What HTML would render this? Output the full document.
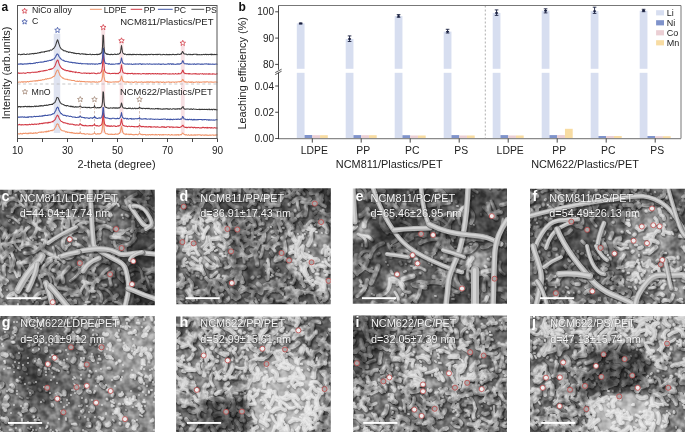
<!DOCTYPE html>
<html><head><meta charset="utf-8"><style>
html,body{margin:0;padding:0;background:#fff;}
svg{display:block;}
text{opacity:0.999;}
</style></head><body>
<svg width="685" height="432" viewBox="0 0 685 432">
<defs><filter id="bf" x="-20%" y="-20%" width="140%" height="140%" color-interpolation-filters="sRGB"><feGaussianBlur stdDeviation="6"/></filter>
<filter id="fb2" x="-30%" y="-30%" width="160%" height="160%" color-interpolation-filters="sRGB"><feGaussianBlur stdDeviation="2"/></filter>
<filter id="fb3" x="-30%" y="-30%" width="160%" height="160%" color-interpolation-filters="sRGB"><feGaussianBlur stdDeviation="3"/></filter>
<filter id="fb4" x="-30%" y="-30%" width="160%" height="160%" color-interpolation-filters="sRGB"><feGaussianBlur stdDeviation="4"/></filter>
<filter id="bw" x="-5%" y="-5%" width="110%" height="110%" color-interpolation-filters="sRGB"><feGaussianBlur stdDeviation="0.5"/></filter>
<clipPath id="cpc"><rect x="0" y="189.7" width="154.80" height="115.60"/></clipPath>
<filter id="txc" x="0" y="0" width="100%" height="100%" filterUnits="objectBoundingBox" color-interpolation-filters="sRGB"><feTurbulence type="fractalNoise" baseFrequency="0.15" numOctaves="2" seed="3"/><feColorMatrix type="matrix" values="2.0 0 0 0 -0.5  2.0 0 0 0 -0.5  2.0 0 0 0 -0.5  0 0 0 0 1"/><feGaussianBlur stdDeviation="0.6"/></filter>
<path id="wc0" d="M-0 243Q-0 232 -11 229M31 220Q26 211 32 203M18 262Q22 265 27 262M122 305Q126 309 127 314M130 245Q124 244 119 246M125 231Q132 225 139 231M124 231Q117 229 114 235M65 192Q73 193 81 195M17 277Q14 267 5 264M69 230Q69 238 76 239M98 282Q90 276 95 268M152 292Q149 284 146 277M72 204Q67 208 60 206M66 213Q71 211 77 211M97 240Q102 236 100 230M80 293Q83 282 94 283M73 270Q79 266 86 261M130 284Q137 288 145 286M20 261Q22 267 26 272M87 268Q84 275 84 283M31 193Q32 187 36 184M128 293Q126 300 119 301M126 279Q130 276 133 274M30 207Q35 206 39 209M45 302Q41 310 37 318M20 205Q13 206 12 212M86 199Q89 190 86 182M43 269Q50 274 51 282M46 243Q48 238 45 233M156 185Q156 181 157 177M7 298Q11 290 19 293M101 208Q106 208 110 204M84 300Q86 293 93 289M68 230Q69 224 69 217M115 299Q108 298 104 303M58 281Q54 285 56 289M6 206Q2 202 1 196M67 217Q76 218 84 219M93 198Q89 207 79 206M0 257Q4 252 10 248M28 288Q23 285 17 287M55 286Q56 276 47 272M97 235Q99 231 102 227M63 306Q66 303 70 303M156 253Q162 252 168 253M13 271Q10 265 10 258M30 223Q29 217 22 216M26 189Q22 186 17 185M66 226Q66 221 69 217M96 198Q100 190 95 182M113 301Q112 289 100 288M158 281Q163 279 168 277M151 194Q147 187 148 178M128 310Q133 317 134 325M62 303Q59 307 54 307M16 195Q18 204 27 208M36 242Q30 246 25 241M67 259Q63 251 56 246M146 232Q153 224 147 214M64 219Q61 224 62 231M70 244Q67 246 65 250M25 239Q24 233 26 228M20 250Q11 243 15 233M58 215Q68 211 72 220M53 247Q55 253 56 260M72 204Q67 209 71 214M39 264Q44 257 52 260M50 198Q55 192 58 186M123 253Q118 256 118 261M160 236Q165 235 167 240M125 297Q131 300 136 305M149 304Q152 310 159 311M96 197Q91 191 89 184M37 244Q28 243 25 234M70 304Q64 310 56 309M23 196Q21 189 14 187M50 295Q46 298 42 299M43 209Q51 211 60 213M71 300Q66 304 65 311M2 252Q9 254 11 261M137 266Q144 273 142 282M82 185Q77 190 71 188M141 206Q148 203 153 209M70 281Q77 277 80 270M36 270Q39 278 42 285M86 305Q76 309 78 319M93 197Q88 203 80 205M139 270Q134 268 130 271M49 271Q50 263 58 262M115 302Q120 302 124 306M19 223Q14 217 7 216M6 195Q3 201 3 209M150 303Q158 301 158 293M45 227Q44 236 53 239"/>
<path id="wc1" d="M84 270Q89 270 93 266M44 230Q50 232 50 238M130 258Q123 253 126 245M98 305Q95 309 98 314M135 307Q129 305 123 308M153 263Q154 272 146 274M80 254Q85 259 92 259M109 268Q102 272 99 280M133 218Q138 208 129 201M40 221Q36 216 34 209M64 262Q56 254 46 260M2 244Q8 242 12 247M96 259Q97 252 104 253M86 223Q81 218 75 222M153 288Q157 282 158 276M146 252Q151 249 154 245M93 217Q84 219 75 218M74 255Q70 260 64 257M39 204Q35 212 34 221M45 252Q43 257 41 263M70 300Q60 305 54 295M93 271Q92 261 83 257M45 185Q39 179 31 177M145 203Q139 201 133 199M84 238Q89 243 96 242M131 199Q139 201 148 198M76 229Q80 221 88 222M111 285Q109 279 109 273M2 296Q-4 290 2 284M-1 242Q-0 251 8 256M101 247Q107 254 116 252M86 202Q85 195 89 190M47 201Q50 205 47 210M28 221Q33 223 37 227M3 238Q5 234 6 230M84 278Q85 283 90 283M157 218Q149 216 147 208M126 200Q131 196 136 194M23 191Q27 197 31 203M10 235Q3 241 7 250M-3 249Q1 255 2 262M95 255Q103 255 106 262M119 251Q115 247 114 242M93 215Q96 222 104 222M5 246Q12 241 21 241M101 301Q103 295 98 291M133 185Q140 188 145 194M14 260Q12 254 10 249M43 247Q46 240 47 233M40 275Q44 275 49 273M157 253Q161 246 168 248M31 238Q38 232 36 224M45 209Q53 211 59 216M122 280Q117 277 118 272M12 235Q17 232 22 229M34 272Q37 263 37 255M149 194Q148 188 147 182M11 249Q7 256 -0 261M117 199Q113 207 105 211M75 203Q79 207 75 212M59 264Q55 269 58 274M146 290Q141 282 133 284M133 305Q133 312 131 319M38 222Q38 218 38 214M102 207Q97 205 93 207M83 298Q79 293 76 286M62 226Q66 229 71 230M64 303Q62 296 57 292M82 202Q86 200 90 199M21 247Q24 243 23 239M118 248Q113 253 113 260M87 254Q92 247 90 238M96 275Q85 274 84 264M158 210Q158 215 153 217M26 201Q25 212 36 215M55 197Q54 205 46 207M75 231Q72 222 72 213M39 256Q28 260 31 271M23 238Q23 231 29 227M80 295Q70 296 66 287M43 197Q47 191 54 193M139 229Q134 232 134 237M45 231Q37 230 34 223M136 290Q136 282 144 279M159 291Q156 295 151 295M19 285Q18 293 10 296M80 200Q85 204 84 211"/>
<path id="wc2" d="M98 278Q106 278 113 272M56 294Q63 295 66 301M37 303Q33 310 26 316M52 229Q48 222 54 216M51 261Q41 265 42 276M10 271Q13 266 14 260M109 310Q112 315 118 313M147 189Q146 197 139 202M23 232Q20 236 15 236M40 244Q43 253 53 255M102 258Q98 258 94 255M101 277Q92 281 92 291M133 302Q133 296 128 291M92 263Q89 258 92 253M155 245Q150 250 143 252M95 229Q104 223 112 229M151 223Q162 225 162 237M53 270Q63 271 63 282M160 273Q160 268 164 266M117 295Q114 298 109 299M20 264Q26 261 31 257M103 195Q112 195 115 203M70 234Q75 228 82 231M-0 276Q-0 281 5 283M18 263Q20 269 19 275M128 239Q120 237 111 237M74 189Q64 190 63 201M90 267Q97 266 102 260M123 207Q127 209 133 210M0 290Q-4 280 -15 283M45 191Q49 188 54 190M154 268Q149 271 144 269M90 240Q91 230 81 227M55 226Q52 222 48 222M74 244Q81 244 85 251M107 261Q100 261 94 261M61 308Q69 307 75 301M5 203Q10 196 17 200M29 221Q31 217 30 212M119 269Q128 266 133 258M8 237Q5 232 2 228M132 295Q126 300 119 303M55 287Q56 293 51 296M27 286Q23 282 19 285M152 271Q159 272 165 275M141 209Q146 207 145 202M154 215Q153 222 153 229M64 248Q60 240 68 234M69 267Q63 273 57 279M91 259Q84 261 83 268M87 186Q89 182 91 178M2 259Q2 254 -0 250M90 252Q91 244 86 238M10 193Q10 185 3 183M70 204Q64 197 59 190M149 228Q145 229 142 231M133 222Q134 226 132 231M40 254Q34 262 24 262M157 201Q163 206 163 215M86 285Q90 292 86 299M127 245Q132 243 135 238M4 275Q3 270 4 266M74 291Q66 288 58 288M46 292Q38 291 34 299M136 215Q129 209 126 201M13 242Q14 236 17 231M7 281Q1 277 -4 272M115 234Q121 235 124 231M138 300Q130 302 125 308M87 288Q82 281 86 273M25 253Q33 254 39 248M13 249Q6 256 -3 251M46 270Q41 273 37 269M68 204Q64 209 58 207M142 224Q147 220 151 216M79 291Q71 291 65 295M66 222Q60 214 52 219M-3 271Q2 275 0 281M35 247Q28 242 21 247"/>
<path id="pc0" d="M29 191l0 1M157 227l-1 1M123 218l-0 0M73 215l-0 -0M56 303l1 -1M92 226l-0 1M134 283l0 1M92 211l-2 -1M33 240l-0 1M88 302l2 0M132 290l-1 1M69 255l0 0M144 209l0 1M148 194l-2 1M29 281l-1 -0M111 273l0 2M43 306l-1 0M120 244l-2 1M156 226l2 -0M17 241l-1 -1M135 205l-1 -1M82 268l1 -1M5 303l-1 0M30 253l1 -0M16 250l0 1M13 223l0 -0M47 302l-0 1M156 239l-2 0M104 193l1 -1M31 215l-0 -0M33 302l-1 -2M45 306l1 -0M9 221l1 -1M80 232l-1 0M93 278l2 0M50 197l1 -0M46 261l-1 0M73 302l0 -1M124 273l-0 0M80 273l-0 -1M133 292l1 -0M43 295l-0 -1M73 255l-0 2M125 197l-0 0M94 226l-0 2M92 257l0 0M53 202l-0 -2M109 220l-0 -0M95 297l-2 0M74 301l2 2M147 227l-1 -1M52 234l-0 -0M67 288l-1 -1M40 276l-2 -1M138 226l-0 -0M123 247l-1 0M106 225l-1 -0M100 255l2 1M73 296l-2 -0M95 291l-1 1M3 200l-0 0M56 301l0 1M30 214l-1 1M20 298l-0 1M126 305l2 -0M100 211l2 -1M40 237l-1 -0M112 276l-1 1M158 283l-1 0M93 224l-2 0M158 308l2 1M55 239l1 -0M13 217l0 0M43 307l0 1M18 305l0 -1M95 221l-1 -0M140 205l-0 2M76 242l0 1M136 208l-2 -1M97 306l0 -2M18 240l1 1M112 242l0 1M77 196l0 -0M36 188l1 -2M105 286l1 -1M90 214l-2 0M19 268l1 -1M64 216l1 -2M21 283l0 -0M10 190l1 1M61 297l-0 2M24 233l-1 2M118 204l1 2M7 290l-0 0M124 248l0 2M157 281l0 -2M141 252l0 1M96 246l2 -1M131 236l0 0M111 230l1 1M123 282l-1 -1M71 217l0 -2M151 270l-1 -1M41 277l-1 -1"/>
<path id="pc1" d="M2 202l0 -0M16 296l0 -2M60 216l1 -2M59 256l1 0M-2 205l2 -1M34 212l-1 -1M132 204l1 2M92 284l-1 -1M87 260l-1 2M42 287l-0 -1M109 263l0 0M127 233l2 1M75 205l-0 -2M56 262l-1 -1M151 284l2 1M68 209l0 0M153 247l-1 -1M128 216l-2 -1M35 237l-0 0M16 205l0 -1M120 307l-0 -0M48 302l0 -0M59 201l-2 -0M116 285l-0 0M19 274l-1 1M42 240l2 0M36 238l0 0M81 269l-2 -0M29 273l-0 -0M-1 269l0 1M143 218l-1 0M8 197l-2 -1M69 207l1 1M117 232l1 -2M12 211l0 -2M105 201l-2 2M15 191l2 -1M22 227l-1 2M24 294l2 1M110 213l1 2M94 246l-2 1M49 219l1 -0M134 307l-1 1M59 203l0 2M92 306l-0 -1M78 247l0 0M98 236l-0 -1M118 237l-2 -1M103 246l-1 2M149 277l2 0M105 249l0 -0M155 210l2 -2M30 263l0 0M154 208l-0 -0M98 189l2 -1M108 219l-0 -0M27 239l0 0M6 305l-2 -1M81 218l-0 2M149 300l1 -0M122 215l0 0M28 207l1 1M114 276l-1 0M40 206l0 -1M104 286l-1 -1M15 294l1 0M79 189l1 0M50 216l-1 -1M22 199l-1 2M26 297l1 2M122 306l-0 -1M123 274l-1 -1M147 205l-0 -0M136 214l1 -2M66 246l-1 0M69 254l0 0M37 284l0 1M155 226l-1 -0M20 219l-1 1M107 262l-0 -1M-1 225l0 -0M88 302l-2 -0M106 285l-2 -0M144 304l-0 2M110 278l0 1M60 293l0 -0M52 275l-1 -1M121 279l1 -1M140 308l0 1M110 216l-1 -1M157 263l-1 0M114 274l-0 0M135 206l1 2M99 239l1 -0M21 286l-1 1M83 281l-1 1"/>
<clipPath id="cpd"><rect x="176.1" y="188.3" width="154.70" height="115.90"/></clipPath>
<filter id="txd" x="0" y="0" width="100%" height="100%" filterUnits="objectBoundingBox" color-interpolation-filters="sRGB"><feTurbulence type="fractalNoise" baseFrequency="0.15" numOctaves="2" seed="10"/><feColorMatrix type="matrix" values="2.0 0 0 0 -0.5  2.0 0 0 0 -0.5  2.0 0 0 0 -0.5  0 0 0 0 1"/><feGaussianBlur stdDeviation="0.6"/></filter>
<path id="wd0" d="M201 220Q199 228 205 232M225 268Q232 267 232 260M302 283Q301 279 297 277M195 202Q194 200 192 197M335 251Q331 252 329 249M272 243Q277 242 278 236M196 210Q199 216 203 221M293 309Q297 309 299 306M299 254Q294 254 291 249M315 295Q314 303 322 306M295 273Q296 278 293 283M174 237Q168 239 161 236M288 261Q285 258 283 256M175 305Q175 301 179 298M308 292Q304 293 302 291M196 225Q194 231 199 234M305 302Q301 306 299 311M268 199Q274 194 271 188M210 243Q206 246 204 249M235 269Q235 263 230 259M261 256Q262 252 263 248M283 252Q280 255 278 258M217 188Q219 185 221 183M225 302Q229 301 229 297M238 226Q242 222 247 220M273 190Q269 192 266 190M294 191Q291 197 285 196M217 272Q214 274 211 277M231 265Q228 260 229 255M311 225Q314 229 311 233M335 283Q333 278 337 273M200 294Q193 294 189 289M287 189Q291 192 290 198M304 273Q302 270 305 267M171 305Q164 305 161 311M281 231Q279 226 277 222M225 198Q231 200 237 198M313 280Q309 283 305 281M268 279Q269 272 266 267M177 247Q176 252 172 255M175 287Q181 285 187 282M218 188Q222 181 230 184M269 292Q273 291 276 288M243 249Q243 245 240 243M225 221Q229 221 232 217M332 294Q331 291 329 289M309 292Q314 294 318 292M255 219Q254 215 256 212M248 207Q251 204 252 201M192 257Q195 258 198 261M246 300Q253 301 255 307M267 269Q271 268 273 272M202 197Q200 193 195 193M215 265Q209 261 205 257M185 228Q182 231 183 236M330 266Q326 264 325 260M173 232Q166 230 167 223M275 251Q271 244 263 246M268 228Q265 233 259 234M276 285Q270 281 264 285M328 247Q322 248 322 253M219 275Q217 281 213 285M202 247Q208 244 207 237M226 280Q230 277 235 275M297 200Q297 205 299 210M257 249Q254 256 246 257M272 309Q278 314 284 309M268 294Q263 298 263 305M231 279Q228 276 223 276M321 211Q327 217 334 212M254 242Q258 242 262 243M182 220Q184 214 181 209M213 200Q212 193 213 187M228 213Q230 216 229 220M291 305Q286 300 279 301M275 261Q278 257 283 257M251 245Q252 239 253 233M268 261Q269 265 268 269M175 296Q177 302 183 305M285 274Q287 281 280 283M205 254Q210 251 214 247M320 286Q321 283 323 280M201 188Q205 185 209 182M212 300Q215 304 214 309M329 187Q330 191 328 194M214 222Q212 216 206 216M279 287Q277 283 277 279M201 271Q202 267 200 264M173 309Q175 312 173 315M260 230Q256 233 252 233M242 250Q244 256 244 262M187 266Q189 269 192 272M318 226Q325 223 323 216M178 309Q182 309 186 309M222 197Q225 192 224 187M172 196Q169 195 167 193M212 189Q207 188 203 192M192 242Q194 249 198 254M304 194Q300 190 299 185M187 221Q187 213 193 210M259 190Q256 194 259 199M243 239Q246 239 249 242M185 247Q187 242 187 236M183 296Q178 298 174 295M229 184Q229 179 231 176M208 200Q213 202 215 208M217 204Q216 207 213 209M202 270Q197 268 191 269M223 282Q225 279 226 276M253 232Q251 228 255 224M317 221Q310 219 307 225M282 293Q280 290 277 291M280 280Q279 285 278 290M298 290Q291 292 286 287"/>
<path id="wd1" d="M201 267Q202 270 204 274M199 209Q195 206 190 208M310 283Q307 278 304 273M172 308Q172 301 179 299M230 226Q229 219 222 218M272 285Q279 286 285 285M261 184Q259 189 261 195M208 291Q205 293 203 296M215 227Q216 223 213 220M282 238Q286 237 286 233M289 223Q287 229 290 235M302 247Q296 251 299 257M294 261Q302 263 302 271M329 216Q322 212 316 218M224 249Q226 244 231 241M216 203Q219 208 220 215M218 207Q217 211 215 214M257 197Q261 201 267 200M308 290Q311 288 313 285M250 291Q254 292 258 290M183 278Q182 283 177 286M275 221Q274 227 277 233M266 204Q272 205 279 205M310 199Q306 201 303 199M283 301Q286 299 289 295M335 197Q341 195 345 201M215 221Q221 225 223 231M221 236Q222 240 225 242M273 214Q278 218 281 224M274 246Q277 242 282 244M287 184Q294 185 297 190M185 231Q182 228 177 228M322 305Q322 311 328 314M218 285Q216 280 210 281M200 269Q195 267 190 270M259 292Q256 287 250 285M226 288Q225 280 217 279M314 266Q309 264 304 264M243 211Q238 214 239 220M248 288Q244 290 240 292M265 265Q269 268 268 273M174 285Q171 289 168 293M313 191Q316 191 317 187M206 212Q208 214 210 217M205 304Q210 306 214 310M295 185Q291 179 296 174M320 222Q322 217 319 214M193 300Q191 295 190 289M289 277Q289 272 293 271M248 187Q243 188 241 183M313 271Q311 267 309 263M189 280Q194 284 191 290M277 274Q283 276 289 277M297 296Q293 300 291 304M320 203Q321 199 322 195M309 258Q313 259 317 259M304 286Q301 280 299 274M255 226Q251 225 247 228M239 188Q240 194 238 200M198 190Q198 185 195 182M229 189Q229 192 231 195M190 247Q190 250 188 253M206 278Q208 281 212 283M296 252Q293 251 290 253M215 284Q216 290 217 295M318 199Q320 205 325 206M179 213Q184 216 190 217M290 222Q293 218 292 214M212 249Q210 243 209 237M286 289Q289 293 291 297M251 216Q252 213 253 210M291 270Q294 272 297 273M313 260Q307 264 304 269M238 273Q236 278 235 283M237 190Q232 191 230 187M234 252Q238 254 243 254M302 202Q308 204 314 203M293 202Q297 197 302 198M253 293Q252 300 250 306M185 196Q192 194 195 200M257 257Q256 252 251 250M243 282Q238 278 240 272M255 217Q259 219 260 224M203 238Q204 231 208 227M306 258Q300 254 303 246M273 224Q277 223 279 219M230 192Q223 188 224 181M228 290Q231 296 236 299M226 228Q231 227 236 228M303 230Q302 226 300 223M250 192Q247 192 245 189M226 228Q222 222 226 217M218 265Q219 261 216 258M274 285Q279 283 284 285M250 291Q245 289 241 286M312 192Q309 189 307 186M207 289Q208 292 209 295M255 204Q249 202 248 194M187 219Q182 221 177 224M227 249Q223 247 219 245M334 301Q332 307 326 311M253 252Q258 247 260 241M296 256Q296 250 296 244M258 195Q256 192 252 190M255 255Q257 260 257 265M224 192Q229 191 233 189M315 294Q318 289 324 291M275 196Q275 203 270 207M245 246Q249 242 254 243M334 271Q330 273 325 271M234 271Q239 271 243 267M231 276Q234 271 238 268M185 259Q182 261 184 265M220 301Q219 297 222 295M334 184Q328 187 324 183M305 254Q308 255 311 257M194 199Q198 201 202 200M298 216Q300 214 303 212"/>
<path id="wd2" d="M207 221Q209 219 213 220M238 227Q239 232 237 237M221 198Q224 193 229 193M238 244Q238 240 236 237M325 282Q321 280 317 278M306 206Q306 211 305 215M181 287Q184 281 181 275M193 221Q198 222 202 225M264 234Q264 237 263 240M207 292Q201 289 195 293M299 291Q295 297 288 294M323 288Q328 292 326 298M318 260Q313 261 308 262M292 288Q294 292 296 297M214 221Q216 217 219 215M284 251Q284 259 276 260M211 283Q209 286 208 290M296 299Q297 304 299 308M205 199Q202 202 201 206M307 187Q307 183 303 183M261 293Q263 288 258 284M214 267Q209 269 207 265M296 264Q298 260 301 256M191 263Q195 267 201 266M242 232Q245 231 248 233M301 282Q300 276 294 275M234 255Q234 259 234 262M173 205Q178 200 174 193M217 216Q221 214 223 217M237 248Q240 249 241 252M182 196Q183 190 184 184M227 233Q226 230 223 228M185 232Q180 233 175 232M325 290Q323 283 316 282M331 221Q326 217 322 222M235 216Q231 217 229 221M239 297Q237 292 232 290M201 294Q198 294 195 293M286 309Q282 309 279 310M285 251Q285 245 283 238M242 230Q243 223 237 220M242 282Q242 276 236 273M283 278Q279 285 272 282M316 267Q320 264 325 267M219 238Q215 239 211 239M317 194Q318 197 318 200M296 274Q292 271 288 266M333 192Q337 198 334 204M218 183Q217 186 218 190M199 210Q197 215 195 220M175 232Q171 231 167 231M195 247Q190 250 184 250M284 193Q281 198 278 203M245 240Q251 240 254 245M188 211Q183 215 184 223M183 215Q177 219 172 214M271 301Q267 301 263 304M181 189Q177 188 173 188M305 266Q304 271 307 275M274 290Q269 287 264 288M194 227Q194 232 188 233M327 232Q328 225 321 222M242 218Q240 223 244 227M182 209Q185 215 183 220M244 236Q239 238 234 238M285 218Q286 223 291 223M325 291Q324 288 324 284M186 247Q189 243 193 245M325 246Q326 251 326 255M183 205Q179 201 181 195M229 203Q234 208 241 208M212 202Q213 197 219 197M246 256Q242 253 237 256M276 239Q270 242 267 248M295 219Q291 221 287 225M333 283Q337 280 342 283M289 288Q293 296 301 293M308 245Q312 240 311 233M214 291Q217 288 222 288M291 247Q300 246 300 238M183 203Q180 198 174 198M314 202Q317 203 321 201M191 298Q190 294 187 291M320 189Q316 192 311 193M240 255Q236 255 232 258M196 188Q196 193 194 198M293 273Q289 270 292 265M267 197Q266 203 271 206M321 289Q321 293 318 295M296 242Q293 239 292 234M234 266Q239 267 244 267M304 227Q309 228 313 230M221 290Q214 287 214 280M298 251Q296 247 298 244M289 265Q292 267 295 269M244 214Q248 218 254 222M271 214Q276 217 281 218M217 229Q221 234 227 236"/>
<path id="pd0" d="M196 227l-0 2M217 250l-2 1M200 263l-0 2M280 185l-1 2M232 296l-0 2M173 224l-0 1M184 198l1 -0M237 215l-1 -1M262 234l-0 -0M331 202l-1 -1M312 188l0 0M190 291l2 1M290 268l2 -1M223 290l0 -0M180 279l2 -1M305 292l-0 2M276 210l-0 0M308 230l-0 -0M190 247l-0 1M197 299l0 1M325 299l1 1M322 221l0 -0M267 299l0 2M242 253l-1 2M181 282l0 1M224 288l-0 -1M265 301l-1 1M238 299l-1 -0M293 305l2 1M238 280l1 -0M281 211l0 -0M284 228l-1 -0M198 216l2 1M327 306l-0 2M245 299l0 -0M214 198l-1 0M222 210l1 2M214 191l-0 -1M259 240l1 0M327 274l-0 0M309 252l-0 -0M205 200l-0 -2M331 299l1 0M246 190l0 0M322 302l-1 1M282 247l-1 0M273 210l1 0M316 224l-1 1M225 300l0 0M266 219l1 0M199 241l0 -0M231 272l1 -0M278 274l-0 1M323 206l-0 -1M186 263l2 -1M298 252l-0 1M255 217l0 0M236 304l-2 1M189 275l-2 -2M266 271l-0 0M210 241l-0 -1M323 225l1 -2M303 235l0 2M232 271l0 1M270 253l-0 -0M209 253l0 -2M277 268l0 -0M295 274l-1 2M251 252l-0 -1M291 286l0 0M199 277l-0 -1M209 250l0 -0M324 299l-1 0M313 289l-1 -1M317 232l-1 0M278 210l-1 1M275 224l1 -1M283 293l0 2M261 239l0 1M216 203l0 0M316 191l-1 -1M190 187l-1 -2M311 189l-1 -0M212 219l-0 0M285 189l-1 0M174 276l1 0M328 247l0 1M314 222l-0 -1M174 299l-0 0M310 229l1 0M267 285l1 -0M306 210l0 -2M253 237l2 -0M194 190l2 0M323 301l2 0M272 195l-1 -1M225 222l-2 -1M269 287l0 -1M271 227l0 0M322 233l-0 -0M246 237l-2 1M296 254l-0 -1M258 235l1 -1M195 288l2 -1M281 193l2 -0M197 276l-0 -0M230 247l-0 -0M216 234l-1 -2M271 277l0 -0M240 289l-1 2M268 259l-1 2M196 291l-0 0M197 198l-2 -1M272 275l1 1M243 291l0 -0M179 195l-1 0M192 205l-1 -1M302 278l-0 -1M318 226l-0 -2M235 200l-0 -0M297 295l0 -1M240 192l-1 -1M323 200l0 -0M191 241l2 -0M225 256l1 -0M328 255l2 -0M177 266l0 1M292 225l2 -0M328 191l-0 -0M290 203l1 -1M176 299l1 -1M274 238l-2 -1M203 247l0 -0M186 302l1 1M298 234l-0 0M260 230l1 -1M259 200l-1 0M305 186l0 1M202 234l0 -0M183 306l1 -1M210 283l-1 2M208 293l-0 0M184 202l0 -1M258 277l2 -1M215 257l1 2M294 291l-1 0M259 300l-0 0M320 201l1 1M181 194l1 -1M256 300l-1 -2M279 270l-1 1M305 234l-0 -0"/>
<path id="pd1" d="M314 262l0 0M323 266l-0 -0M173 191l-0 -0M259 252l0 0M183 286l-2 0M221 233l-0 -0M215 215l1 1M324 298l-0 0M256 197l0 1M187 202l1 -0M302 189l0 -1M201 278l-0 -1M287 191l-0 0M250 225l-0 -0M293 239l1 2M219 201l-1 -1M331 250l0 -0M173 203l-1 2M263 223l-0 1M300 303l1 -0M274 231l-2 1M221 240l1 0M323 262l0 0M180 193l1 -0M227 299l0 -0M192 253l2 0M189 244l-1 1M184 189l1 1M277 301l-0 -0M247 259l-1 -0M226 243l-1 1M293 288l0 2M199 255l-0 0M272 255l-1 -2M250 297l-1 1M223 256l0 -0M331 253l0 -1M291 228l-1 1M239 231l1 -2M325 259l-0 0M222 254l-2 -0M301 238l-1 -1M267 279l-1 -2M257 303l-1 -2M226 253l1 -2M193 246l-1 1M333 225l-1 1M248 187l-0 -2M273 282l-0 -0M285 260l0 0M211 283l1 -0M289 265l0 -2M182 266l-0 -0M236 229l-0 1M317 221l-0 0M314 209l-1 0M248 190l-0 -0M216 191l-2 0M231 249l-2 -1M228 305l-2 -0M227 235l1 0M175 247l1 -1M267 217l-0 0M326 306l2 1M327 250l1 -1M227 251l0 1M238 275l0 -1M252 278l1 -1M178 201l1 2M313 229l2 -0M235 199l1 -0M329 254l1 1M333 300l-0 -1M251 191l-0 0M201 258l-0 0M260 257l0 0M326 275l1 -0M302 216l0 0M201 297l-0 0M221 265l-2 -1M318 274l-2 -0M235 215l2 -0M259 218l-0 -0M295 211l0 -1M200 261l-0 -2M197 292l0 2M276 257l-1 2M294 189l-1 0M278 231l-2 -0M259 208l0 -1M225 263l1 2M196 216l0 -0M332 260l0 -0M177 284l2 -1M265 190l1 -1M183 299l-1 0M301 191l-1 -1M213 244l-0 -0M268 259l0 1M310 236l-1 0M256 192l-1 1M307 257l-1 1M174 267l-0 -0M212 276l-1 -1M301 262l0 0M190 237l1 0M227 248l-1 -0M206 249l1 1M293 195l1 -1M329 258l-0 2M293 228l-0 -1M285 297l-0 1M219 228l-0 -1M237 242l-0 -0M217 266l1 -0M303 264l0 0M293 283l-2 -0M304 303l0 2M290 195l-1 1M269 269l0 2M321 297l-1 1M286 231l-0 -0M323 212l-0 -2M256 233l-0 0M245 267l-1 1M182 236l1 1M189 253l-0 2M244 224l-0 1M181 298l2 -1M289 205l-0 -1M294 299l1 -1M189 208l1 0M319 215l0 -0M311 277l-2 1M246 200l-1 -0M291 223l-1 2M316 212l-1 1M272 299l-1 -0M220 238l1 1M315 245l0 0M254 226l0 -0M325 227l-2 -2M318 269l-0 1M299 194l-2 -1M306 265l-0 -2M303 238l-1 -1M176 241l0 0M333 283l-1 0"/>
<clipPath id="cpe"><rect x="352.8" y="188.5" width="154.20" height="115.30"/></clipPath>
<filter id="txe" x="0" y="0" width="100%" height="100%" filterUnits="objectBoundingBox" color-interpolation-filters="sRGB"><feTurbulence type="fractalNoise" baseFrequency="0.15" numOctaves="2" seed="17"/><feColorMatrix type="matrix" values="2.0 0 0 0 -0.5  2.0 0 0 0 -0.5  2.0 0 0 0 -0.5  0 0 0 0 1"/><feGaussianBlur stdDeviation="0.6"/></filter>
<path id="we0" d="M350 198Q343 193 345 186M436 273Q440 268 445 272M370 251Q361 249 359 258M396 255Q390 251 388 244M409 303Q410 312 406 319M393 230Q384 229 383 219M428 283Q420 279 412 284M437 214Q441 205 435 197M408 234Q404 243 394 246M401 221Q411 223 416 233M378 188Q376 194 374 201M509 218Q504 223 507 229M460 224Q455 212 466 205M468 279Q466 272 469 266M433 223Q436 229 432 234M446 223Q439 216 429 217M491 201Q494 207 496 214M374 272Q366 270 360 263M477 192Q468 188 465 178M358 186Q363 186 367 185M360 235Q366 235 371 239M358 234Q367 237 366 246M437 233Q440 228 438 222M447 268Q450 278 443 286M503 219Q502 229 499 238M392 199Q386 201 383 195M410 292Q405 293 403 289M401 286Q400 279 392 278M425 270Q420 266 414 268M462 287Q452 285 446 275M372 240Q369 235 363 236M435 220Q441 217 447 213M411 190Q418 189 421 183M367 200Q368 190 359 185M395 292Q400 300 399 308M504 274Q497 270 500 262M438 268Q446 273 443 282M446 201Q443 196 439 194M412 253Q403 250 394 249"/>
<path id="we1" d="M367 280Q366 291 357 296M358 190Q363 192 364 198M353 276Q344 271 342 261M468 208Q476 214 471 223M367 196Q378 199 382 209M390 279Q391 293 378 296M356 260Q355 266 360 270M414 249Q405 248 398 253M401 230Q400 238 393 242M461 256Q461 250 467 248M382 214Q378 225 387 232M437 224Q431 224 428 219M497 245Q490 242 485 247M398 232Q390 233 383 227M356 255Q350 265 357 274M501 212Q490 216 484 207M484 275Q490 278 490 285M357 255Q355 264 349 272M384 191Q373 188 366 197M370 257Q372 246 383 243M425 218Q431 218 435 212M446 286Q451 291 458 292M481 304Q486 302 487 297M491 243Q487 248 482 247M460 257Q451 262 442 258M403 246Q411 252 409 261M401 215Q398 204 387 203M409 238Q416 231 424 236M434 253Q430 256 426 253M439 239Q429 238 420 243M501 205Q507 204 512 201M421 194Q422 189 426 186M461 233Q469 233 474 240M463 226Q466 235 462 244M400 249Q404 241 412 238M446 277Q439 276 436 282M454 237Q447 234 449 226M415 301Q419 296 420 290M348 230Q353 230 356 226M427 229Q420 227 421 220M485 279Q483 284 484 290M441 283Q433 281 425 283M435 190Q442 189 445 195M412 298Q407 301 402 301M445 228Q452 222 453 213M405 247Q400 245 397 249"/>
<path id="we2" d="M408 303Q408 308 410 313M508 308Q510 318 502 324M501 289Q508 291 507 299M367 209Q364 216 357 216M374 308Q379 310 384 311M443 239Q449 248 457 254M461 253Q454 250 446 252M425 287Q420 287 414 285M493 270Q483 271 475 276M443 234Q442 243 445 251M480 239Q472 237 466 241M422 234Q428 224 420 216M391 281Q400 280 403 287M461 289Q454 282 455 272M445 280Q440 275 434 277M420 223Q420 215 413 210M449 202Q439 203 429 205M433 237Q434 224 422 221M350 254Q339 255 333 246M404 204Q402 211 395 214M406 303Q410 299 415 296M435 250Q438 243 443 237M445 257Q446 249 448 241M421 214Q416 217 411 215M456 259Q460 264 467 261M510 291Q509 297 503 296M428 222Q425 228 427 235M492 289Q501 289 510 289M462 269Q468 265 472 258M371 283Q375 275 378 266M358 272Q365 268 367 261M403 279Q408 277 413 276M349 259Q359 265 367 256M448 276Q452 286 463 288M356 261Q350 268 342 274M511 244Q510 252 517 254M389 207Q390 203 393 199M364 226Q364 217 372 214M407 208Q413 210 419 210M488 204Q487 214 496 218M461 247Q462 258 469 265M392 302Q383 309 373 303M478 291Q477 296 472 299M476 245Q470 255 458 251M382 307Q370 305 364 315"/>
<path id="pe0" d="M499 210l-2 1M421 242l1 -2M365 286l1 2M443 274l-0 0M428 261l1 2M366 187l-1 -1M460 189l-0 -0M396 202l-0 2M368 214l-0 -1M453 239l-0 -0M455 215l2 -2M352 305l1 1M379 306l0 0M427 217l-0 0M388 265l0 0M455 263l-0 1M351 249l-1 -2M370 215l1 -2M474 225l0 -0M413 266l-2 -0M463 273l0 -0M395 298l-1 1M497 244l1 1M352 266l0 1M452 239l1 2M481 215l0 -1M491 257l-0 -0M435 253l-0 -1M429 225l-0 -0M475 283l-1 0M460 235l-0 -1M446 262l-2 -0M362 246l0 -2M457 206l1 -0M471 283l-0 0M404 219l-0 0M382 304l1 2M432 264l-0 1M413 186l0 0M458 286l1 1M375 218l-2 -0M393 274l-0 -0M444 261l1 1M406 296l-0 -1M442 203l-1 -1M467 218l0 -2M459 237l-0 -0M404 272l2 -1M352 296l-0 -0M386 262l-0 0M379 215l0 -1M452 220l2 -1M467 265l-1 0M399 254l-1 -0M490 187l-0 2M436 296l-1 -0M350 238l-0 0M470 199l-0 -1M392 245l-1 1M451 296l0 -0M470 244l1 0M493 291l1 -2M455 247l1 -0M396 196l-1 -1M454 299l-2 0M372 294l2 1M424 236l2 0M508 215l-0 -1M494 269l0 -0M414 193l0 -2M473 196l-0 0M432 257l0 0M406 264l-0 -0M430 218l-1 1M494 283l0 -0M442 218l0 0M503 304l2 0M501 246l0 -1"/>
<path id="pe1" d="M469 297l-0 -2M395 303l2 -0M351 288l-0 1M453 295l-2 -2M449 288l0 0M360 286l1 -1M488 259l1 -0M400 285l1 -2M420 273l0 -0M445 274l0 2M436 228l-0 0M505 246l1 -2M415 259l2 0M510 292l0 -1M363 286l2 0M486 238l1 -2M416 302l-0 -0M482 240l1 -0M387 211l-1 1M423 203l-2 0M504 204l0 0M402 243l-2 -0M369 210l0 -0M475 274l0 0M456 201l0 1M403 294l-1 1M471 247l-0 0M498 188l-0 -1M352 242l-0 -0M426 236l0 -2M502 188l1 -1M361 254l0 -0M469 260l-1 -2M463 237l-1 -0M371 269l1 -1M379 253l-1 1M470 271l1 1M429 237l1 -2M485 266l1 1M450 290l-0 0M354 189l-0 0M435 230l0 -1M387 231l0 2M454 253l-0 1M400 262l1 2M359 261l0 0M420 211l-1 1M471 220l-0 1M357 219l1 2M390 257l1 -0M421 242l0 1M392 273l-1 -2M422 283l-1 -0M355 272l1 -0M418 204l1 1M370 271l-1 -2M397 285l1 -1M408 192l-0 1M400 210l1 1M401 255l1 -1M481 274l-2 -0M439 273l2 -0M393 218l-2 -1M447 228l-1 -0M441 247l-1 1M509 273l1 -0M508 230l-0 -1M361 282l-1 -2M406 297l0 1M462 227l0 0M448 227l1 1M448 213l1 0"/>
<clipPath id="cpf"><rect x="530" y="188.7" width="155.00" height="115.30"/></clipPath>
<filter id="txf" x="0" y="0" width="100%" height="100%" filterUnits="objectBoundingBox" color-interpolation-filters="sRGB"><feTurbulence type="fractalNoise" baseFrequency="0.15" numOctaves="2" seed="24"/><feColorMatrix type="matrix" values="2.0 0 0 0 -0.5  2.0 0 0 0 -0.5  2.0 0 0 0 -0.5  0 0 0 0 1"/><feGaussianBlur stdDeviation="0.6"/></filter>
<path id="wf0" d="M592 252Q596 254 596 259M639 231Q638 229 637 226M541 243Q542 245 544 246M627 306Q629 310 625 313M558 198Q560 196 560 193M646 184Q648 180 652 181M526 218Q522 217 521 213M674 280Q672 278 669 279M682 247Q684 248 685 251M591 219Q593 223 596 226M578 258Q578 255 575 254M531 209Q533 211 533 213M604 198Q600 197 598 194M576 309Q572 306 574 303M617 288Q620 286 623 286M612 299Q612 301 611 303M529 208Q529 207 528 205M617 281Q619 280 620 277M538 189Q539 188 541 187M568 207Q563 205 561 209M544 300Q542 298 540 300M527 227Q528 226 530 225M546 272Q544 269 541 265M647 253Q645 253 644 253M632 298Q634 297 636 297M559 193Q554 191 555 186M673 307Q673 309 672 311M551 275Q549 278 549 281M659 201Q659 199 660 198M590 274Q587 271 584 269M535 220Q536 216 535 213M654 223Q658 223 661 226M593 274Q588 273 587 268M585 301Q580 300 578 305M597 213Q597 210 595 207M658 285Q662 282 662 277M549 248Q550 244 546 241M569 268Q571 265 574 263M689 254Q687 250 684 248M536 282Q540 286 536 291M605 196Q609 194 612 197M639 207Q638 206 637 206M602 265Q604 266 604 268M616 281Q619 281 620 284M611 207Q613 209 615 211M542 192Q544 190 547 190M667 269Q669 268 670 267M655 287Q652 288 649 288M539 298Q537 297 535 294M592 199Q594 196 596 194M579 222Q576 220 574 217M640 283Q644 279 648 283M547 297Q548 299 547 301M616 247Q619 251 624 248M624 245Q626 241 630 241M678 300Q680 301 682 302M681 213Q683 209 684 204M665 284Q663 285 663 288M647 306Q649 308 651 307M606 308Q606 310 607 312M574 277Q573 273 570 270M623 279Q623 282 621 286M639 278Q638 276 638 275M663 252Q660 254 661 258M651 278Q655 278 658 280M647 250Q649 252 652 251M674 209Q677 209 680 210M654 270Q656 267 660 265M559 208Q554 208 552 212"/>
<path id="wf1" d="M562 255Q563 253 563 251M581 219Q579 219 577 219M683 197Q686 194 690 196M657 203Q660 204 663 202M579 284Q578 284 576 284M547 300Q546 302 544 304M544 305Q549 306 549 312M528 199Q525 198 522 199M667 300Q664 299 663 301M661 215Q664 216 664 219M652 204Q648 206 643 205M603 283Q605 280 608 278M604 264Q606 264 608 265M657 222Q657 220 655 218M590 208Q590 212 587 215M670 233Q667 233 664 231M551 189Q551 185 550 182M576 275Q575 273 572 273M562 203Q561 203 559 203M605 299Q605 303 609 304M630 293Q629 298 625 298M682 185Q680 185 678 185M576 188Q574 189 572 189M602 240Q603 243 603 246M689 253Q692 252 695 254M586 287Q590 284 595 285M591 289Q588 290 585 293M642 187Q642 191 640 195M685 237Q683 236 680 236M663 234Q665 231 663 227M535 272Q535 268 539 267M659 231Q654 232 653 237M557 212Q557 210 558 207M661 197Q665 196 664 192M664 278Q660 276 659 271M650 240Q651 243 649 245M529 227Q526 229 526 233M639 194Q638 196 638 198M554 233Q553 236 555 238M526 255Q528 260 533 259M639 204Q635 204 633 208M690 258Q689 254 688 251M570 300Q574 305 579 303M674 258Q669 257 665 260M626 223Q628 223 629 225M647 238Q649 234 653 234M619 291Q622 291 623 293M688 256Q691 257 693 259M639 248Q641 248 642 247M612 273Q611 273 609 273M621 277Q616 276 613 279M690 211Q690 207 690 203M667 191Q662 189 664 183M537 206Q538 210 536 213M597 284Q595 283 594 281M542 287Q543 293 538 294M571 230Q569 233 565 234M595 264Q594 267 596 268M671 289Q673 288 676 289M583 202Q581 203 580 201M594 215Q592 214 590 213M668 261Q665 262 662 260M536 249Q538 246 540 243M579 275Q580 280 585 281M673 295Q672 299 670 301M543 268Q544 264 546 262M602 269Q604 270 606 269M583 300Q583 303 581 305M527 203Q533 203 534 198M544 230Q542 229 540 230M594 205Q595 209 596 213M642 302Q639 304 635 304M594 302Q592 301 590 301M539 236Q539 232 535 229M623 267Q622 268 620 267M659 209Q660 211 660 213M619 196Q618 194 619 191M618 243Q622 245 626 245"/>
<path id="wf2" d="M532 304Q533 300 530 297M647 266Q648 264 649 261M621 259Q618 262 619 266M690 279Q687 282 683 280M571 304Q573 305 575 306M615 302Q614 304 615 305M531 213Q528 211 525 213M548 302Q548 304 549 306M680 269Q675 270 674 275M580 185Q576 185 574 181M634 263Q628 262 626 266M623 220Q622 217 623 213M527 227Q525 226 525 224M537 232Q536 234 537 236M529 193Q533 195 537 196M668 272Q671 272 673 274M617 195Q612 194 610 190M620 238Q616 238 615 243M611 308Q613 309 615 310M658 300Q656 299 654 297M527 194Q526 196 526 198M649 253Q653 250 656 247M531 217Q529 218 529 220M612 288Q613 287 615 287M589 281Q589 279 589 277M589 256Q590 254 592 253M610 238Q611 236 612 233M626 190Q628 191 627 193M577 226Q579 225 581 227M687 233Q691 230 690 226M633 305Q630 302 626 300M531 185Q528 185 527 188M628 291Q624 288 619 290M604 232Q603 234 602 235M689 244Q687 243 687 241M609 275Q605 274 602 272M536 186Q539 188 541 188M624 205Q628 204 631 205M614 194Q618 195 620 197M610 184Q611 187 610 189M639 267Q639 268 640 270M687 226Q688 229 691 230M528 244Q526 246 526 248M527 301Q529 303 532 304M665 270Q669 267 673 270M637 228Q639 230 642 229M607 194Q604 195 603 192M658 268Q654 267 652 265M609 214Q610 209 614 208M628 278Q633 278 635 273M645 238Q648 238 649 235M536 207Q537 206 539 206M576 220Q574 218 571 219M550 228Q547 228 546 225M604 244Q606 248 606 252M649 262Q647 263 644 265M657 242Q654 240 650 240M649 305Q644 306 644 310M554 205Q558 203 561 202M597 205Q595 207 596 209M574 224Q575 220 576 216M525 193Q529 194 530 197M558 284Q555 283 550 284M663 295Q660 292 657 294M562 203Q563 200 561 198M566 222Q564 221 563 220M541 259Q537 260 536 264M561 276Q558 279 557 283M637 274Q633 274 631 278M537 211Q538 214 540 217M534 284Q538 282 542 285M683 201Q682 203 681 204M582 223Q582 221 582 220"/>
<path id="pf0" d="M539 214l2 -1M656 280l-0 0M636 289l-1 -2M574 203l1 1M534 188l-1 0M606 200l0 0M566 287l2 1M659 272l-0 -0M637 298l-0 0M688 255l-0 -0M602 240l2 -1M574 293l0 -0M577 261l-1 -0M557 203l0 0M545 284l-2 0M601 188l-1 -2M651 296l1 -1M589 193l-0 -1M686 307l-0 0M558 295l-2 2M575 219l-0 0M574 193l-1 1M637 211l-0 1M535 207l2 0M569 261l-1 -2M600 300l-1 -0M583 253l-2 1M602 200l0 0M636 195l0 -1M643 264l-1 -2M619 289l-1 -0M639 255l-0 1M578 220l1 -1M578 252l-0 -1M631 287l-2 0M671 205l2 0M652 271l0 1M535 247l1 -1M607 294l-0 -1M627 220l2 0M674 215l-1 1M659 302l-0 -2M527 246l2 0M595 241l-1 0M651 236l2 -0M591 196l1 -0M663 217l1 -0M616 279l-1 2M686 270l-1 0M617 289l0 -2M662 207l1 -1M608 255l0 0M684 288l2 -2M569 206l2 -0M568 292l1 1M638 260l-1 2M553 200l-0 -0M603 250l2 -1M590 253l2 2M598 278l0 -1M634 193l-2 -1M618 268l-1 0M600 243l-2 -0M554 277l2 -1M662 197l-1 -2M550 240l-1 1M612 276l-0 -0M589 203l0 2M571 253l-0 2M645 271l-1 2M594 205l1 1M630 233l-2 -1M569 197l0 0M582 206l1 -2M643 285l2 0M590 215l-0 -0M655 192l-0 0M655 283l1 2M570 261l0 -0M664 224l1 1M679 237l0 -1M644 193l-0 -0M651 277l-1 -1M682 299l-2 0M629 223l0 1M628 231l-1 -0M573 275l-0 1M604 267l0 -1M638 202l1 1M548 266l-1 2M570 196l0 1M549 240l0 1M671 215l-0 0M670 212l-2 -1M567 200l-0 0M651 194l0 0M687 251l-0 1M649 196l1 1M635 190l1 -1M666 253l-2 0M548 205l-0 0M547 279l1 0M639 263l0 1M674 289l-0 -0M549 208l-1 1M582 276l0 -2M582 241l0 0M628 248l-2 0M528 195l-0 1M647 293l-2 -1M563 248l2 -0M548 234l0 1M654 283l0 -0M687 216l1 -1M532 234l-0 -0M546 199l-1 1M545 295l-0 1M624 222l0 -1M598 257l1 2M634 216l2 1M599 298l1 -0M673 234l-1 -2M619 248l-1 -0M546 218l1 0M635 245l2 -0M575 263l0 0M586 255l1 1M671 218l1 -2M669 300l-0 -0M537 223l0 0M664 235l-2 -1M532 211l-0 0M590 278l1 0M657 199l2 -2M601 256l-0 -2M604 197l1 -1M556 191l0 0M641 281l-1 -2M566 297l0 1M629 273l-1 -0M680 202l2 0M671 210l-1 0M533 216l-1 1M556 287l0 -2M681 267l-1 2M569 212l1 1M656 231l1 -1M590 186l-0 -0"/>
<path id="pf1" d="M535 227l0 0M537 227l1 -0M646 211l0 -0M595 285l0 2M572 282l1 1M642 270l1 1M544 279l-1 -0M637 187l1 -1M555 298l-1 0M686 193l1 1M683 227l2 -1M574 205l1 -0M635 198l-2 -1M651 208l-1 2M603 270l0 1M678 257l0 1M569 254l-1 -0M587 274l-0 -0M596 190l0 0M557 305l-1 -0M654 305l1 -2M563 292l-0 -0M582 241l2 2M566 267l-1 -1M584 213l1 2M618 304l0 1M527 245l2 -1M642 274l-0 1M573 251l-2 2M620 303l-0 -1M624 255l-1 2M537 294l-0 0M642 196l-2 -1M642 186l-2 2M621 284l-2 -2M587 247l0 2M530 303l1 -0M545 187l2 1M651 281l2 -1M549 221l0 -0M658 243l0 0M626 192l-1 -0M593 218l1 -2M630 212l-1 -2M682 203l-0 0M570 251l-1 -0M581 303l0 1M680 307l-0 -1M570 195l-1 1M659 275l2 -1M610 276l-1 -0M633 266l-2 -0M607 283l-0 0M628 279l0 -1M614 214l2 1M658 260l-1 1M619 240l1 -0M631 266l-0 0M551 208l-1 -1M556 249l-2 0M617 281l-2 2M634 212l0 0M632 200l-1 -1M662 287l0 1M568 251l1 -0M647 251l2 -1M547 265l0 -1M687 283l2 1M645 194l0 2M559 304l0 0M639 207l1 -1M543 204l0 1M604 192l-0 0M679 270l-0 0M633 251l-1 1M567 224l-2 -0M544 290l1 -2M561 302l1 2M595 257l1 1M541 284l1 -1M622 232l0 0M634 209l0 -0M628 216l-0 -1M589 284l0 1M617 294l-2 -0M549 221l-0 -0M640 229l-0 -0M589 299l0 -0M571 209l2 0M614 205l2 -0M587 291l2 1M633 300l2 -1M644 227l1 -1M631 280l2 -1M635 234l-1 1M579 292l0 0M536 212l2 1M527 296l-1 -2M536 267l-1 1M628 265l1 -1M539 252l0 -0M550 220l1 -1M615 246l0 -1M575 191l0 0M623 271l-0 0M588 211l-1 -2M666 300l0 -0M610 283l1 0M657 302l-1 1M621 299l-1 -1M636 199l2 1M624 193l-0 1M534 257l-0 -0M608 263l-0 0M630 292l-1 -1M636 280l0 2M684 233l-0 0M546 218l1 1M574 208l1 1M572 303l-0 -1M557 257l0 -2M570 271l-1 -1M684 186l-2 0M560 189l0 -0M633 276l-0 -2M648 251l1 -1M547 245l-1 0M549 255l0 -2M610 258l0 1M608 281l0 1M685 265l2 1M553 276l-1 -0M613 222l-0 0M581 276l-2 -0M684 247l1 1M620 207l1 1M540 241l-2 0M652 283l-1 1M647 281l2 -0M674 262l0 0M569 206l-0 -2M551 278l-1 1M676 230l0 -0M648 189l0 1M537 259l-0 1M554 201l-0 0M635 189l0 1M531 234l-1 -0M668 196l-1 2M664 281l-1 -0M557 296l0 0M650 236l-2 -1"/>
<clipPath id="cpg"><rect x="0" y="316" width="154.80" height="116.00"/></clipPath>
<filter id="txg" x="0" y="0" width="100%" height="100%" filterUnits="objectBoundingBox" color-interpolation-filters="sRGB"><feTurbulence type="fractalNoise" baseFrequency="0.15" numOctaves="2" seed="31"/><feColorMatrix type="matrix" values="2.0 0 0 0 -0.5  2.0 0 0 0 -0.5  2.0 0 0 0 -0.5  0 0 0 0 1"/><feGaussianBlur stdDeviation="0.6"/></filter>
<path id="wg0" d="M157 366Q155 366 155 368M91 372Q90 372 90 371M18 381Q17 381 17 380M111 311Q111 313 111 314M36 420Q35 421 35 420M121 433Q122 434 122 436M34 362Q33 360 35 359M-0 314Q-2 314 -3 316M150 376Q151 377 151 378M112 396Q112 395 113 394M148 356Q148 358 149 360M57 396Q57 395 56 394M52 404Q53 405 52 406M52 339Q54 340 54 341M2 339Q1 338 2 337M37 312Q37 312 37 313M132 333Q131 332 129 333M11 354Q11 356 13 357M61 395Q60 394 58 393M79 343Q77 343 78 345M21 415Q21 414 19 413M69 323Q67 323 67 321M33 345Q34 345 35 344M142 375Q141 374 139 373M59 342Q59 341 59 340M13 431Q12 430 10 430M65 319Q66 320 68 319M30 383Q30 383 29 383M60 399Q59 399 57 399M67 369Q66 368 64 368M65 332Q66 331 67 331M60 351Q58 350 56 352M14 342Q13 342 12 342M27 322Q29 321 30 319M120 404Q119 404 119 404M5 336Q5 337 4 337M82 412Q83 411 83 410M84 368Q83 367 82 366M119 361Q119 360 120 361M84 350Q85 351 85 352M152 320Q152 319 151 317M29 345Q29 346 28 346M41 325Q40 323 42 322M75 319Q74 318 72 318M78 337Q77 338 77 339M146 311Q148 312 149 314M35 337Q35 339 32 340M151 421Q153 421 153 419M99 359Q100 359 100 359M42 365Q40 366 41 367M118 337Q116 336 116 335"/>
<path id="wg1" d="M2 385Q2 385 1 385M92 357Q91 358 93 360M60 338Q59 338 59 337M39 370Q39 371 40 371M83 359Q82 359 82 359M90 392Q89 392 88 391M24 368Q24 369 25 369M125 349Q127 350 128 349M130 399Q130 400 131 401M139 348Q139 350 137 351M112 435Q113 436 113 436M81 341Q81 340 80 339M65 316Q65 317 64 318M115 378Q117 378 118 377M79 330Q79 331 78 332M118 323Q118 321 117 319M15 328Q16 329 15 331M6 422Q8 420 6 418M142 350Q141 349 142 348M13 387Q13 386 12 385M109 345Q110 346 110 345M126 327Q126 327 126 328M63 322Q64 322 65 323M7 311Q8 313 6 314M107 357Q108 356 110 357M135 331Q135 332 134 332M125 346Q125 347 124 347M122 394Q121 395 120 395M26 320Q25 318 27 316M141 354Q142 354 141 355M7 336Q5 336 4 337M46 351Q45 350 46 348M39 371Q39 372 39 374M87 434Q86 432 84 432M11 424Q12 424 12 424M149 354Q148 353 146 353M39 340Q40 341 40 342M12 391Q11 391 10 390M44 437Q45 437 45 436M128 424Q127 425 127 426M5 410Q5 409 4 408M23 411Q25 410 26 410M107 334Q106 335 104 334M113 319Q115 319 116 317M131 357Q129 357 129 355M59 322Q60 324 61 323M159 391Q158 390 157 391M30 391Q31 392 32 392M96 325Q97 325 97 326M99 379Q98 379 98 381M104 387Q102 386 101 384M3 420Q3 419 2 418M132 400Q134 400 134 397M49 315Q48 316 48 317M133 421Q134 422 134 424M143 336Q144 334 146 334"/>
<path id="wg2" d="M80 387Q81 387 82 387M3 354Q5 354 6 355M-1 311Q-2 312 -2 312M114 433Q114 434 114 434M74 359Q74 360 73 361M61 363Q62 364 63 363M67 366Q66 367 65 367M79 312Q80 311 81 310M120 415Q122 417 121 418M143 361Q143 362 143 363M75 337Q73 336 73 335M26 406Q26 406 26 405M156 328Q156 329 156 330M139 405Q140 406 140 408M99 378Q100 378 101 378M1 386Q2 385 2 384M99 424Q99 426 98 428M142 351Q143 350 145 349M99 432Q101 433 102 434M128 403Q126 403 126 400M118 410Q118 412 116 412M52 397Q53 396 54 396M-2 432Q-1 432 -1 432M150 357Q150 356 149 355M38 364Q40 363 39 361M92 434Q93 434 94 435M133 314Q132 315 131 317M80 367Q80 366 82 365M68 328Q68 329 68 330M28 319Q29 319 30 320M86 312Q86 312 87 312M136 425Q134 426 134 428M78 347Q79 348 81 348M28 313Q28 314 28 315M7 405Q6 406 4 405M64 392Q64 393 64 394M-5 425Q-5 424 -3 423M49 365Q49 364 48 364M132 376Q133 376 134 376M5 401Q5 399 7 397M-2 392Q-3 391 -4 391M34 351Q35 349 37 349M79 392Q80 391 80 391M145 331Q147 329 148 328M92 407Q93 408 92 410M140 379Q140 380 141 381M18 355Q18 356 18 357M109 424Q108 425 107 425M55 359Q56 360 57 360M86 327Q87 326 86 324M34 410Q33 409 32 410M-4 337Q-5 338 -6 339M88 425Q88 424 89 424"/>
<path id="pg0" d="M57 431l-1 -1M116 413l0 0M112 358l1 1M144 384l0 -1M28 398l-1 -0M71 431l-1 -1M131 317l-2 -2M99 346l2 -1M120 423l0 -0M155 394l0 -1M-2 318l2 -1M146 336l-1 -1M0 428l-1 -0M138 315l-1 -1M77 433l-1 1M52 373l0 -0M95 391l-1 2M22 419l-0 2M8 329l0 -2M127 324l0 -1M34 383l0 -0M121 327l0 -1M101 369l-0 0M36 348l-0 0M155 393l-0 -0M77 353l0 0M28 428l2 1M143 402l2 -0M136 406l2 0M72 431l0 1M27 374l-0 -0M114 403l-1 -1M14 367l-1 -2M5 361l-0 2M126 410l-0 -0M31 394l-1 1M119 330l-0 1M114 421l-1 -1M44 401l-1 -1M66 420l-0 -2M140 415l2 1M20 355l0 -0M157 334l-1 1M95 345l1 -1M121 416l0 -2M114 324l0 -0M63 314l-0 -2M128 326l2 1M36 430l-0 0M157 355l1 -1M80 315l1 -0M81 406l1 -1M37 322l-2 -2M75 385l-1 -1M144 320l0 -1M46 391l1 -0M141 380l1 0M144 411l-2 2M99 317l-0 -0M74 337l0 -0M114 406l-1 0M149 393l0 -2M85 434l2 -1M44 320l-2 1M37 420l1 -2M22 398l-2 -1M70 335l2 0M58 334l0 -0M50 431l1 -1M145 434l-2 -1M117 362l-0 1M34 322l-0 -0M37 336l0 -0M21 314l2 -1M21 382l-1 -1M91 343l-1 2M79 418l-0 -1M75 378l-1 -1M141 369l1 -2M134 345l1 2"/>
<path id="pg1" d="M97 424l1 -2M88 419l-0 1M108 368l2 0M98 379l-2 -0M156 340l-2 1M149 362l0 -0M21 349l1 0M77 316l-1 1M107 399l0 -0M139 388l1 1M107 390l-0 0M84 433l-0 1M155 323l-0 -1M76 424l-2 0M73 343l0 0M104 333l-0 -0M45 368l1 1M89 426l1 0M131 403l0 -0M74 390l0 0M22 378l0 -0M139 323l-2 0M118 340l2 -0M157 367l-2 1M57 370l1 0M140 315l1 -0M18 346l1 2M150 379l0 1M120 424l-0 -1M13 342l0 0M86 402l-0 -2M94 334l2 0M23 317l-1 -1M72 339l2 1M141 411l1 -2M29 337l0 0M28 389l-0 0M153 384l1 0M134 354l1 -2M47 426l0 0M127 426l-0 -0M51 397l0 1M68 372l-0 -0M103 418l-1 1M123 327l1 0M34 416l-1 1M39 389l1 1M130 315l-2 0M89 358l1 -1M117 333l-1 2M53 432l-0 2M75 388l2 1M13 333l0 -1M31 409l1 -0M20 430l-0 2M82 386l-0 1M151 350l-0 -1M-1 415l0 1M12 338l1 -1M55 369l-2 -1M26 340l-1 0M19 368l-0 -2M101 350l-2 -1M129 320l-2 -1M81 364l0 0M112 406l0 -1M146 376l2 1M89 376l-0 -1M101 418l-2 -1M66 334l0 -0"/>
<clipPath id="cph"><rect x="176.1" y="316.4" width="154.70" height="115.60"/></clipPath>
<filter id="txh" x="0" y="0" width="100%" height="100%" filterUnits="objectBoundingBox" color-interpolation-filters="sRGB"><feTurbulence type="fractalNoise" baseFrequency="0.15" numOctaves="2" seed="38"/><feColorMatrix type="matrix" values="2.0 0 0 0 -0.5  2.0 0 0 0 -0.5  2.0 0 0 0 -0.5  0 0 0 0 1"/><feGaussianBlur stdDeviation="0.6"/></filter>
<path id="wh0" d="M321 348Q321 354 327 355M306 396Q306 392 303 390M245 408Q249 406 248 402M230 323Q231 327 235 328M179 379Q180 382 179 385M207 335Q210 334 211 331M310 391Q310 387 314 387M247 346Q245 348 242 348M223 315Q219 316 215 316M233 351Q237 356 237 361M245 433Q239 433 235 438M216 372Q219 375 219 379M284 360Q283 353 277 351M209 318Q208 313 206 309M194 348Q188 346 188 340M248 395Q250 398 254 397M260 341Q262 334 255 331M256 420Q252 417 252 411M219 346Q217 342 217 339M250 395Q254 399 255 404M321 372Q325 370 329 372M278 334Q277 340 282 344M251 337Q248 342 245 347M301 420Q297 420 293 418M269 394Q266 391 262 391M313 382Q318 381 321 386M272 352Q268 357 263 359M272 416Q274 421 277 424M250 369Q251 365 249 362M303 415Q307 417 310 419M281 360Q277 362 273 363M247 336Q251 338 253 341M334 360Q335 365 330 366M236 378Q233 378 230 377M304 333Q307 329 312 327M334 414Q331 418 333 423M318 419Q317 416 314 415M221 350Q221 355 226 356M254 436Q248 435 248 427M302 421Q307 419 307 415M277 352Q280 350 283 351M213 338Q207 336 205 331M311 383Q313 380 317 382M312 406Q309 411 305 415M311 338Q309 341 309 344M194 319Q199 319 201 323M233 389Q231 392 228 393M246 365Q245 362 247 359M311 328Q313 331 311 334M315 408Q319 405 317 400M213 334Q216 331 218 327M304 431Q302 425 306 421M233 322Q231 325 234 328M184 394Q178 392 176 386M298 433Q297 430 299 427M262 320Q261 323 259 326M229 422Q224 424 221 426M312 336Q310 332 306 333M308 428Q303 432 306 437M333 348Q329 344 323 346M231 395Q231 389 225 388M280 399Q274 397 275 391M332 354Q332 348 328 345M263 383Q268 380 273 378M280 398Q285 398 288 393M212 397Q216 401 222 401M208 372Q201 370 203 364M244 407Q245 402 245 396M275 426Q274 430 272 434M222 370Q217 373 216 378M310 429Q316 426 322 428M289 379Q296 377 299 384M203 329Q208 329 211 326M319 350Q312 353 312 359M289 408Q285 403 280 401M200 410Q196 415 201 420M197 400Q201 400 205 399M193 354Q192 358 188 360M280 397Q287 402 292 396M293 400Q296 403 298 407M193 319Q187 320 187 325M315 398Q311 395 307 398M262 313Q262 317 258 320M247 404Q251 405 255 403M240 372Q237 373 236 377M201 400Q198 396 201 393M298 364Q298 358 304 357M314 365Q311 360 310 355M295 407Q292 409 287 407M317 311Q314 308 316 304M257 375Q252 375 248 376M264 342Q267 338 272 340M213 386Q208 380 212 374M215 399Q221 396 226 401M195 391Q191 387 186 387M224 338Q228 339 229 343M295 353Q297 358 298 364M262 315Q261 318 257 320M273 338Q270 334 266 336M330 392Q327 394 328 398M200 346Q205 350 203 355M311 422Q316 423 318 428M279 366Q283 364 287 362M188 388Q186 392 191 395M205 365Q207 362 205 358M191 405Q197 404 198 410M181 315Q183 312 186 310M247 367Q241 370 236 367M229 406Q227 401 231 398M184 325Q178 326 173 324M226 393Q230 391 232 387M237 393Q232 393 228 389M213 339Q216 339 219 338M243 352Q242 358 236 359M224 426Q219 424 217 428M230 373Q228 376 226 378M286 322Q291 325 297 323"/>
<path id="wh1" d="M237 321Q234 324 236 328M312 323Q314 328 310 332M280 403Q279 408 285 410M180 383Q181 389 186 389M249 415Q245 410 240 408M256 359Q250 361 250 367M281 431Q285 430 287 426M312 428Q308 425 305 420M318 389Q322 391 327 390M214 340Q215 345 212 348M251 397Q255 397 257 394M201 407Q197 414 190 411M298 399Q295 394 290 395M257 368Q260 373 258 379M285 361Q282 364 279 368M226 363Q226 368 224 372M207 425Q205 431 198 430M240 412Q244 416 241 420M185 365Q179 366 174 362M270 314Q268 309 263 307M328 312Q328 308 328 304M187 395Q182 398 176 396M193 333Q198 331 202 333M180 339Q186 337 189 344M260 340Q261 335 264 331M233 415Q235 413 235 409M319 322Q313 320 310 324M297 318Q295 321 296 325M236 421Q239 424 241 429M250 392Q248 396 249 400M192 318Q188 317 186 314M322 364Q317 368 312 365M195 370Q189 369 183 371M172 372Q175 376 180 380M183 406Q187 405 191 403M326 417Q323 418 320 417M314 413Q318 417 315 421M326 345Q322 347 321 351M228 383Q224 385 225 389M179 333Q173 337 175 344M327 384Q329 378 327 373M328 391Q328 394 327 397M257 435Q258 441 264 440M263 359Q257 360 255 355M233 401Q235 406 231 410M290 354Q296 356 296 362M312 414Q309 411 310 408M277 365Q283 367 288 369M333 375Q327 379 323 374M314 333Q313 337 309 338M290 422Q293 419 297 420M255 364Q252 366 251 370M290 377Q294 377 298 377M210 353Q210 360 217 361M334 426Q334 422 331 420M280 429Q285 426 288 431M313 357Q308 354 307 349M207 350Q210 355 206 360M197 410Q202 407 206 411M264 387Q264 383 266 378M200 334Q199 328 195 325M285 431Q280 427 282 421M185 406Q186 402 187 397M223 411Q224 405 229 403M177 391Q183 390 185 385M261 416Q262 419 265 421M181 423Q177 423 175 420M335 402Q341 401 344 397M331 397Q335 400 339 402M302 384Q298 383 294 386M222 391Q219 391 216 394M322 393Q316 392 313 387M271 404Q273 400 274 397M187 396Q181 398 177 393M257 427Q253 429 250 432M214 403Q215 407 219 408M186 419Q189 425 196 424M177 428Q175 423 178 419M304 421Q305 413 313 413M291 366Q286 362 281 364M217 399Q213 400 210 398M264 423Q265 418 267 413M307 413Q304 410 307 406M207 422Q207 429 201 431M325 335Q325 340 320 342M252 372Q254 375 257 377M191 343Q187 346 182 347M282 355Q285 352 285 348M333 352Q340 355 345 349M333 414Q336 409 336 403M178 359Q174 358 173 355M174 347Q171 343 174 338M194 397Q197 403 204 404"/>
<path id="wh2" d="M193 428Q196 425 195 421M236 317Q232 311 236 306M317 429Q318 433 321 435M261 421Q265 422 267 425M181 430Q182 435 187 436M218 321Q214 323 210 320M330 397Q327 402 324 407M227 403Q228 400 228 397M194 386Q189 386 184 383M307 331Q307 335 307 339M254 380Q254 376 257 374M298 322Q292 322 289 316M185 336Q188 338 191 339M211 418Q207 420 208 424M209 417Q208 414 210 411M216 341Q212 338 209 341M321 411Q320 415 322 419M251 431Q255 436 261 437M332 426Q335 431 332 437M293 356Q300 355 302 348M236 384Q242 383 246 387M201 338Q199 335 198 331M323 408Q319 408 316 410M213 429Q216 432 216 437M305 418Q309 419 310 422M303 398Q305 395 309 392M220 335Q217 341 211 343M272 320Q272 316 274 312M259 437Q261 433 265 435M174 391Q179 395 175 400M224 432Q225 436 230 436M275 353Q277 356 279 360M276 338Q282 336 288 336M293 338Q295 335 298 334M322 426Q319 423 316 425M214 319Q209 317 204 319M328 387Q327 395 334 397M325 343Q322 342 318 340M273 411Q276 408 279 408M326 409Q331 410 334 406M287 427Q287 431 290 435M302 328Q306 327 309 329M314 377Q313 372 315 369M212 323Q214 326 216 330M273 317Q269 319 265 319M252 377Q249 382 247 387M201 400Q201 395 206 393M269 391Q270 395 266 396M328 431Q333 429 337 428M330 416Q335 417 337 412M206 385Q201 390 206 396M217 350Q221 354 227 354M325 354Q321 359 325 363M198 365Q197 369 200 372M321 359Q319 362 319 366M224 418Q230 421 230 428M209 366Q204 369 204 375M215 415Q218 413 222 414M175 420Q172 418 168 418M292 382Q294 378 295 374M281 324Q277 328 273 332M258 332Q263 333 266 329M205 407Q202 403 204 399M295 397Q289 398 287 393M236 389Q242 390 246 386M226 328Q232 330 235 335M272 318Q276 320 278 317M331 421Q334 415 330 411M196 313Q194 311 192 309M224 426Q227 421 226 415M198 315Q196 320 199 324M243 322Q238 322 233 323M303 349Q302 351 301 355M260 351Q253 351 250 345M331 380Q328 377 327 373M286 379Q283 380 279 380M303 378Q300 373 298 369M172 336Q170 341 169 346M206 416Q205 421 200 422M313 314Q315 309 311 305M296 325Q300 321 297 316M201 319Q205 315 209 313M248 426Q250 422 255 422M185 379Q188 383 193 383M180 342Q183 343 186 345M263 398Q267 402 269 407M288 311Q292 312 296 313M208 437Q209 431 204 429M234 389Q237 383 244 383M253 429Q252 433 255 436M309 410Q308 407 308 403M194 340Q196 335 195 330M329 418Q326 422 325 427M279 417Q280 423 278 427M191 398Q186 400 185 405M256 319Q258 313 263 309M303 377Q298 380 293 376M221 319Q227 318 231 322M326 373Q326 377 326 382M233 365Q232 370 228 374M177 416Q173 416 169 416M309 363Q311 358 313 352M303 333Q301 335 297 334M179 402Q182 399 185 397M291 347Q295 346 298 343M214 360Q212 364 209 368M217 315Q217 319 214 320M184 379Q184 384 182 388M223 334Q220 329 215 331M325 420Q327 424 330 427M247 386Q246 381 243 377M269 353Q265 348 270 343M328 348Q325 344 320 344M172 352Q173 348 177 347M276 378Q278 373 273 371M279 416Q282 421 280 426M318 407Q314 401 319 395M185 404Q182 401 178 400M191 369Q186 367 180 365M276 330Q275 333 271 334M261 374Q257 375 257 379M192 428Q190 432 186 435M323 315Q325 312 323 308M290 339Q288 335 291 333M331 370Q328 370 326 373M191 346Q188 341 185 337M194 328Q198 322 195 316M187 383Q184 381 181 379M281 421Q281 417 284 415M187 316Q189 310 195 312"/>
<path id="ph0" d="M306 342l1 -2M238 385l-0 1M185 372l-0 -0M302 418l-2 -1M261 433l1 1M183 360l1 -0M269 381l-0 1M248 350l-1 -1M191 434l-1 2M219 423l0 0M276 415l-0 -0M225 407l0 -0M218 374l-1 -1M208 398l-1 1M174 433l0 -0M226 377l-1 -1M257 323l1 1M243 391l0 -1M303 423l-2 2M316 395l-0 -0M253 348l-2 -0M288 367l1 1M182 362l-0 -0M198 422l1 1M273 370l1 2M289 354l-2 0M241 394l-0 -0M282 421l2 1M327 369l1 1M230 349l1 -1M233 428l-0 -2M302 370l0 -0M201 358l1 0M275 342l-1 2M232 322l-0 -1M301 364l1 -0M187 400l-0 -1M233 347l-0 0M257 355l1 -1M262 400l-1 -0M276 373l1 1M308 369l1 1M193 397l-1 0M264 358l-1 -0M240 432l-2 0M273 393l1 -2M212 434l0 0M285 424l-0 0M238 423l0 -1M239 331l0 1M268 324l-1 2M244 333l1 -1M259 343l2 0M209 419l0 -0M317 358l-0 2M291 394l-1 1M195 412l-0 -0M256 348l0 -0M243 323l-1 -0M220 400l-0 -0M307 326l1 2M233 358l-1 2M230 375l-1 -0M289 320l-0 1M293 434l-0 0M241 320l-0 0M287 360l0 1M234 354l-1 -2M260 349l-0 -0M295 331l-1 0M175 340l2 -0M188 435l0 0M248 343l-2 -0M176 435l-2 -0M175 337l-1 -0M197 423l-0 -0M315 366l-1 -0M211 421l2 0M178 434l0 0M278 401l-2 -1M236 348l-1 2M178 415l2 -1M263 414l0 0M264 341l2 -1M287 332l0 0M201 398l-1 -2M326 336l1 -1M266 407l-1 1M248 423l0 -0M203 406l-2 -0M185 383l0 -1M179 424l-1 -0M298 429l-2 1M289 386l-1 1M295 388l-0 -2M245 393l-2 1M308 403l-0 0M270 397l-1 -2M178 422l2 -1M178 332l1 1M319 392l0 2M322 318l-1 -1M201 405l1 -2M326 384l0 1M215 375l-1 -2M329 329l1 1M279 357l2 -1M298 435l-2 -1M208 360l-0 -0M280 353l-1 1M303 407l-0 0M202 360l-1 1M240 337l-1 0M236 372l1 0M279 315l-0 0M250 395l1 1M266 367l0 0M291 433l2 -2M276 434l0 -1M267 375l0 0M305 430l-1 0M305 426l0 0M263 429l-0 0M177 387l0 -0M222 413l1 -1M236 410l2 1M282 329l1 -1M280 408l-2 -0M284 335l1 -1M271 390l1 1M239 324l1 2M319 322l1 1M311 350l0 2M176 331l1 0M261 327l-2 -1M232 346l2 1M212 356l1 1M328 425l-0 -0M242 318l1 -1M218 357l-0 -1M220 407l1 -1M325 362l0 -0M331 321l-1 -2M174 403l1 -1M209 329l-0 -0M178 413l-2 -0M287 405l-1 0"/>
<path id="ph1" d="M203 434l1 2M263 403l0 -0M180 362l1 -1M286 356l-1 0M246 357l-2 -0M191 336l2 1M223 407l-2 -2M316 333l0 -2M322 412l-1 -0M255 321l-1 1M312 396l-1 -2M258 330l0 -2M253 334l2 -0M325 334l0 -1M245 370l0 1M330 364l-0 -1M226 379l-2 -0M207 341l-1 2M249 329l2 -1M232 432l-0 0M266 372l-1 0M297 320l2 -1M189 365l-0 -1M244 420l-0 1M258 340l-1 -1M179 418l2 -0M189 403l0 0M246 366l0 0M332 329l-2 1M331 424l1 -1M239 415l-1 -0M221 377l-1 1M245 404l1 1M200 399l1 -0M197 322l2 1M253 329l2 1M229 396l-0 -1M312 385l-2 -0M190 370l-0 -1M326 358l-1 2M328 348l0 -0M254 379l0 -0M274 380l0 1M247 408l1 -0M188 323l-0 -0M298 405l-2 -1M323 404l1 -0M328 391l-1 1M297 411l-1 1M208 432l0 -0M228 416l-0 -1M232 434l1 1M304 345l1 1M199 330l2 -0M214 434l-0 0M305 428l-0 1M323 334l-1 -0M267 377l0 -0M292 368l1 -1M292 384l-0 0M226 346l-1 -0M202 331l-0 0M302 322l-0 -1M248 365l0 -2M300 385l-0 -2M258 352l-0 -0M248 378l-0 -0M209 364l0 2M282 358l-0 -1M189 381l-1 -1M255 390l-1 -1M249 424l-1 2M269 420l-2 -0M300 407l1 1M183 356l-1 2M297 434l1 -1M187 341l-1 -1M211 425l1 2M230 378l2 -1M195 349l-2 1M201 420l0 0M302 415l2 -0M203 328l-1 1M189 333l-0 2M307 425l1 -0M246 369l0 0M205 401l0 0M211 335l0 -1M271 411l-0 -0M289 340l0 -1M310 424l-0 1M314 411l-0 0M277 319l-1 0M190 336l0 -0M331 319l0 -0M264 380l-0 -2M213 390l1 -1M320 432l0 -2M295 378l2 -1M251 361l1 2M237 407l0 0M230 419l1 -0M241 425l-1 2M312 382l-1 0M287 350l2 -0M184 424l-1 1M198 393l1 2M228 349l2 1M247 408l-0 1M208 386l1 -2M175 374l-1 -2M241 333l-1 -2M264 420l1 -1M189 410l1 1M282 331l-1 -1M197 315l1 -1M251 413l0 -2M305 318l-0 1M224 363l0 2M258 391l1 -1M283 328l0 0M284 364l1 -2M262 358l-1 0M214 368l0 1M188 384l-1 1M194 425l0 1M177 341l-1 1M202 431l-2 -1M297 433l-1 2M212 342l-0 1M212 393l-0 -1M254 332l1 -1M310 397l-1 2M239 400l1 -1M233 413l1 1M313 377l-1 -0M200 321l-0 -0M230 389l-1 1M265 400l0 1M293 317l0 -2M187 333l0 -2M219 393l2 0M233 399l-1 -1M292 430l0 1M235 349l-0 0M182 400l-0 -1M191 377l0 -0M204 340l1 -1M176 367l-0 2M251 426l0 -0M293 330l-1 1M175 335l-0 -0M322 345l-0 -0"/>
<clipPath id="cpi"><rect x="353" y="315.6" width="154.00" height="116.40"/></clipPath>
<filter id="txi" x="0" y="0" width="100%" height="100%" filterUnits="objectBoundingBox" color-interpolation-filters="sRGB"><feTurbulence type="fractalNoise" baseFrequency="0.15" numOctaves="2" seed="45"/><feColorMatrix type="matrix" values="2.0 0 0 0 -0.5  2.0 0 0 0 -0.5  2.0 0 0 0 -0.5  0 0 0 0 1"/><feGaussianBlur stdDeviation="0.6"/></filter>
<path id="wi0" d="M397 413Q397 408 392 408M497 329Q500 326 503 328M366 400Q363 401 360 401M410 347Q408 353 403 354M505 423Q503 423 501 425M444 340Q448 337 449 333M474 380Q477 375 482 373M431 342Q428 345 424 345M508 422Q510 425 509 428M379 436Q381 433 383 431M510 431Q511 435 507 436M425 408Q420 407 417 403M450 342Q449 346 452 349M383 323Q377 321 373 326M479 394Q485 395 488 391M424 332Q429 332 432 337M413 422Q418 422 420 417M473 320Q471 324 467 325M483 347Q482 351 487 353M466 363Q465 360 467 357M413 331Q418 329 423 328M366 337Q365 332 362 327M451 318Q456 318 457 313M494 401Q489 401 485 400M511 391Q515 392 514 396M507 436Q505 441 503 445M439 330Q440 328 442 325M476 373Q480 373 484 371M466 328Q461 331 461 336M455 347Q454 344 452 342M384 376Q381 377 379 380M509 386Q507 389 509 393M428 427Q431 431 433 434M445 329Q447 332 451 332M369 403Q367 401 365 399M453 385Q456 388 460 387M453 399Q455 404 452 407M404 346Q400 350 395 349M406 356Q402 357 400 354M435 370Q431 373 426 373M459 427Q455 427 452 423M368 382Q371 384 375 382M400 428Q398 425 399 421M373 340Q374 336 372 334M389 317Q386 311 379 311M474 337Q476 340 476 345M403 361Q400 356 394 359M355 320Q350 317 352 311M477 370Q480 365 486 366M394 388Q395 383 391 382M358 395Q364 393 366 388M465 416Q469 415 470 411M481 418Q486 420 490 422M512 361Q515 361 517 358M378 339Q378 333 373 330M418 385Q415 386 413 384M352 431Q353 428 357 428M508 426Q503 428 501 423M402 392Q405 391 409 389M453 362Q450 363 447 365M411 335Q416 332 420 334M365 434Q369 432 373 432M380 429Q378 427 375 426M366 323Q363 324 364 328M404 345Q402 342 398 344M396 347Q393 351 391 356M371 394Q374 392 377 391M439 350Q444 350 449 353M364 391Q365 394 368 394M352 394Q347 393 344 398M418 391Q417 384 423 381M435 330Q438 328 441 330M414 379Q420 378 423 384M415 371Q410 366 414 360M356 332Q353 334 350 337M465 379Q464 384 463 389M454 408Q456 406 458 404M481 348Q484 353 480 357M471 413Q468 411 465 410M471 342Q466 343 461 343M482 371Q484 375 487 379M507 318Q503 318 500 320M351 315Q345 317 344 322M349 415Q351 420 348 425M422 323Q427 322 427 318M408 428Q406 428 403 427M479 340Q476 342 477 345M383 378Q386 381 390 379M501 417Q500 411 503 407M421 422Q421 417 423 412M416 365Q416 368 415 370M421 408Q425 412 426 417M379 379Q382 381 384 385M510 382Q512 387 518 387M389 399Q392 402 396 403M361 362Q363 366 364 370M486 393Q487 400 480 402M368 404Q372 406 376 403M405 399Q405 402 409 403M372 320Q374 317 371 314M509 398Q512 401 516 402M380 346Q384 348 387 350M458 406Q458 410 461 411M512 322Q508 321 504 320M415 376Q420 378 424 380M391 419Q395 421 398 424M505 329Q504 326 504 323M384 391Q380 390 379 387M476 384Q476 379 482 379M452 374Q448 371 450 366M367 363Q371 361 375 360M389 335Q392 337 395 339M389 372Q392 375 390 378M413 421Q413 426 411 431M360 329Q355 329 351 328M510 355Q509 359 506 362M471 398Q474 402 475 408M404 409Q405 404 403 400"/>
<path id="wi1" d="M383 333Q385 332 388 332M483 433Q485 435 488 434M405 383Q408 381 411 381M415 375Q411 376 409 373M374 388Q379 388 382 392M419 390Q425 390 427 396M434 430Q432 428 430 426M457 357Q453 357 449 357M502 356Q503 362 500 366M435 404Q437 406 437 409M399 317Q399 320 402 321M358 391Q355 395 351 398M503 399Q502 396 500 394M475 374Q470 374 467 379M364 323Q367 327 367 331M485 381Q490 379 493 376M399 334Q400 331 399 327M359 316Q365 320 361 326M425 397Q424 402 424 406M393 379Q396 380 400 381M485 387Q482 390 483 394M447 428Q440 429 439 435M406 426Q409 428 414 427M452 394Q455 390 458 387M495 395Q491 396 487 398M497 416Q501 412 499 407M474 365Q476 370 474 376M381 348Q379 345 376 346M370 331Q375 331 378 335M488 413Q485 415 483 413M475 393Q474 389 473 386M489 315Q485 317 482 314M481 434Q481 430 484 428M482 334Q483 338 483 342M400 360Q396 358 393 357M401 332Q396 336 399 342M351 322Q348 321 345 321M504 372Q508 372 511 374M485 431Q481 435 478 439M511 404Q508 405 508 409M356 380Q360 383 365 386M488 324Q490 321 493 320M466 392Q464 397 459 396M487 435Q490 438 494 437M507 372Q511 369 510 365M512 338Q514 339 516 341M426 326Q431 326 433 330M408 393Q406 388 401 387M410 330Q410 327 412 325M481 378Q483 375 486 377M352 411Q350 407 348 404M361 391Q361 395 364 397M434 331Q429 333 424 329M371 356Q367 354 363 356M350 436Q348 442 342 441M402 321Q398 325 395 322M412 388Q414 383 419 384M371 385Q369 381 367 377M370 372Q367 373 364 372M496 376Q493 374 490 376M389 325Q385 329 385 335M408 428Q407 433 402 433M400 374Q404 375 407 377M367 334Q367 339 371 342M494 417Q498 415 499 411M437 415Q440 414 442 417M396 349Q394 352 390 350M413 376Q406 376 405 382M377 370Q372 369 371 374M471 327Q477 331 475 337M365 401Q362 405 359 408M473 436Q479 435 482 430M477 348Q476 346 478 343M470 353Q467 350 464 349M389 328Q385 325 381 321M470 376Q473 374 475 372M418 391Q413 393 409 391M438 393Q436 398 430 399M474 419Q472 414 475 409M408 333Q404 332 400 333M356 323Q357 318 352 315M477 371Q477 368 474 366M403 357Q407 357 411 354M507 404Q511 402 515 402M391 329Q396 330 398 326M426 334Q429 335 433 334M378 326Q377 319 382 315M435 325Q435 322 437 319M354 375Q353 370 348 369M511 320Q513 325 515 330M409 396Q406 399 404 401M416 320Q417 323 419 325M416 324Q411 324 406 324M458 399Q455 401 451 401M378 317Q376 315 373 315M392 347Q395 344 393 340M368 390Q371 389 374 388M487 353Q492 355 496 353M473 380Q475 378 478 379M438 312Q437 319 431 321M466 436Q463 435 460 433M373 422Q370 423 367 424M497 371Q497 366 495 362M431 320Q427 321 427 325M453 338Q451 340 450 342M462 390Q467 387 471 385M469 320Q473 324 469 328M350 352Q353 352 356 352M451 390Q456 394 455 400M502 435Q504 438 508 438M501 354Q498 360 492 357M410 407Q415 403 414 398M365 386Q369 387 371 385M365 396Q360 394 359 389M389 329Q384 332 379 331M486 373Q489 375 492 374M503 348Q504 354 509 355M456 384Q453 380 451 376M489 319Q491 324 496 323M436 374Q438 376 439 379M381 353Q380 358 379 363M453 397Q454 394 454 391M465 366Q461 368 456 367M503 380Q507 379 510 380M436 393Q440 397 437 401M412 382Q411 386 410 389"/>
<path id="wi2" d="M429 419Q429 422 425 423M479 421Q475 426 469 424M481 394Q479 390 476 386M392 395Q391 400 396 402M443 380Q441 375 436 375M500 390Q497 389 494 390M403 339Q402 336 401 333M408 421Q404 416 399 419M456 330Q457 334 457 337M490 423Q495 420 495 415M425 335Q421 337 417 335M421 384Q418 383 415 381M421 375Q418 371 417 367M440 415Q444 414 445 410M433 422Q432 418 428 417M465 323Q461 319 464 315M465 345Q462 346 459 348M398 327Q397 324 396 321M364 350Q362 346 361 340M458 356Q455 355 451 356M463 379Q468 380 473 379M485 433Q480 432 475 432M466 402Q469 402 471 402M439 415Q438 410 434 407M387 406Q387 411 383 415M466 391Q470 385 476 388M363 420Q366 422 368 419M364 397Q364 402 359 405M501 386Q501 390 500 394M417 371Q412 371 408 375M381 419Q383 424 386 427M430 345Q428 343 429 340M476 362Q474 367 471 370M497 429Q492 429 488 427M423 346Q426 349 430 351M506 352Q509 356 514 355M367 367Q363 366 360 365M407 361Q406 364 405 367M438 345Q435 347 431 348M368 399Q363 399 361 403M362 405Q364 408 366 410M410 316Q407 312 403 310M431 338Q426 335 428 330M511 389Q506 385 510 380M483 313Q489 312 491 318M493 413Q496 416 495 421M441 319Q440 316 441 313M430 427Q429 424 432 422M499 404Q495 400 489 403M453 322Q456 322 457 318M450 328Q448 324 443 324M458 382Q458 378 458 375M362 416Q357 417 352 416M427 403Q432 406 436 402M431 411Q434 410 436 413M511 357Q516 359 521 360M369 392Q365 394 361 392M355 351Q360 349 362 343M400 430Q400 426 405 425M425 369Q421 371 418 366M375 415Q376 418 377 421M480 426Q484 424 486 427M356 391Q361 391 365 394M404 354Q406 360 412 360M370 348Q368 352 370 356M507 344Q502 348 504 353M461 340Q461 342 461 345M366 319Q363 318 360 319M497 423Q495 428 491 431M471 315Q470 320 465 322M349 354Q350 356 352 358M482 376Q484 373 486 371M501 345Q505 345 509 347M354 385Q350 389 344 387M370 422Q372 428 378 430M465 320Q465 316 467 312M491 401Q492 398 490 396M458 371Q458 365 465 365M420 357Q426 356 429 362M467 395Q469 394 471 394M422 324Q426 325 427 328M386 366Q383 369 382 372M418 412Q415 411 415 407M349 330Q348 336 342 336M497 388Q498 383 501 380M391 369Q387 367 387 363M404 390Q408 393 407 397M454 419Q458 419 461 423M402 352Q404 348 400 346M355 383Q359 380 363 383M375 324Q375 320 373 317M406 372Q403 370 403 367M419 417Q416 416 414 413M487 346Q487 342 489 339M396 313Q399 316 404 318M364 360Q364 358 365 355M409 401Q408 399 407 396M431 413Q435 415 439 417M471 368Q473 364 478 362M418 429Q413 426 408 429M364 433Q366 431 368 431M411 383Q407 385 406 389M362 422Q360 420 358 418M455 394Q451 392 447 393M430 413Q427 418 430 423M471 336Q478 336 479 330M385 321Q391 325 395 320M441 394Q442 390 446 389M495 389Q500 389 506 389M395 416Q399 416 403 418M393 318Q391 322 388 325M430 319Q429 316 427 314M436 402Q440 403 443 401M394 434Q398 430 396 425M458 372Q463 372 464 367M499 344Q497 346 494 347"/>
<path id="pi0" d="M395 321l-0 -1M374 319l-1 -0M354 340l1 -0M380 371l2 -1M379 338l2 -1M350 413l1 0M410 315l-0 1M391 394l-2 -0M487 431l1 -1M491 409l-0 -1M469 350l-1 1M509 412l-0 -0M387 382l1 1M442 372l0 1M461 370l0 2M405 412l-0 -2M394 403l0 -0M365 317l-1 1M493 340l0 -0M373 435l-0 -0M470 355l0 -0M359 376l-2 -1M494 408l0 -2M492 335l-2 0M492 340l0 -1M404 337l-2 -1M470 419l1 2M432 403l-1 -2M351 360l1 2M412 328l-0 -2M431 428l0 0M442 404l-1 2M353 356l1 1M355 384l-1 -1M503 321l-1 2M393 397l0 -1M474 433l-0 -0M480 316l-0 1M407 381l-0 2M506 375l-1 1M354 336l-0 -0M497 386l-0 -1M385 392l-0 -0M475 340l-1 1M417 423l0 1M490 332l0 0M440 390l1 1M451 344l-1 -1M367 341l1 -1M396 409l-0 0M361 382l0 1M381 389l-1 1M426 409l1 0M395 334l-1 2M366 385l-1 2M381 372l0 1M445 347l2 1M425 316l0 0M377 369l1 0M384 417l-1 -0M446 430l-0 -1M468 399l1 1M391 351l0 -1M471 411l0 -1M437 418l0 1M435 361l1 1M406 355l-0 0M447 331l-0 0M439 418l0 -1M484 401l1 1M428 389l-0 -0M366 392l-0 -0M424 396l-1 2M482 383l2 -1M441 363l-2 -0M467 346l1 -1M463 362l-1 -2M393 435l0 -1M415 317l1 0M491 380l0 -0M474 330l1 0M371 405l1 1M408 414l1 0M480 368l1 -2M437 351l0 -1M469 411l1 0M439 356l-1 -2M461 383l-1 2M469 416l0 -1M412 383l-1 -2M431 353l-0 1M411 434l-2 1M393 412l-1 2M482 428l-0 0M351 314l0 0M359 434l-0 0M479 394l0 -0M393 381l-1 0M462 334l0 -0M412 336l1 -2M454 423l0 1M486 313l1 1M409 429l1 -0M412 405l-0 -1M428 325l-1 0M366 400l1 -1M478 417l1 -1M415 411l-0 1M455 401l1 1M408 330l1 1M386 331l-0 0M366 360l-0 -1M431 335l1 -0M509 367l0 -1M461 314l1 0M405 327l-1 -1M495 393l0 -1M367 383l0 -2M387 331l0 0M387 424l1 -1M354 381l-0 -1M352 400l-1 1M478 430l-2 -1M460 346l2 0M421 365l-0 -0M367 428l-2 1M441 388l-2 1M506 327l-0 -1M411 319l0 -0M389 381l-0 -0M479 386l0 -1M364 386l-1 -0M365 387l0 1M496 395l-2 -2M477 424l0 2M480 376l-1 -2M386 323l-1 2M408 371l-1 2M441 325l0 0M455 365l2 -0M505 419l0 0M494 409l0 2M471 412l-1 1M507 430l1 2M372 408l-2 1M463 340l-2 1M432 375l0 1M482 382l0 0M500 403l-0 -2M495 388l-1 -1M441 396l2 1M424 367l-0 2M453 412l1 -1M396 413l1 2M421 362l-1 -1M404 348l-2 -0M402 327l-2 -1M438 358l1 0M423 338l-1 1M408 405l0 0M373 328l-0 1M482 406l0 -0M409 360l0 -1M465 385l0 -0M460 382l1 0M437 369l1 1M394 428l-0 -1M492 323l0 1M352 416l-2 -1M362 314l-1 -0M392 417l1 0M475 411l-0 0M466 383l1 -1M376 383l-0 1M352 412l1 1M503 328l2 -1M432 408l2 -2M351 432l-0 -1M428 389l0 2M460 359l-1 -1M483 379l-1 -1M433 316l0 -0M507 324l-0 0M413 392l-1 -0M356 319l-0 0M447 394l-0 -0M422 397l-1 -1M457 317l-0 -0M362 342l0 -0M352 406l-0 -0M373 414l-1 -1M403 429l0 2M410 340l0 0"/>
<path id="pi1" d="M408 432l0 1M500 417l2 0M388 371l1 -1M450 398l-1 2M363 376l1 -1M392 360l2 0M468 431l-0 -1M440 415l-1 2M454 366l-0 0M387 325l0 1M439 402l-2 -1M354 403l-0 1M403 347l-0 0M476 392l1 1M417 386l-0 -0M410 318l-1 -0M381 427l-2 1M427 398l1 1M352 410l-0 1M509 382l1 -1M370 423l-1 1M377 430l1 1M392 421l-1 0M389 430l-2 0M373 348l-0 -1M395 377l-0 -0M435 409l-2 0M396 357l-2 0M416 326l1 1M379 335l1 -1M461 425l-0 -2M418 423l2 -0M458 415l-1 1M454 431l2 1M420 332l0 0M481 346l-0 -0M360 362l-1 1M473 377l0 0M358 400l0 -2M476 390l-2 -1M457 408l2 1M413 355l-1 0M429 349l0 -1M492 324l-0 0M369 348l0 -1M401 347l1 -0M393 336l-0 2M396 360l1 -0M419 420l-0 1M361 347l1 2M386 387l-1 1M487 333l-1 -2M399 387l0 1M494 433l-2 0M384 415l2 -2M353 343l1 -2M471 318l2 0M433 339l-2 1M506 401l-1 0M388 427l1 -1M465 403l0 2M434 339l-0 0M376 385l-2 -1M414 345l-1 -2M422 355l2 0M430 391l1 -1M461 379l1 -2M506 391l-1 -0M376 317l1 -1M509 388l-1 1M488 372l0 0M366 345l1 -1M419 417l-0 1M421 413l-0 2M354 406l2 1M489 343l-2 -0M387 429l-2 1M363 366l1 1M455 423l2 -1M474 418l1 1M368 373l1 -1M380 346l-1 2M471 321l0 -0M418 433l1 -1M418 332l2 0M356 359l2 1M386 388l-0 2M397 342l1 -1M442 352l-2 0M504 365l0 -1M355 416l1 0M399 319l-0 0M423 424l-0 -0M491 370l2 -1M387 349l-0 -0M501 328l1 1M442 435l-2 0M439 434l0 -1M392 357l-0 2M484 333l-0 2M388 432l1 -1M427 356l2 1M470 318l2 1M486 342l-1 -0M482 383l-1 -1M477 427l-2 -0M473 326l-2 1M421 385l-1 -2M354 389l1 -1M395 401l-2 1M368 432l0 -2M395 347l-1 -0M380 362l-0 1M482 426l-1 -0M353 326l-0 -2M484 326l1 0M402 416l0 -0M377 430l-1 -0M352 378l-0 -0M382 390l-1 1M436 371l1 -2M394 354l-1 1M419 341l2 0M462 339l0 -0M500 370l-1 1M389 360l-2 -0M417 357l1 1M490 397l1 0M414 352l-0 0M398 369l-1 -1M392 366l-0 -1M502 410l-2 1M419 339l1 -1M353 407l0 0M374 318l1 2M436 402l0 0M407 322l-2 -1M482 327l2 -0M400 379l-1 1M467 332l-0 0M494 430l1 -0M506 375l-0 -0M493 360l-0 -2M396 420l-0 -0M479 392l-0 -1M468 381l-1 1M362 354l-2 -1M459 412l-1 -0M400 408l1 1M458 396l1 2M378 322l-1 -0M418 331l-0 0M436 430l1 1M386 320l1 -1M458 374l-0 -1M360 380l0 -2M399 330l-0 1M427 404l0 0M484 333l0 1M452 331l-1 -1M402 313l-0 0M388 363l1 -1M380 419l-0 -1M468 376l-0 -2M358 427l-0 1M408 424l1 0M356 381l0 -1M481 349l-2 0M393 402l1 -1M509 322l0 -0M392 344l-1 0M410 397l-2 2M396 322l2 0M405 375l0 0M503 367l1 0M464 404l-1 1M505 405l-0 2M456 410l1 0M453 401l-0 -0M450 434l-1 0M394 389l-2 -2M399 417l-0 2M390 432l0 1M396 342l1 -1M444 400l-0 -0M490 349l1 -1M463 345l1 -1M446 390l1 1M482 346l2 1M352 364l1 0M415 409l0 1M495 391l-0 0M362 426l2 -1M389 395l-0 -0M501 408l-0 0M439 373l1 2M395 389l-1 2M482 324l-0 0M426 356l-0 -0M508 387l-0 -1M365 428l-1 2M389 399l0 1M478 347l-1 -0M398 421l-1 -2M433 399l-2 -1M464 341l-0 1M409 408l-1 -2"/>
<clipPath id="cpj"><rect x="530" y="316" width="155.00" height="116.00"/></clipPath>
<filter id="txj" x="0" y="0" width="100%" height="100%" filterUnits="objectBoundingBox" color-interpolation-filters="sRGB"><feTurbulence type="fractalNoise" baseFrequency="0.15" numOctaves="2" seed="52"/><feColorMatrix type="matrix" values="2.0 0 0 0 -0.5  2.0 0 0 0 -0.5  2.0 0 0 0 -0.5  0 0 0 0 1"/><feGaussianBlur stdDeviation="0.6"/></filter>
<path id="wj0" d="M586 425Q585 430 588 433M578 332Q575 333 572 332M631 435Q632 431 631 427M546 384Q550 382 553 385M534 333Q529 331 524 332M554 326Q556 322 555 318M617 351Q621 355 626 356M598 350Q598 343 592 341M543 417Q538 418 532 418M564 379Q564 383 562 386M664 343Q671 343 675 339M563 430Q564 436 557 438M568 415Q570 411 570 408M578 354Q582 351 586 348M598 354Q600 359 596 362M579 385Q574 388 569 390M585 342Q590 344 592 350M566 427Q561 424 559 418M559 397Q558 402 554 404M602 381Q606 385 602 389M636 415Q639 416 641 418M626 414Q620 416 620 422M569 336Q574 335 574 330M540 421Q538 417 533 416M562 415Q568 415 573 420M542 327Q544 323 545 318M660 384Q660 379 655 377M578 413Q583 409 589 410M657 324Q654 325 654 329M637 329Q633 330 633 335M583 356Q583 352 585 348M655 361Q657 362 659 365M589 403Q583 398 586 392M534 412Q532 407 530 402M650 406Q655 403 658 407M538 380Q538 374 542 370M618 317Q614 323 608 321M580 404Q582 406 584 409M603 375Q605 373 605 370M581 370Q585 368 588 369M570 416Q564 412 558 416M536 329Q533 329 531 331M617 434Q621 438 618 442M611 397Q616 396 620 399M546 368Q547 373 545 377M569 422Q566 426 561 424M615 352Q611 354 609 358M548 334Q549 330 553 330M532 358Q530 353 525 351M570 414Q569 410 566 407M664 391Q660 389 658 387M630 420Q629 416 627 412M575 409Q578 411 581 411M679 348Q683 344 680 340M528 347Q527 344 528 341M613 351Q610 350 608 347M533 413Q530 418 534 423M585 312Q586 315 585 318M664 415Q667 418 667 422M627 330Q632 326 629 320M575 319Q577 324 572 328M613 437Q615 440 614 444M618 351Q620 347 622 342M658 356Q654 357 651 357M636 374Q638 368 633 365M626 370Q628 371 630 373M646 433Q646 439 652 440M671 378Q667 383 662 386M641 350Q644 352 644 355M575 326Q576 322 575 319M639 436Q646 439 644 447M586 372Q581 370 575 370M545 408Q548 409 549 411M601 329Q603 324 605 320M575 385Q574 389 574 394M605 373Q608 378 605 384M609 371Q610 378 604 382M620 326Q624 329 627 331M675 379Q672 381 670 383M591 326Q590 330 587 331M540 344Q543 344 546 345M654 390Q656 393 660 394M642 318Q638 318 635 321M558 433Q555 437 551 434M574 373Q573 368 568 367M541 331Q539 336 534 334M591 411Q593 413 594 415M570 411Q576 409 580 415M584 409Q578 409 576 414M682 349Q684 350 687 349M599 382Q600 387 605 387M671 436Q671 440 672 444M549 378Q550 375 547 372M575 377Q577 378 580 380M661 351Q663 357 670 358M539 365Q542 368 546 369M630 317Q626 320 623 324M557 418Q555 416 551 415M649 431Q646 433 644 436M650 437Q653 434 657 435M614 362Q614 358 617 355M595 396Q597 393 599 393M545 433Q548 435 551 436M572 375Q571 371 575 368M607 359Q613 358 618 356M662 395Q668 394 668 387M653 344Q648 341 643 344M563 400Q556 397 558 390M665 338Q664 343 668 346M616 341Q618 341 621 342M558 329Q561 329 563 332M655 403Q660 406 665 403M540 425Q541 419 546 418M614 365Q618 364 622 367"/>
<path id="wj1" d="M640 314Q640 318 637 321M687 385Q685 382 681 383M686 382Q688 378 684 376M641 430Q643 436 637 440M557 364Q555 369 555 374M574 428Q569 429 567 425M594 413Q591 411 592 407M551 343Q552 348 548 351M681 376Q683 379 681 382M662 357Q661 360 663 362M651 328Q653 322 658 323M530 398Q532 403 530 407M643 324Q640 324 639 327M665 317Q661 317 657 315M661 344Q662 347 661 351M594 406Q597 400 603 401M571 437Q568 438 567 442M573 394Q570 388 563 391M603 340Q597 340 595 334M619 430Q615 429 612 428M547 345Q548 351 544 355M689 359Q693 359 693 355M623 385Q627 382 630 379M579 396Q582 401 583 405M595 333Q598 332 599 329M599 394Q596 397 591 398M565 374Q559 372 553 376M610 332Q608 335 608 337M662 348Q664 344 668 342M590 420Q590 426 584 427M554 430Q553 433 552 435M646 418Q648 415 647 411M618 329Q623 332 627 337M552 344Q549 342 549 338M580 334Q583 331 587 332M667 415Q665 418 667 422M540 391Q537 388 533 389M582 385Q584 390 583 396M575 351Q575 354 575 358M560 401Q565 400 569 403M573 426Q576 431 581 429M586 363Q592 362 596 358M559 437Q561 431 555 428M605 433Q598 435 596 428M545 324Q545 329 548 332M668 344Q664 344 661 342M660 314Q658 316 658 319M578 437Q579 439 581 441M684 402Q680 399 681 394M613 312Q614 317 615 321M687 319Q686 313 687 307M534 389Q532 392 529 392M614 411Q611 414 607 415M633 330Q631 325 629 321M660 387Q657 393 650 391M680 399Q684 398 688 398M607 397Q603 398 602 400M682 371Q684 369 687 371M592 378Q588 373 582 373M546 415Q548 420 546 426M564 337Q561 334 556 335M618 337Q621 336 622 333M583 375Q579 376 577 373M684 359Q686 363 691 363M530 350Q530 345 529 340M644 412Q648 410 652 413M647 327Q648 331 646 335M641 383Q639 389 632 388M654 394Q661 395 663 401M664 354Q663 357 667 359M651 354Q648 349 645 344M585 336Q587 342 590 346M559 353Q559 348 558 343M672 366Q675 363 678 365M627 434Q633 435 638 430M621 414Q619 412 616 413M638 328Q637 332 633 332M565 365Q567 367 569 370M664 337Q663 332 668 330M685 380Q687 376 690 372M547 418Q542 418 539 422M669 335Q673 332 677 331M675 391Q674 386 671 383M526 358Q524 355 522 352M651 428Q653 431 652 434M641 331Q647 328 651 334M555 338Q555 341 558 342M576 346Q582 346 584 341M569 428Q565 429 561 428M676 404Q675 400 672 397M568 384Q564 388 559 392M629 345Q628 341 630 338M616 384Q612 383 609 380M586 398Q585 401 587 404M562 331Q556 329 552 334M548 386Q543 390 545 395M640 421Q641 426 645 428M586 414Q589 416 591 418M560 338Q554 337 552 331M658 413Q660 418 658 423M562 338Q562 343 567 346M581 392Q581 398 576 400M635 318Q638 323 644 323M588 401Q592 403 591 408M647 353Q649 350 653 351M597 404Q601 405 601 409M576 419Q572 421 574 425M670 385Q673 383 676 384M614 320Q615 324 618 327"/>
<path id="wj2" d="M584 328Q587 323 590 319M605 351Q599 353 599 359M592 386Q589 384 585 386M526 369Q529 364 526 359M651 312Q653 310 654 307M616 343Q615 348 610 348M629 427Q626 431 621 432M620 367Q615 369 611 365M539 355Q542 350 546 345M566 393Q561 392 559 396M603 354Q606 347 599 344M679 431Q682 433 680 436M567 347Q561 347 559 354M649 420Q653 419 652 415M608 367Q603 367 599 370M637 391Q636 386 641 384M646 397Q641 399 638 396M584 430Q586 433 589 434M604 378Q605 373 611 374M685 397Q686 394 688 393M537 395Q538 399 534 401M555 342Q558 345 561 346M594 340Q592 338 590 335M566 381Q562 378 558 376M665 368Q662 367 658 366M589 404Q594 403 598 399M643 340Q643 344 639 345M611 332Q615 326 610 320M631 418Q626 418 622 417M529 415Q534 415 537 411M560 335Q557 334 555 332M544 377Q541 380 538 382M578 332Q584 332 586 338M540 366Q536 368 535 372M643 356Q645 359 648 361M645 436Q641 434 638 431M532 397Q536 395 540 394M543 429Q546 428 548 426M628 366Q626 365 623 363M617 381Q613 385 607 386M552 426Q551 429 552 432M628 358Q623 362 617 361M584 395Q585 402 592 402M618 410Q622 415 620 421M587 376Q591 372 596 369M589 427Q593 423 598 420M644 386Q639 386 638 390M552 416Q552 420 548 422M651 430Q654 427 653 424M606 347Q604 346 601 347M664 319Q665 324 669 326M589 383Q585 387 582 391M688 419Q690 422 691 425M567 403Q565 398 568 393M539 375Q541 370 545 366M535 343Q538 341 541 342M631 382Q628 382 624 382M574 356Q580 356 585 355M580 382Q579 380 580 377M563 431Q557 429 555 422M680 316Q683 317 687 316M635 374Q635 369 637 366M566 357Q569 360 569 364M686 324Q680 323 676 319M689 424Q689 419 693 417M675 392Q673 391 670 391M652 340Q656 336 654 331M686 324Q682 319 677 321M621 414Q617 417 619 421M684 397Q684 402 689 403M563 381Q562 377 565 376M571 416Q568 410 573 406M644 431Q641 432 638 435M661 358Q658 356 654 357M652 418Q649 414 644 416M549 327Q545 327 545 324M639 362Q641 367 642 372M532 400Q534 397 536 393M557 326Q562 324 562 319M623 341Q620 344 615 342M682 379Q690 378 692 385M542 377Q538 376 535 376M552 394Q554 388 550 383M547 352Q552 351 556 349M680 370Q680 373 680 376M598 352Q602 351 606 350M687 340Q690 342 694 343M647 325Q651 327 655 331M599 338Q602 333 607 330M546 334Q545 330 542 327M580 412Q576 410 574 414M549 343Q551 339 554 336M559 413Q554 408 548 412M643 359Q645 357 646 354M579 428Q576 427 574 430M660 313Q665 312 666 317M639 375Q644 379 647 385M613 406Q611 402 615 399M535 428Q532 423 525 422M640 321Q645 318 651 318M528 345Q527 348 523 347M589 344Q591 347 589 351M583 347Q583 351 585 355M688 361Q683 363 677 365M640 330Q637 335 632 337M612 324Q611 318 613 313M554 419Q551 420 549 419M689 406Q690 403 692 400M613 352Q617 355 617 361M661 358Q657 360 656 364M607 386Q608 384 608 381M619 370Q618 374 614 374M605 348Q604 342 609 339M652 381Q646 382 642 378M654 394Q651 399 653 405M586 427Q584 430 582 434M676 329Q682 329 684 336"/>
<path id="pj0" d="M595 363l-0 -0M676 384l-1 -1M620 424l2 0M608 391l1 0M584 371l0 2M596 431l1 2M527 405l-0 0M675 313l-0 2M677 319l0 -1M565 408l0 -0M600 376l1 1M533 374l-0 1M679 342l-2 -1M548 330l-0 0M647 383l1 0M650 322l-0 -0M580 368l1 -1M536 423l1 -1M650 390l-1 1M587 378l-1 1M656 340l-0 0M573 390l-2 0M554 326l-0 -0M571 404l0 0M553 324l1 1M666 405l-0 -0M616 332l1 -0M615 353l-1 -2M677 344l-0 -0M573 426l-0 0M595 429l0 -2M579 393l2 0M608 387l-1 2M638 378l1 -1M608 362l-1 -0M652 373l-1 1M642 416l2 1M601 381l-1 2M529 417l-1 -0M584 386l0 0M612 329l0 -0M665 315l-1 1M584 394l1 -2M683 405l2 2M679 345l2 1M679 432l1 -1M566 334l2 1M577 358l-1 -2M649 434l-2 -0M648 376l-1 1M641 373l-1 0M578 387l-0 2M616 384l0 -0M543 428l-1 2M569 401l0 -0M647 416l1 -0M623 417l1 0M554 401l1 -1M562 414l0 -1M667 388l0 -2M582 340l-2 0M549 435l1 -0M592 386l0 -0M585 343l1 1M620 391l0 -2M642 313l1 1M572 425l-0 0M548 357l-1 1M616 317l-1 -0M581 393l0 -1M609 416l1 -1M607 341l0 1M596 433l0 -0M533 410l-0 1M663 376l1 -0M636 379l0 1M582 319l-1 -2M598 371l1 1M663 421l2 1M582 409l0 2M556 356l1 2M634 405l-2 0M662 361l1 -1M593 348l-1 -0M599 330l-0 -1M670 353l-1 2M565 314l-0 0M596 372l2 2M646 422l1 -2M686 370l-1 -1M588 314l-1 -0M609 407l0 0M546 319l-0 -0M537 340l-0 -0M548 413l-0 0M550 407l-2 1M667 411l0 -0M685 408l-1 -0M663 323l1 1M540 398l-0 -0M580 398l1 0M559 374l-0 2M545 340l-0 1M622 333l-1 0M675 379l0 2M605 389l-1 -2M535 353l-1 0M547 351l0 0M639 345l-1 1M608 330l-0 1M588 350l1 -2M601 358l-0 -1M554 329l0 -2M669 413l1 1M550 378l0 -0M658 350l2 -2M562 388l0 1M635 365l-0 -2M634 404l-1 -0M533 334l1 -1M552 417l-2 1M585 338l0 -0M666 404l2 1M636 421l1 -1M570 427l-0 -0M647 321l1 -1M543 316l-1 0M682 335l-0 2M610 364l-0 -1M645 373l-1 -0M650 378l-0 -0M605 388l-1 1M637 350l0 -0M590 374l-0 0M647 423l1 -1M539 339l1 1M569 371l-0 0M528 399l0 0M551 411l-0 -2M587 382l-1 2M581 374l0 2M685 342l-0 -1M562 367l0 -1M569 430l1 2M557 425l0 2M599 401l-1 -2M671 378l-1 -0M527 378l-1 -2M584 420l0 1M556 336l0 2M603 364l-0 -0M662 357l-1 0M637 375l1 0M636 316l-2 2M552 324l-0 -1M651 339l2 0M687 368l1 -0M613 391l0 -0M684 329l-2 -0M584 313l1 -0M552 421l-0 -0M668 401l1 -1M536 358l-1 -2M674 413l-0 -2M555 415l-1 0M629 374l0 -1M619 377l-1 -0M574 373l-1 -0M668 341l-0 -0M600 400l1 -1M631 356l-0 0M580 396l1 2M594 385l1 -0M541 380l2 -1M680 395l1 0M553 318l2 -1M625 385l-0 0M545 370l-1 0M600 330l0 -0M528 375l1 1M547 426l-2 -1M655 420l0 -0M625 376l-0 -2M556 390l0 0M551 328l-0 -0M683 382l-2 -1M581 320l2 -1M596 321l-0 0M593 406l-1 1M676 428l-0 -1M606 361l0 0M538 371l-0 0M561 383l1 1M546 426l-1 -1M594 423l2 -1M636 428l-2 -1M651 402l0 1M655 383l1 -2M540 404l-1 -2M651 398l-0 0M638 392l-0 -1M604 325l-1 2M595 383l0 2M654 320l1 1M635 391l1 -1M587 417l2 0M614 427l-1 -1M559 413l-0 0M595 406l-2 1M546 421l-1 -1M655 318l0 -2"/>
<path id="pj1" d="M589 413l-1 1M629 383l0 1M609 399l-0 -0M610 327l-0 2M573 421l-0 -0M650 424l1 -1M547 386l-0 0M630 317l1 -0M583 422l1 1M665 426l1 -1M674 325l-0 -1M557 331l-1 -0M571 393l-2 1M567 434l-2 1M676 400l-0 2M679 393l-0 0M685 366l-2 -1M633 336l0 -1M535 347l-1 1M638 342l0 0M604 373l-0 -0M676 396l1 1M656 435l-1 -0M669 395l1 1M531 341l-0 2M652 418l-0 -0M667 343l1 -1M557 320l0 1M627 328l0 -0M641 342l2 -2M582 407l2 1M632 347l1 1M608 411l1 1M636 355l-0 1M642 430l-0 0M566 363l-1 2M608 405l1 -1M618 376l-1 -1M613 423l2 -1M634 334l-0 1M562 383l2 -1M611 417l1 -1M667 379l-2 1M564 406l-0 0M548 316l0 2M658 371l-0 -0M602 366l-0 0M646 404l1 -1M611 325l-1 1M583 413l0 1M662 426l0 1M621 411l0 1M664 366l-1 -1M614 332l-1 0M593 426l1 -2M639 315l-0 1M617 355l-0 -0M591 421l1 -2M564 400l1 1M647 424l1 0M564 336l2 0M577 379l-1 -2M686 418l1 -2M565 416l-2 -0M528 372l-2 0M624 411l0 -1M550 339l-0 1M666 343l-1 1M647 385l0 -2M635 385l-1 0M675 399l-2 0M629 376l1 1M668 389l-2 1M571 409l1 -0M670 317l-0 0M559 390l1 -2M668 315l-0 -0M589 410l0 0M583 389l1 -2M535 382l-1 -2M685 320l1 2M572 398l2 1M671 363l-1 -0M586 333l0 -0M684 345l-0 -2M557 334l0 -0M594 315l-0 0M686 419l1 2M550 386l0 0M580 363l-2 1M531 317l-2 0M572 340l-0 0M667 325l2 1M546 336l2 1M532 374l0 -1M559 429l-1 -2M614 426l-1 1M533 389l1 -1M550 399l1 -1M598 373l-0 -0M678 396l1 1M643 365l-1 -1M577 434l1 0M627 317l0 2M577 370l-1 2M688 393l-0 0M592 427l-0 -0M545 336l0 -1M648 353l1 1M573 405l1 2M620 419l-2 -1M666 363l1 -1M583 323l-1 -1M597 360l0 -1M599 337l0 0M677 433l1 1M635 434l0 0M534 328l1 2M680 327l1 -1M647 362l2 1M547 329l0 -1M678 320l-1 -1M544 364l-1 -1M576 422l-2 1M538 318l-1 -1M556 361l-0 2M562 382l-2 -0M617 428l-0 0M597 381l-0 -0M676 374l1 0M663 404l-0 1M650 408l-1 2M619 370l-1 1M672 386l-0 -1M629 350l0 -2M662 337l0 -1M552 435l-0 -1M686 341l-0 -1M642 345l0 0M572 318l1 -0M671 349l0 -2M528 355l1 -1M659 327l-0 -0M546 411l-0 0M615 434l0 2M538 376l0 0M678 365l-0 1M683 323l-0 1M542 334l-0 -1M596 396l0 0M623 422l0 1M672 376l-1 0M553 332l-0 -0M657 406l-0 -0M660 342l1 2M684 375l2 1M602 432l-0 -0M594 416l-1 -0M536 378l1 1M577 430l1 -1M573 420l-1 -1M638 378l2 0M617 368l-0 0M625 331l0 -0M640 412l1 0M655 359l-2 1M528 353l0 2M594 419l0 1M579 373l0 -1M531 330l-2 1M641 331l1 0M651 333l-0 0M636 320l1 1M573 362l1 0M551 360l1 0M602 355l0 0M603 383l-1 -2M645 357l0 2M638 366l-0 -0M563 428l0 0M684 326l-0 -1M607 431l1 1M579 356l2 0M674 412l0 -0M571 326l0 2M669 384l1 -2M574 385l-2 1M572 396l-0 -2M618 417l-1 -1"/></defs>
<rect width="685" height="432" fill="#fff"/>
<rect x="53.75" y="33.7" width="6.50" height="99.3" fill="#dfe3f0"/>
<rect x="101.35" y="30" width="3.8" height="103" fill="#f8e1e4"/>
<rect x="119.60" y="43.5" width="3.8" height="89.5" fill="#f8e1e4"/>
<rect x="180.85" y="46" width="3.8" height="87" fill="#f8e1e4"/>
<line x1="80.25" y1="103" x2="80.25" y2="135" stroke="#c9a99b" stroke-width="0.7" stroke-dasharray="2.5,1.5"/>
<line x1="94.50" y1="103" x2="94.50" y2="135" stroke="#c9a99b" stroke-width="0.7" stroke-dasharray="2.5,1.5"/>
<line x1="139.50" y1="103" x2="139.50" y2="135" stroke="#c9a99b" stroke-width="0.7" stroke-dasharray="2.5,1.5"/>
<polyline points="17.50,81.85 18.00,82.34 18.50,82.28 19.00,81.91 19.50,82.07 20.00,82.03 20.50,82.16 21.00,82.24 21.50,81.74 22.00,81.68 22.50,82.22 23.00,81.92 23.50,82.14 24.00,81.58 24.50,81.87 25.00,82.04 25.50,81.67 26.00,82.15 26.50,82.09 27.00,81.45 27.50,81.41 28.00,81.74 28.50,81.98 29.00,81.55 29.50,81.39 30.00,81.49 30.50,81.17 31.00,81.26 31.50,81.36 32.00,81.35 32.50,81.11 33.00,81.05 33.50,80.98 34.00,81.09 34.50,80.91 35.00,80.65 35.50,81.16 36.00,80.89 36.50,80.87 37.00,80.48 37.50,80.97 38.00,80.80 38.50,80.20 39.00,80.26 39.50,80.45 40.00,80.36 40.50,80.43 41.00,79.98 41.50,80.18 42.00,79.97 42.50,79.63 43.00,79.73 43.50,79.85 44.00,79.73 44.50,79.40 45.00,79.36 45.50,78.88 46.00,78.93 46.50,79.22 47.00,78.85 47.50,78.58 48.00,78.74 48.50,78.75 49.00,78.62 49.50,78.29 50.00,78.21 50.50,78.12 51.00,78.16 51.50,77.81 52.00,77.52 52.50,77.36 53.00,76.75 53.50,76.40 54.00,76.41 54.50,76.01 55.00,74.97 55.50,73.83 56.00,72.45 56.50,71.33 57.00,70.53 57.50,69.93 58.00,70.26 58.50,71.68 59.00,72.64 59.50,74.11 60.00,75.46 60.50,76.01 61.00,76.56 61.50,76.93 62.00,77.52 62.50,78.13 63.00,77.74 63.50,78.52 64.00,78.75 64.50,78.98 65.00,79.04 65.50,79.24 66.00,79.17 66.50,79.34 67.00,79.37 67.50,79.23 68.00,79.91 68.50,79.81 69.00,79.66 69.50,79.97 70.00,80.06 70.50,80.07 71.00,80.15 71.50,80.38 72.00,80.52 72.50,80.60 73.00,80.58 73.50,80.36 74.00,80.57 74.50,80.61 75.00,80.97 75.50,81.23 76.00,81.25 76.50,81.32 77.00,81.39 77.50,81.06 78.00,81.53 78.50,81.46 79.00,81.10 79.50,81.10 80.00,81.15 80.50,81.71 81.00,81.40 81.50,81.34 82.00,81.73 82.50,81.57 83.00,81.41 83.50,81.51 84.00,81.79 84.50,81.57 85.00,81.66 85.50,81.99 86.00,81.84 86.50,81.76 87.00,81.89 87.50,81.59 88.00,81.86 88.50,81.89 89.00,81.74 89.50,81.70 90.00,82.26 90.50,82.00 91.00,81.80 91.50,82.08 92.00,82.23 92.50,81.68 93.00,81.68 93.50,81.77 94.00,82.17 94.50,81.78 95.00,82.15 95.50,82.13 96.00,82.03 96.50,81.79 97.00,82.30 97.50,82.15 98.00,81.93 98.50,81.68 99.00,81.92 99.50,81.66 100.00,81.67 100.50,81.31 101.00,81.21 101.50,80.23 102.00,79.18 102.50,76.71 103.00,70.32 103.50,69.92 104.00,76.64 104.50,79.19 105.00,80.85 105.50,81.29 106.00,81.38 106.50,81.45 107.00,81.40 107.50,82.09 108.00,81.56 108.50,82.15 109.00,82.28 109.50,82.03 110.00,81.76 110.50,82.26 111.00,82.35 111.50,82.17 112.00,82.04 112.50,81.95 113.00,81.93 113.50,81.83 114.00,82.15 114.50,81.98 115.00,81.81 115.50,81.73 116.00,82.11 116.50,81.83 117.00,81.95 117.50,81.79 118.00,82.11 118.50,82.04 119.00,81.28 119.50,81.17 120.00,80.80 120.50,80.30 121.00,78.16 121.50,76.01 122.00,77.77 122.50,80.08 123.00,81.16 123.50,81.69 124.00,81.52 124.50,82.04 125.00,81.99 125.50,81.91 126.00,82.30 126.50,81.81 127.00,82.17 127.50,81.74 128.00,81.82 128.50,82.35 129.00,81.87 129.50,82.26 130.00,82.15 130.50,82.33 131.00,82.00 131.50,81.98 132.00,81.95 132.50,82.36 133.00,82.18 133.50,82.42 134.00,82.38 134.50,81.85 135.00,82.15 135.50,81.83 136.00,81.79 136.50,81.81 137.00,82.37 137.50,82.32 138.00,82.35 138.50,82.01 139.00,82.20 139.50,82.31 140.00,82.03 140.50,82.17 141.00,81.93 141.50,81.83 142.00,81.96 142.50,82.39 143.00,82.16 143.50,82.42 144.00,82.09 144.50,81.96 145.00,82.32 145.50,82.35 146.00,81.78 146.50,82.24 147.00,81.83 147.50,81.85 148.00,82.39 148.50,81.80 149.00,81.94 149.50,82.46 150.00,82.07 150.50,81.85 151.00,81.89 151.50,81.94 152.00,82.29 152.50,81.84 153.00,82.41 153.50,82.03 154.00,82.45 154.50,82.41 155.00,81.98 155.50,81.95 156.00,82.10 156.50,81.84 157.00,82.23 157.50,81.80 158.00,81.78 158.50,82.46 159.00,81.98 159.50,82.19 160.00,82.08 160.50,81.99 161.00,81.81 161.50,82.41 162.00,82.45 162.50,82.44 163.00,81.84 163.50,81.92 164.00,82.20 164.50,82.45 165.00,82.14 165.50,82.25 166.00,82.23 166.50,81.94 167.00,82.14 167.50,81.98 168.00,81.93 168.50,81.82 169.00,81.96 169.50,82.45 170.00,82.07 170.50,82.21 171.00,82.21 171.50,82.41 172.00,82.03 172.50,81.97 173.00,81.98 173.50,81.97 174.00,82.34 174.50,82.37 175.00,81.95 175.50,81.97 176.00,82.11 176.50,82.13 177.00,82.13 177.50,81.88 178.00,81.71 178.50,81.84 179.00,81.70 179.50,82.00 180.00,81.61 180.50,81.52 181.00,81.74 181.50,81.17 182.00,80.82 182.50,79.41 183.00,79.67 183.50,80.37 184.00,81.32 184.50,81.85 185.00,81.52 185.50,82.22 186.00,81.73 186.50,82.19 187.00,82.36 187.50,82.26 188.00,81.92 188.50,81.79 189.00,82.08 189.50,82.37 190.00,81.93 190.50,82.36 191.00,81.83 191.50,82.37 192.00,81.76 192.50,81.96 193.00,82.37 193.50,82.31 194.00,82.38 194.50,82.33 195.00,82.27 195.50,82.23 196.00,81.87 196.50,82.05 197.00,81.86 197.50,82.25 198.00,82.22 198.50,81.93 199.00,81.79 199.50,82.42 200.00,82.32 200.50,82.13 201.00,82.13 201.50,82.35 202.00,82.07 202.50,82.03 203.00,81.99 203.50,81.93 204.00,81.77 204.50,82.20 205.00,82.04 205.50,82.15 206.00,81.79 206.50,82.00 207.00,81.85 207.50,81.84 208.00,81.93 208.50,82.33 209.00,82.03 209.50,82.03 210.00,82.18 210.50,81.91 211.00,81.75 211.50,82.12 212.00,82.10 212.50,82.20 213.00,82.05 213.50,82.23 214.00,82.26 214.50,81.91 215.00,82.09 215.50,82.08 216.00,81.90 216.50,82.04 217.00,82.14 217.50,82.38" fill="none" stroke="#f0946a" stroke-width="1.05" stroke-linejoin="round"/>
<polyline points="17.50,73.53 18.00,73.51 18.50,72.88 19.00,72.90 19.50,73.41 20.00,73.33 20.50,73.28 21.00,73.01 21.50,73.21 22.00,73.20 22.50,73.16 23.00,72.85 23.50,73.02 24.00,72.98 24.50,73.19 25.00,73.36 25.50,73.30 26.00,72.99 26.50,72.90 27.00,72.74 27.50,72.55 28.00,72.51 28.50,72.78 29.00,72.64 29.50,72.65 30.00,72.97 30.50,72.67 31.00,72.64 31.50,72.37 32.00,72.17 32.50,72.33 33.00,72.14 33.50,72.34 34.00,72.63 34.50,72.34 35.00,71.93 35.50,72.36 36.00,72.22 36.50,72.10 37.00,72.15 37.50,71.98 38.00,71.92 38.50,71.53 39.00,71.89 39.50,71.79 40.00,71.15 40.50,71.48 41.00,71.36 41.50,71.10 42.00,71.06 42.50,70.94 43.00,71.15 43.50,70.76 44.00,70.90 44.50,70.47 45.00,70.75 45.50,70.66 46.00,70.26 46.50,70.24 47.00,70.38 47.50,70.14 48.00,69.87 48.50,69.58 49.00,69.54 49.50,69.68 50.00,69.17 50.50,69.55 51.00,68.94 51.50,69.21 52.00,68.57 52.50,68.77 53.00,68.28 53.50,67.75 54.00,67.25 54.50,66.69 55.00,65.79 55.50,64.50 56.00,63.06 56.50,61.78 57.00,60.80 57.50,60.08 58.00,60.25 58.50,62.10 59.00,63.58 59.50,65.12 60.00,65.77 60.50,67.06 61.00,67.29 61.50,68.25 62.00,68.42 62.50,68.75 63.00,69.50 63.50,69.22 64.00,69.73 64.50,70.16 65.00,69.91 65.50,70.04 66.00,70.66 66.50,70.48 67.00,70.82 67.50,70.46 68.00,70.82 68.50,70.80 69.00,71.26 69.50,70.95 70.00,71.67 70.50,71.12 71.00,71.71 71.50,71.31 72.00,71.56 72.50,72.04 73.00,71.67 73.50,71.77 74.00,72.21 74.50,72.07 75.00,71.90 75.50,72.64 76.00,72.12 76.50,72.11 77.00,72.39 77.50,72.64 78.00,72.79 78.50,72.40 79.00,72.61 79.50,72.45 80.00,72.79 80.50,73.06 81.00,73.08 81.50,73.24 82.00,73.17 82.50,73.28 83.00,73.21 83.50,73.08 84.00,72.94 84.50,73.27 85.00,73.05 85.50,72.93 86.00,73.20 86.50,73.52 87.00,73.01 87.50,73.35 88.00,73.23 88.50,73.33 89.00,73.09 89.50,73.67 90.00,73.19 90.50,73.45 91.00,73.32 91.50,73.05 92.00,73.44 92.50,73.15 93.00,73.09 93.50,73.08 94.00,73.17 94.50,73.12 95.00,73.49 95.50,73.40 96.00,73.72 96.50,73.67 97.00,73.70 97.50,73.14 98.00,73.25 98.50,73.07 99.00,73.24 99.50,73.16 100.00,73.14 100.50,72.85 101.00,72.14 101.50,71.52 102.00,70.01 102.50,65.52 103.00,55.00 103.50,55.27 104.00,65.60 104.50,70.16 105.00,71.41 105.50,72.05 106.00,72.50 106.50,72.77 107.00,72.92 107.50,73.23 108.00,73.26 108.50,73.21 109.00,73.48 109.50,73.21 110.00,73.72 110.50,73.78 111.00,73.63 111.50,73.43 112.00,73.50 112.50,73.55 113.00,73.19 113.50,73.45 114.00,73.52 114.50,73.28 115.00,73.21 115.50,73.70 116.00,73.38 116.50,73.47 117.00,73.72 117.50,73.47 118.00,73.18 118.50,73.58 119.00,73.00 119.50,72.48 120.00,72.42 120.50,70.82 121.00,68.01 121.50,64.87 122.00,68.27 122.50,70.77 123.00,72.28 123.50,72.78 124.00,73.11 124.50,73.07 125.00,73.44 125.50,73.14 126.00,73.34 126.50,73.43 127.00,73.85 127.50,73.27 128.00,73.76 128.50,73.38 129.00,73.66 129.50,73.54 130.00,73.60 130.50,73.81 131.00,73.57 131.50,73.38 132.00,73.39 132.50,73.36 133.00,73.91 133.50,73.76 134.00,73.99 134.50,73.81 135.00,73.34 135.50,73.79 136.00,73.88 136.50,73.84 137.00,73.69 137.50,73.59 138.00,73.67 138.50,73.91 139.00,73.54 139.50,73.72 140.00,73.69 140.50,74.03 141.00,73.92 141.50,74.02 142.00,73.95 142.50,73.58 143.00,73.53 143.50,73.71 144.00,73.56 144.50,73.68 145.00,73.85 145.50,74.02 146.00,73.79 146.50,73.96 147.00,73.45 147.50,73.64 148.00,74.09 148.50,73.50 149.00,73.69 149.50,73.44 150.00,73.46 150.50,74.03 151.00,74.09 151.50,73.86 152.00,73.50 152.50,73.62 153.00,73.57 153.50,73.88 154.00,73.89 154.50,73.72 155.00,73.78 155.50,73.50 156.00,73.80 156.50,74.09 157.00,73.95 157.50,73.49 158.00,73.79 158.50,73.93 159.00,73.61 159.50,74.06 160.00,73.76 160.50,73.93 161.00,73.72 161.50,74.14 162.00,73.99 162.50,73.85 163.00,73.55 163.50,73.76 164.00,73.47 164.50,73.87 165.00,74.07 165.50,73.58 166.00,73.81 166.50,73.79 167.00,73.74 167.50,73.96 168.00,74.12 168.50,73.95 169.00,73.79 169.50,74.14 170.00,73.69 170.50,73.99 171.00,73.93 171.50,74.00 172.00,74.06 172.50,73.62 173.00,73.90 173.50,73.75 174.00,73.93 174.50,74.14 175.00,73.90 175.50,73.46 176.00,73.78 176.50,73.94 177.00,74.05 177.50,73.88 178.00,73.98 178.50,73.40 179.00,74.02 179.50,73.82 180.00,73.66 180.50,73.75 181.00,73.52 181.50,72.53 182.00,72.09 182.50,70.46 183.00,70.06 183.50,72.05 184.00,72.88 184.50,73.04 185.00,73.69 185.50,73.35 186.00,73.76 186.50,73.69 187.00,73.60 187.50,73.84 188.00,73.79 188.50,73.62 189.00,74.17 189.50,73.55 190.00,73.51 190.50,73.85 191.00,74.11 191.50,73.99 192.00,74.06 192.50,73.87 193.00,74.01 193.50,73.78 194.00,73.73 194.50,73.90 195.00,73.57 195.50,73.61 196.00,74.09 196.50,73.68 197.00,74.09 197.50,74.12 198.00,73.85 198.50,74.04 199.00,74.12 199.50,74.18 200.00,73.67 200.50,73.69 201.00,73.85 201.50,73.91 202.00,73.79 202.50,73.60 203.00,73.98 203.50,74.27 204.00,73.85 204.50,73.97 205.00,73.87 205.50,73.91 206.00,74.21 206.50,73.82 207.00,74.06 207.50,73.95 208.00,73.99 208.50,74.25 209.00,73.67 209.50,74.19 210.00,73.83 210.50,74.07 211.00,74.18 211.50,74.08 212.00,73.90 212.50,74.22 213.00,73.69 213.50,74.07 214.00,73.91 214.50,74.01 215.00,74.23 215.50,74.20 216.00,74.08 216.50,73.86 217.00,73.81 217.50,73.97" fill="none" stroke="#d23a45" stroke-width="1.05" stroke-linejoin="round"/>
<polyline points="17.50,63.93 18.00,64.14 18.50,64.01 19.00,64.16 19.50,64.17 20.00,63.76 20.50,63.72 21.00,64.28 21.50,63.86 22.00,63.83 22.50,64.34 23.00,63.96 23.50,64.20 24.00,63.92 24.50,64.02 25.00,63.65 25.50,63.96 26.00,64.10 26.50,63.83 27.00,63.95 27.50,63.87 28.00,63.41 28.50,63.86 29.00,63.71 29.50,63.46 30.00,63.23 30.50,63.77 31.00,63.45 31.50,63.57 32.00,63.63 32.50,63.46 33.00,63.55 33.50,63.12 34.00,63.35 34.50,63.03 35.00,63.31 35.50,63.20 36.00,62.59 36.50,62.54 37.00,62.52 37.50,62.97 38.00,62.52 38.50,62.58 39.00,62.27 39.50,62.33 40.00,62.16 40.50,62.05 41.00,62.13 41.50,62.04 42.00,62.18 42.50,61.93 43.00,62.01 43.50,61.87 44.00,61.88 44.50,61.56 45.00,61.12 45.50,61.52 46.00,61.50 46.50,61.37 47.00,61.04 47.50,61.05 48.00,60.60 48.50,60.94 49.00,60.66 49.50,60.36 50.00,60.10 50.50,60.53 51.00,60.50 51.50,59.73 52.00,60.07 52.50,59.61 53.00,59.20 53.50,59.02 54.00,58.99 54.50,58.60 55.00,57.42 55.50,57.05 56.00,55.70 56.50,55.12 57.00,53.97 57.50,54.01 58.00,54.47 58.50,55.07 59.00,56.51 59.50,57.03 60.00,57.68 60.50,58.69 61.00,58.80 61.50,59.32 62.00,59.79 62.50,60.20 63.00,60.11 63.50,60.22 64.00,60.97 64.50,60.74 65.00,61.34 65.50,61.43 66.00,61.19 66.50,61.37 67.00,61.53 67.50,61.72 68.00,61.80 68.50,61.87 69.00,62.02 69.50,62.34 70.00,62.13 70.50,62.17 71.00,62.46 71.50,62.21 72.00,62.34 72.50,62.90 73.00,62.66 73.50,62.76 74.00,62.45 74.50,62.81 75.00,63.00 75.50,62.67 76.00,63.15 76.50,63.23 77.00,62.89 77.50,63.34 78.00,63.29 78.50,63.49 79.00,63.31 79.50,63.60 80.00,63.67 80.50,63.21 81.00,63.28 81.50,63.75 82.00,63.99 82.50,63.52 83.00,63.70 83.50,63.82 84.00,63.66 84.50,63.72 85.00,63.71 85.50,63.77 86.00,63.95 86.50,63.76 87.00,63.83 87.50,64.12 88.00,63.62 88.50,64.01 89.00,64.14 89.50,63.85 90.00,63.80 90.50,64.22 91.00,63.83 91.50,63.80 92.00,63.98 92.50,64.16 93.00,63.75 93.50,63.91 94.00,63.91 94.50,64.26 95.00,63.98 95.50,64.27 96.00,63.78 96.50,63.89 97.00,64.09 97.50,64.23 98.00,63.90 98.50,63.71 99.00,63.58 99.50,63.79 100.00,63.45 100.50,63.70 101.00,63.42 101.50,62.40 102.00,61.21 102.50,58.19 103.00,48.23 103.50,48.34 104.00,57.87 104.50,61.11 105.00,62.47 105.50,63.39 106.00,63.33 106.50,63.56 107.00,63.72 107.50,63.80 108.00,63.84 108.50,64.24 109.00,63.73 109.50,63.65 110.00,64.32 110.50,64.29 111.00,64.38 111.50,64.00 112.00,64.36 112.50,64.35 113.00,63.86 113.50,64.23 114.00,64.29 114.50,64.16 115.00,64.06 115.50,63.89 116.00,63.92 116.50,63.82 117.00,63.69 117.50,64.02 118.00,63.77 118.50,64.07 119.00,63.42 119.50,63.83 120.00,63.30 120.50,62.59 121.00,60.44 121.50,57.90 122.00,60.22 122.50,61.96 123.00,63.34 123.50,63.32 124.00,63.60 124.50,63.97 125.00,63.94 125.50,63.91 126.00,64.31 126.50,64.11 127.00,63.94 127.50,63.89 128.00,64.32 128.50,64.06 129.00,64.28 129.50,63.99 130.00,63.88 130.50,64.12 131.00,64.32 131.50,63.87 132.00,64.31 132.50,64.40 133.00,64.33 133.50,64.34 134.00,63.77 134.50,64.21 135.00,64.37 135.50,63.80 136.00,63.96 136.50,63.96 137.00,64.14 137.50,64.07 138.00,64.10 138.50,64.31 139.00,63.77 139.50,63.81 140.00,63.86 140.50,63.86 141.00,63.82 141.50,64.45 142.00,64.37 142.50,63.83 143.00,64.12 143.50,63.99 144.00,63.99 144.50,64.02 145.00,64.23 145.50,64.18 146.00,64.03 146.50,63.91 147.00,64.00 147.50,63.86 148.00,64.16 148.50,64.27 149.00,64.04 149.50,63.83 150.00,63.90 150.50,64.03 151.00,64.20 151.50,64.32 152.00,64.04 152.50,64.33 153.00,64.21 153.50,64.07 154.00,64.03 154.50,64.12 155.00,64.26 155.50,64.07 156.00,64.26 156.50,64.09 157.00,63.94 157.50,64.15 158.00,64.26 158.50,63.82 159.00,64.07 159.50,64.07 160.00,64.38 160.50,64.42 161.00,64.03 161.50,64.40 162.00,64.32 162.50,63.95 163.00,64.09 163.50,63.85 164.00,64.33 164.50,64.23 165.00,64.39 165.50,64.32 166.00,64.23 166.50,64.28 167.00,64.16 167.50,63.83 168.00,64.17 168.50,63.76 169.00,63.86 169.50,64.30 170.00,63.79 170.50,63.82 171.00,63.82 171.50,64.37 172.00,63.88 172.50,63.77 173.00,64.34 173.50,63.83 174.00,64.33 174.50,64.21 175.00,64.32 175.50,64.40 176.00,64.13 176.50,64.28 177.00,63.73 177.50,64.23 178.00,64.04 178.50,64.16 179.00,63.71 179.50,64.11 180.00,64.18 180.50,63.46 181.00,63.45 181.50,63.23 182.00,62.59 182.50,60.78 183.00,60.74 183.50,62.19 184.00,63.27 184.50,63.75 185.00,63.69 185.50,63.78 186.00,63.86 186.50,63.87 187.00,63.95 187.50,63.73 188.00,64.04 188.50,64.38 189.00,64.00 189.50,64.24 190.00,63.84 190.50,64.21 191.00,64.26 191.50,64.21 192.00,64.10 192.50,64.08 193.00,64.19 193.50,64.37 194.00,63.85 194.50,63.81 195.00,64.27 195.50,64.39 196.00,64.11 196.50,64.06 197.00,64.25 197.50,63.88 198.00,63.94 198.50,63.89 199.00,64.16 199.50,63.97 200.00,63.91 200.50,64.23 201.00,64.42 201.50,63.96 202.00,64.24 202.50,64.04 203.00,64.35 203.50,64.16 204.00,63.94 204.50,63.90 205.00,63.77 205.50,64.09 206.00,64.02 206.50,63.87 207.00,64.00 207.50,63.98 208.00,64.29 208.50,63.85 209.00,64.44 209.50,64.08 210.00,64.17 210.50,64.08 211.00,64.33 211.50,64.32 212.00,64.14 212.50,64.09 213.00,64.25 213.50,64.35 214.00,64.03 214.50,64.26 215.00,64.42 215.50,64.07 216.00,63.91 216.50,63.91 217.00,64.25 217.50,64.22" fill="none" stroke="#3f54a6" stroke-width="1.05" stroke-linejoin="round"/>
<polyline points="17.50,54.32 18.00,54.22 18.50,54.41 19.00,54.24 19.50,54.16 20.00,54.39 20.50,54.74 21.00,54.64 21.50,54.60 22.00,54.20 22.50,54.41 23.00,54.21 23.50,54.12 24.00,54.05 24.50,54.10 25.00,54.58 25.50,54.48 26.00,54.44 26.50,54.41 27.00,53.95 27.50,54.00 28.00,54.19 28.50,54.22 29.00,54.27 29.50,54.24 30.00,53.65 30.50,53.96 31.00,53.96 31.50,53.79 32.00,53.51 32.50,53.66 33.00,53.34 33.50,53.87 34.00,53.76 34.50,53.47 35.00,53.23 35.50,53.59 36.00,53.28 36.50,53.42 37.00,53.32 37.50,53.01 38.00,52.86 38.50,52.91 39.00,52.71 39.50,52.43 40.00,52.44 40.50,52.71 41.00,52.08 41.50,51.99 42.00,52.31 42.50,51.97 43.00,52.05 43.50,51.91 44.00,51.73 44.50,52.09 45.00,51.43 45.50,51.48 46.00,51.23 46.50,51.43 47.00,51.08 47.50,51.02 48.00,51.19 48.50,50.77 49.00,50.82 49.50,50.93 50.00,50.22 50.50,50.04 51.00,49.98 51.50,50.16 52.00,49.82 52.50,49.27 53.00,48.99 53.50,48.45 54.00,48.10 54.50,47.09 55.00,46.60 55.50,45.52 56.00,44.06 56.50,42.26 57.00,41.02 57.50,39.80 58.00,40.59 58.50,42.52 59.00,44.08 59.50,45.37 60.00,47.01 60.50,47.77 61.00,48.67 61.50,48.90 62.00,49.31 62.50,49.87 63.00,49.97 63.50,50.41 64.00,51.05 64.50,50.82 65.00,50.78 65.50,50.97 66.00,51.21 66.50,51.78 67.00,51.63 67.50,51.70 68.00,51.69 68.50,52.43 69.00,52.15 69.50,52.10 70.00,52.10 70.50,52.20 71.00,52.38 71.50,52.83 72.00,52.55 72.50,52.56 73.00,52.96 73.50,52.88 74.00,53.48 74.50,52.94 75.00,53.30 75.50,53.54 76.00,53.36 76.50,53.83 77.00,53.53 77.50,53.43 78.00,53.60 78.50,53.39 79.00,53.72 79.50,53.64 80.00,54.14 80.50,54.14 81.00,53.95 81.50,53.66 82.00,53.86 82.50,53.88 83.00,53.89 83.50,53.94 84.00,54.42 84.50,53.93 85.00,53.90 85.50,54.53 86.00,54.30 86.50,54.62 87.00,54.22 87.50,54.59 88.00,54.43 88.50,54.54 89.00,54.52 89.50,54.36 90.00,54.09 90.50,54.18 91.00,54.65 91.50,54.67 92.00,54.70 92.50,54.29 93.00,54.51 93.50,54.61 94.00,54.50 94.50,54.62 95.00,54.42 95.50,54.50 96.00,54.51 96.50,54.20 97.00,54.64 97.50,54.64 98.00,53.99 98.50,54.57 99.00,54.50 99.50,54.21 100.00,53.64 100.50,54.02 101.00,53.12 101.50,53.03 102.00,51.32 102.50,46.82 103.00,35.08 103.50,35.41 104.00,47.18 104.50,51.38 105.00,53.01 105.50,53.19 106.00,53.40 106.50,54.26 107.00,53.76 107.50,54.45 108.00,53.98 108.50,54.51 109.00,54.53 109.50,54.62 110.00,54.41 110.50,54.66 111.00,54.19 111.50,54.53 112.00,54.30 112.50,54.70 113.00,54.62 113.50,54.40 114.00,54.44 114.50,54.09 115.00,54.08 115.50,54.47 116.00,54.38 116.50,54.62 117.00,54.41 117.50,54.04 118.00,54.13 118.50,54.32 119.00,54.00 119.50,53.37 120.00,53.42 120.50,52.22 121.00,48.74 121.50,45.55 122.00,48.95 122.50,52.19 123.00,53.06 123.50,53.53 124.00,53.98 124.50,54.47 125.00,53.96 125.50,54.04 126.00,54.44 126.50,54.65 127.00,54.42 127.50,54.38 128.00,54.69 128.50,54.65 129.00,54.16 129.50,54.74 130.00,54.26 130.50,54.34 131.00,54.72 131.50,54.44 132.00,54.70 132.50,54.26 133.00,54.76 133.50,54.28 134.00,54.26 134.50,54.50 135.00,54.39 135.50,54.54 136.00,54.79 136.50,54.66 137.00,54.17 137.50,54.38 138.00,54.54 138.50,54.50 139.00,54.67 139.50,54.50 140.00,54.22 140.50,54.34 141.00,54.76 141.50,54.42 142.00,54.70 142.50,54.86 143.00,54.61 143.50,54.64 144.00,54.59 144.50,54.39 145.00,54.81 145.50,54.50 146.00,54.81 146.50,54.38 147.00,54.78 147.50,54.72 148.00,54.60 148.50,54.48 149.00,54.27 149.50,54.71 150.00,54.42 150.50,54.63 151.00,54.26 151.50,54.23 152.00,54.27 152.50,54.73 153.00,54.29 153.50,54.80 154.00,54.43 154.50,54.57 155.00,54.41 155.50,54.60 156.00,54.23 156.50,54.45 157.00,54.82 157.50,54.29 158.00,54.62 158.50,54.39 159.00,54.38 159.50,54.18 160.00,54.18 160.50,54.83 161.00,54.75 161.50,54.73 162.00,54.73 162.50,54.83 163.00,54.27 163.50,54.57 164.00,54.51 164.50,54.56 165.00,54.82 165.50,54.69 166.00,54.84 166.50,54.24 167.00,54.61 167.50,54.63 168.00,54.68 168.50,54.59 169.00,54.74 169.50,54.37 170.00,54.80 170.50,54.44 171.00,54.57 171.50,54.78 172.00,54.64 172.50,54.36 173.00,54.30 173.50,54.37 174.00,54.57 174.50,54.83 175.00,54.76 175.50,54.40 176.00,54.40 176.50,54.68 177.00,54.30 177.50,54.37 178.00,54.07 178.50,54.17 179.00,54.39 179.50,54.45 180.00,54.32 180.50,54.02 181.00,54.23 181.50,53.61 182.00,52.54 182.50,51.44 183.00,52.07 183.50,53.12 184.00,53.82 184.50,53.98 185.00,53.99 185.50,53.95 186.00,54.14 186.50,54.16 187.00,54.69 187.50,54.69 188.00,54.62 188.50,54.20 189.00,54.27 189.50,54.32 190.00,54.78 190.50,54.24 191.00,54.68 191.50,54.61 192.00,54.51 192.50,54.81 193.00,54.32 193.50,54.51 194.00,54.25 194.50,54.21 195.00,54.16 195.50,54.36 196.00,54.23 196.50,54.19 197.00,54.84 197.50,54.35 198.00,54.77 198.50,54.64 199.00,54.66 199.50,54.61 200.00,54.81 200.50,54.76 201.00,54.65 201.50,54.54 202.00,54.63 202.50,54.65 203.00,54.53 203.50,54.50 204.00,54.26 204.50,54.74 205.00,54.49 205.50,54.20 206.00,54.27 206.50,54.76 207.00,54.33 207.50,54.42 208.00,54.63 208.50,54.75 209.00,54.38 209.50,54.42 210.00,54.44 210.50,54.17 211.00,54.76 211.50,54.16 212.00,54.82 212.50,54.25 213.00,54.26 213.50,54.74 214.00,54.72 214.50,54.31 215.00,54.53 215.50,54.48 216.00,54.65 216.50,54.28 217.00,54.72 217.50,54.84" fill="none" stroke="#3a3a3a" stroke-width="1.05" stroke-linejoin="round"/>
<polyline points="17.50,133.73 18.00,133.82 18.50,133.86 19.00,133.98 19.50,133.81 20.00,133.95 20.50,133.23 21.00,133.58 21.50,133.95 22.00,133.71 22.50,133.90 23.00,133.26 23.50,133.54 24.00,133.35 24.50,133.58 25.00,133.59 25.50,133.12 26.00,133.27 26.50,133.30 27.00,133.79 27.50,133.65 28.00,133.15 28.50,133.64 29.00,133.09 29.50,133.44 30.00,133.02 30.50,132.89 31.00,133.56 31.50,133.00 32.00,132.97 32.50,133.55 33.00,133.42 33.50,132.92 34.00,133.41 34.50,133.03 35.00,133.10 35.50,132.67 36.00,133.22 36.50,132.97 37.00,133.14 37.50,133.03 38.00,132.50 38.50,132.49 39.00,132.28 39.50,132.21 40.00,132.08 40.50,132.21 41.00,132.39 41.50,131.85 42.00,132.33 42.50,131.99 43.00,131.91 43.50,132.25 44.00,131.91 44.50,131.72 45.00,131.78 45.50,131.89 46.00,131.31 46.50,131.97 47.00,131.14 47.50,131.65 48.00,131.64 48.50,130.90 49.00,131.44 49.50,131.01 50.00,131.08 50.50,130.52 51.00,130.42 51.50,130.39 52.00,130.84 52.50,130.04 53.00,130.24 53.50,130.06 54.00,129.68 54.50,128.68 55.00,128.00 55.50,127.26 56.00,126.37 56.50,124.64 57.00,124.14 57.50,123.78 58.00,124.27 58.50,124.67 59.00,126.63 59.50,127.08 60.00,128.20 60.50,129.14 61.00,129.94 61.50,129.92 62.00,130.73 62.50,130.71 63.00,130.76 63.50,130.96 64.00,131.02 64.50,131.10 65.00,131.29 65.50,131.85 66.00,132.21 66.50,131.65 67.00,131.66 67.50,132.51 68.00,132.23 68.50,132.22 69.00,132.17 69.50,132.54 70.00,132.80 70.50,132.58 71.00,132.62 71.50,132.40 72.00,133.16 72.50,132.52 73.00,132.95 73.50,133.29 74.00,132.78 74.50,133.32 75.00,133.55 75.50,133.34 76.00,133.52 76.50,133.02 77.00,133.32 77.50,133.13 78.00,133.70 78.50,133.26 79.00,133.34 79.50,133.56 80.00,132.74 80.50,132.87 81.00,133.23 81.50,133.54 82.00,133.86 82.50,133.73 83.00,133.63 83.50,133.76 84.00,133.58 84.50,133.80 85.00,134.31 85.50,134.31 86.00,134.06 86.50,133.98 87.00,133.87 87.50,133.69 88.00,133.85 88.50,134.27 89.00,134.34 89.50,133.95 90.00,134.29 90.50,134.29 91.00,134.23 91.50,134.20 92.00,134.26 92.50,133.92 93.00,134.14 93.50,133.65 94.00,133.36 94.50,132.84 95.00,133.52 95.50,133.65 96.00,134.31 96.50,134.12 97.00,134.08 97.50,133.61 98.00,134.02 98.50,133.74 99.00,134.01 99.50,133.74 100.00,133.88 100.50,133.51 101.00,133.23 101.50,132.13 102.00,130.81 102.50,127.11 103.00,119.05 103.50,118.67 104.00,127.21 104.50,131.01 105.00,132.43 105.50,133.41 106.00,133.81 106.50,133.70 107.00,133.87 107.50,133.69 108.00,134.30 108.50,134.44 109.00,134.11 109.50,134.32 110.00,134.37 110.50,134.40 111.00,133.97 111.50,134.47 112.00,134.32 112.50,134.39 113.00,134.20 113.50,134.37 114.00,134.49 114.50,134.38 115.00,134.44 115.50,133.87 116.00,133.97 116.50,134.17 117.00,134.30 117.50,133.91 118.00,134.21 118.50,134.05 119.00,133.39 119.50,133.42 120.00,132.61 120.50,131.20 121.00,128.61 121.50,126.30 122.00,128.66 122.50,131.33 123.00,132.49 123.50,133.45 124.00,133.72 124.50,134.10 125.00,134.20 125.50,134.00 126.00,134.60 126.50,133.92 127.00,134.28 127.50,134.20 128.00,134.33 128.50,134.11 129.00,134.70 129.50,134.35 130.00,134.09 130.50,134.56 131.00,134.16 131.50,134.53 132.00,134.37 132.50,134.57 133.00,134.88 133.50,134.77 134.00,134.46 134.50,134.78 135.00,134.64 135.50,134.43 136.00,134.24 136.50,134.60 137.00,134.57 137.50,134.87 138.00,134.83 138.50,134.43 139.00,133.87 139.50,133.70 140.00,133.59 140.50,134.05 141.00,134.54 141.50,134.63 142.00,134.28 142.50,134.69 143.00,134.91 143.50,134.51 144.00,134.56 144.50,134.40 145.00,134.46 145.50,135.01 146.00,134.54 146.50,135.01 147.00,134.98 147.50,134.73 148.00,134.47 148.50,135.05 149.00,134.67 149.50,134.60 150.00,134.53 150.50,135.07 151.00,134.68 151.50,134.52 152.00,134.68 152.50,134.40 153.00,134.80 153.50,134.66 154.00,134.54 154.50,134.94 155.00,134.98 155.50,134.33 156.00,134.75 156.50,134.55 157.00,135.08 157.50,134.96 158.00,134.54 158.50,134.56 159.00,134.47 159.50,135.14 160.00,134.59 160.50,134.85 161.00,134.74 161.50,134.88 162.00,134.86 162.50,134.97 163.00,134.47 163.50,134.99 164.00,134.63 164.50,134.82 165.00,134.66 165.50,134.64 166.00,134.83 166.50,134.78 167.00,134.70 167.50,135.01 168.00,134.89 168.50,134.45 169.00,134.63 169.50,134.79 170.00,135.16 170.50,135.14 171.00,134.87 171.50,134.45 172.00,135.07 172.50,134.79 173.00,134.91 173.50,135.02 174.00,134.96 174.50,134.84 175.00,135.19 175.50,134.77 176.00,134.77 176.50,135.14 177.00,134.61 177.50,134.69 178.00,135.11 178.50,134.49 179.00,135.10 179.50,134.96 180.00,134.72 180.50,134.55 181.00,134.84 181.50,134.72 182.00,133.64 182.50,133.12 183.00,133.18 183.50,133.94 184.00,134.28 184.50,134.36 185.00,134.82 185.50,135.07 186.00,134.51 186.50,134.67 187.00,135.16 187.50,135.16 188.00,135.07 188.50,134.57 189.00,135.13 189.50,135.34 190.00,135.37 190.50,135.14 191.00,134.62 191.50,135.26 192.00,134.77 192.50,135.11 193.00,135.36 193.50,135.18 194.00,134.72 194.50,134.85 195.00,135.35 195.50,134.74 196.00,135.12 196.50,134.96 197.00,134.77 197.50,135.14 198.00,134.68 198.50,134.74 199.00,134.96 199.50,134.72 200.00,134.71 200.50,135.13 201.00,135.26 201.50,135.38 202.00,134.78 202.50,135.03 203.00,134.94 203.50,135.17 204.00,135.08 204.50,135.45 205.00,135.00 205.50,134.75 206.00,135.27 206.50,134.83 207.00,135.22 207.50,135.12 208.00,135.45 208.50,135.17 209.00,135.23 209.50,134.95 210.00,135.18 210.50,134.95 211.00,135.35 211.50,135.16 212.00,134.86 212.50,134.95 213.00,135.06 213.50,135.36 214.00,134.91 214.50,135.34 215.00,135.30 215.50,134.85 216.00,135.32 216.50,134.86 217.00,134.89 217.50,135.27" fill="none" stroke="#f0946a" stroke-width="1.05" stroke-linejoin="round"/>
<polyline points="17.50,124.97 18.00,124.99 18.50,124.72 19.00,124.54 19.50,124.34 20.00,124.87 20.50,124.71 21.00,124.94 21.50,124.63 22.00,124.94 22.50,124.54 23.00,124.96 23.50,124.90 24.00,124.64 24.50,124.73 25.00,124.83 25.50,124.43 26.00,124.71 26.50,124.90 27.00,124.45 27.50,124.87 28.00,124.75 28.50,124.86 29.00,124.44 29.50,124.22 30.00,124.76 30.50,124.74 31.00,124.43 31.50,124.12 32.00,124.17 32.50,124.49 33.00,124.18 33.50,124.67 34.00,124.35 34.50,124.00 35.00,124.32 35.50,124.04 36.00,124.46 36.50,124.39 37.00,124.03 37.50,124.09 38.00,124.08 38.50,124.12 39.00,124.20 39.50,123.39 40.00,123.60 40.50,123.74 41.00,123.44 41.50,123.61 42.00,123.16 42.50,123.73 43.00,123.39 43.50,123.00 44.00,123.37 44.50,123.03 45.00,122.87 45.50,123.04 46.00,122.70 46.50,122.69 47.00,123.15 47.50,122.94 48.00,122.32 48.50,122.86 49.00,122.17 49.50,122.34 50.00,122.70 50.50,122.37 51.00,122.00 51.50,121.92 52.00,121.77 52.50,121.36 53.00,121.82 53.50,120.75 54.00,120.65 54.50,120.40 55.00,119.44 55.50,119.03 56.00,117.36 56.50,116.75 57.00,115.67 57.50,115.10 58.00,115.72 58.50,116.42 59.00,117.98 59.50,119.08 60.00,119.78 60.50,120.47 61.00,121.22 61.50,121.43 62.00,121.52 62.50,122.33 63.00,122.19 63.50,122.57 64.00,122.98 64.50,122.65 65.00,122.67 65.50,122.88 66.00,123.37 66.50,123.30 67.00,123.32 67.50,123.58 68.00,124.06 68.50,123.61 69.00,123.82 69.50,124.28 70.00,124.15 70.50,123.95 71.00,124.20 71.50,124.28 72.00,124.08 72.50,124.34 73.00,124.35 73.50,124.81 74.00,124.49 74.50,124.82 75.00,125.13 75.50,125.15 76.00,124.76 76.50,124.99 77.00,124.81 77.50,124.91 78.00,125.01 78.50,125.25 79.00,125.32 79.50,124.59 80.00,123.67 80.50,124.06 81.00,124.52 81.50,124.79 82.00,125.52 82.50,125.06 83.00,125.60 83.50,125.36 84.00,125.86 84.50,125.82 85.00,125.22 85.50,125.35 86.00,125.98 86.50,125.73 87.00,125.60 87.50,125.91 88.00,125.95 88.50,125.71 89.00,125.71 89.50,125.43 90.00,125.65 90.50,125.48 91.00,125.87 91.50,125.85 92.00,125.48 92.50,125.84 93.00,125.35 93.50,125.18 94.00,125.08 94.50,124.04 95.00,125.29 95.50,125.62 96.00,125.85 96.50,125.47 97.00,126.06 97.50,125.47 98.00,125.89 98.50,126.11 99.00,126.07 99.50,125.99 100.00,125.55 100.50,125.58 101.00,125.38 101.50,124.33 102.00,123.83 102.50,120.81 103.00,112.78 103.50,113.06 104.00,120.47 104.50,123.34 105.00,124.85 105.50,124.88 106.00,125.76 106.50,126.08 107.00,125.65 107.50,126.25 108.00,125.62 108.50,126.29 109.00,125.86 109.50,126.44 110.00,126.04 110.50,126.45 111.00,125.75 111.50,125.81 112.00,126.41 112.50,126.28 113.00,126.21 113.50,125.81 114.00,125.93 114.50,126.09 115.00,125.84 115.50,126.59 116.00,126.41 116.50,126.55 117.00,126.33 117.50,126.02 118.00,125.77 118.50,126.23 119.00,125.62 119.50,125.77 120.00,125.30 120.50,124.40 121.00,121.77 121.50,119.05 122.00,122.14 122.50,124.06 123.00,125.40 123.50,125.52 124.00,125.84 124.50,125.87 125.00,126.28 125.50,126.20 126.00,126.11 126.50,126.14 127.00,126.44 127.50,126.74 128.00,126.37 128.50,126.18 129.00,126.32 129.50,126.27 130.00,126.55 130.50,126.73 131.00,126.57 131.50,126.27 132.00,126.39 132.50,126.45 133.00,126.50 133.50,126.48 134.00,126.96 134.50,126.61 135.00,126.71 135.50,126.76 136.00,126.70 136.50,126.83 137.00,126.48 137.50,126.70 138.00,126.91 138.50,126.15 139.00,126.16 139.50,125.38 140.00,125.73 140.50,126.08 141.00,126.78 141.50,126.33 142.00,126.84 142.50,126.37 143.00,126.60 143.50,126.35 144.00,126.77 144.50,126.97 145.00,126.53 145.50,126.81 146.00,127.11 146.50,126.62 147.00,126.77 147.50,126.98 148.00,127.10 148.50,126.55 149.00,126.95 149.50,126.53 150.00,126.53 150.50,127.23 151.00,126.50 151.50,127.20 152.00,127.07 152.50,127.02 153.00,127.07 153.50,127.02 154.00,126.73 154.50,126.87 155.00,126.68 155.50,127.22 156.00,127.16 156.50,127.17 157.00,126.72 157.50,127.03 158.00,126.77 158.50,127.21 159.00,127.18 159.50,127.39 160.00,127.16 160.50,127.15 161.00,127.24 161.50,126.70 162.00,127.11 162.50,126.66 163.00,126.94 163.50,126.75 164.00,127.42 164.50,126.69 165.00,127.41 165.50,127.44 166.00,127.04 166.50,127.36 167.00,126.75 167.50,126.82 168.00,126.73 168.50,126.78 169.00,126.74 169.50,127.41 170.00,126.82 170.50,127.23 171.00,126.98 171.50,126.88 172.00,127.11 172.50,126.93 173.00,127.57 173.50,127.10 174.00,127.28 174.50,127.26 175.00,127.31 175.50,127.20 176.00,127.04 176.50,126.93 177.00,127.54 177.50,126.98 178.00,127.18 178.50,127.46 179.00,127.26 179.50,127.54 180.00,127.39 180.50,127.08 181.00,126.64 181.50,126.75 182.00,126.07 182.50,125.39 183.00,125.14 183.50,126.27 184.00,126.96 184.50,126.97 185.00,127.42 185.50,127.55 186.00,127.01 186.50,127.65 187.00,127.64 187.50,127.65 188.00,127.26 188.50,127.21 189.00,127.13 189.50,127.33 190.00,127.73 190.50,127.35 191.00,127.07 191.50,127.32 192.00,127.15 192.50,127.59 193.00,127.72 193.50,127.85 194.00,127.19 194.50,127.43 195.00,127.24 195.50,127.88 196.00,127.83 196.50,127.58 197.00,127.94 197.50,127.60 198.00,127.81 198.50,127.59 199.00,127.50 199.50,128.01 200.00,127.89 200.50,127.70 201.00,127.93 201.50,127.76 202.00,127.89 202.50,127.31 203.00,127.37 203.50,127.36 204.00,127.77 204.50,127.87 205.00,127.42 205.50,127.71 206.00,127.41 206.50,127.87 207.00,127.96 207.50,127.41 208.00,128.13 208.50,127.89 209.00,127.46 209.50,127.65 210.00,127.51 210.50,127.97 211.00,128.13 211.50,127.54 212.00,127.56 212.50,127.92 213.00,128.11 213.50,128.03 214.00,127.81 214.50,127.54 215.00,127.95 215.50,127.83 216.00,128.12 216.50,127.94 217.00,128.08 217.50,128.27" fill="none" stroke="#d23a45" stroke-width="1.05" stroke-linejoin="round"/>
<polyline points="17.50,117.09 18.00,116.95 18.50,117.35 19.00,116.89 19.50,117.26 20.00,117.12 20.50,116.87 21.00,117.23 21.50,116.85 22.00,117.17 22.50,116.87 23.00,116.88 23.50,117.14 24.00,117.45 24.50,116.88 25.00,116.95 25.50,117.26 26.00,117.51 26.50,117.20 27.00,117.04 27.50,117.48 28.00,116.72 28.50,117.35 29.00,116.88 29.50,116.74 30.00,116.69 30.50,116.82 31.00,117.20 31.50,116.66 32.00,116.95 32.50,116.96 33.00,116.72 33.50,116.82 34.00,116.39 34.50,116.35 35.00,116.43 35.50,116.76 36.00,116.52 36.50,116.38 37.00,116.55 37.50,116.40 38.00,116.22 38.50,116.57 39.00,116.44 39.50,116.02 40.00,116.23 40.50,116.13 41.00,116.35 41.50,116.18 42.00,115.77 42.50,116.26 43.00,115.51 43.50,115.69 44.00,115.90 44.50,115.35 45.00,115.55 45.50,115.13 46.00,115.57 46.50,115.58 47.00,115.36 47.50,115.53 48.00,115.00 48.50,115.23 49.00,115.07 49.50,114.97 50.00,114.78 50.50,114.98 51.00,114.94 51.50,114.43 52.00,114.42 52.50,113.74 53.00,114.01 53.50,113.66 54.00,113.54 54.50,112.88 55.00,111.78 55.50,110.98 56.00,110.12 56.50,108.41 57.00,107.75 57.50,107.12 58.00,107.52 58.50,108.53 59.00,110.34 59.50,110.96 60.00,111.98 60.50,112.82 61.00,113.77 61.50,113.58 62.00,114.22 62.50,114.59 63.00,115.09 63.50,115.24 64.00,115.46 64.50,115.14 65.00,115.39 65.50,115.48 66.00,116.01 66.50,116.18 67.00,115.64 67.50,115.76 68.00,115.90 68.50,115.99 69.00,116.28 69.50,116.45 70.00,116.27 70.50,116.14 71.00,116.55 71.50,116.58 72.00,116.81 72.50,117.19 73.00,117.05 73.50,116.97 74.00,117.12 74.50,117.22 75.00,116.78 75.50,117.51 76.00,117.47 76.50,117.59 77.00,117.57 77.50,117.29 78.00,117.32 78.50,117.08 79.00,117.46 79.50,116.79 80.00,116.09 80.50,116.25 81.00,116.98 81.50,117.42 82.00,117.31 82.50,117.35 83.00,117.52 83.50,117.52 84.00,117.77 84.50,117.53 85.00,118.24 85.50,118.05 86.00,117.71 86.50,117.81 87.00,117.91 87.50,117.94 88.00,117.76 88.50,118.36 89.00,118.49 89.50,118.08 90.00,118.11 90.50,117.80 91.00,117.81 91.50,118.01 92.00,117.93 92.50,118.36 93.00,117.76 93.50,117.48 94.00,117.69 94.50,116.46 95.00,117.05 95.50,117.92 96.00,117.68 96.50,118.16 97.00,118.55 97.50,118.47 98.00,118.34 98.50,117.98 99.00,118.04 99.50,117.84 100.00,118.26 100.50,117.95 101.00,117.95 101.50,117.20 102.00,116.25 102.50,114.35 103.00,107.61 103.50,107.51 104.00,114.37 104.50,116.77 105.00,117.58 105.50,117.58 106.00,118.03 106.50,118.03 107.00,117.86 107.50,117.92 108.00,118.16 108.50,118.18 109.00,118.55 109.50,118.78 110.00,118.40 110.50,118.80 111.00,118.86 111.50,118.84 112.00,118.38 112.50,118.27 113.00,118.29 113.50,118.27 114.00,118.28 114.50,118.62 115.00,118.84 115.50,118.79 116.00,118.50 116.50,118.63 117.00,118.74 117.50,118.15 118.00,118.57 118.50,118.71 119.00,118.52 119.50,118.32 120.00,117.75 120.50,116.72 121.00,115.25 121.50,112.55 122.00,115.27 122.50,117.39 123.00,117.73 123.50,118.10 124.00,118.72 124.50,118.66 125.00,118.28 125.50,118.30 126.00,118.35 126.50,118.99 127.00,118.93 127.50,118.42 128.00,118.98 128.50,119.12 129.00,118.87 129.50,118.64 130.00,118.81 130.50,118.49 131.00,118.40 131.50,119.18 132.00,118.93 132.50,118.84 133.00,119.17 133.50,118.78 134.00,119.13 134.50,119.10 135.00,118.62 135.50,118.65 136.00,118.69 136.50,118.65 137.00,118.92 137.50,118.64 138.00,118.72 138.50,118.38 139.00,118.65 139.50,117.61 140.00,118.30 140.50,118.77 141.00,119.16 141.50,118.83 142.00,119.25 142.50,118.94 143.00,118.98 143.50,118.99 144.00,118.60 144.50,118.94 145.00,118.75 145.50,118.61 146.00,119.26 146.50,118.76 147.00,119.01 147.50,119.22 148.00,119.09 148.50,118.91 149.00,119.08 149.50,119.11 150.00,119.30 150.50,118.77 151.00,119.14 151.50,118.90 152.00,118.93 152.50,119.33 153.00,119.12 153.50,119.17 154.00,119.34 154.50,119.47 155.00,119.10 155.50,119.24 156.00,119.16 156.50,119.18 157.00,119.33 157.50,119.14 158.00,119.21 158.50,119.18 159.00,119.55 159.50,119.37 160.00,119.51 160.50,119.57 161.00,119.03 161.50,119.28 162.00,119.59 162.50,119.52 163.00,118.96 163.50,118.96 164.00,119.22 164.50,118.93 165.00,119.07 165.50,118.95 166.00,119.43 166.50,119.53 167.00,119.62 167.50,119.04 168.00,119.49 168.50,119.45 169.00,119.05 169.50,119.64 170.00,119.72 170.50,119.12 171.00,119.72 171.50,119.28 172.00,119.36 172.50,119.76 173.00,119.64 173.50,119.11 174.00,119.33 174.50,119.40 175.00,119.27 175.50,119.15 176.00,119.25 176.50,119.58 177.00,119.01 177.50,119.44 178.00,119.34 178.50,118.99 179.00,119.23 179.50,119.43 180.00,119.29 180.50,118.85 181.00,119.43 181.50,118.95 182.00,118.39 182.50,116.51 183.00,116.64 183.50,117.67 184.00,118.97 184.50,118.90 185.00,118.96 185.50,119.29 186.00,119.75 186.50,119.72 187.00,119.30 187.50,119.24 188.00,119.87 188.50,119.61 189.00,119.73 189.50,119.25 190.00,119.24 190.50,119.76 191.00,119.55 191.50,119.28 192.00,119.98 192.50,119.75 193.00,119.89 193.50,119.33 194.00,119.95 194.50,119.33 195.00,119.97 195.50,119.65 196.00,119.57 196.50,119.75 197.00,120.05 197.50,119.53 198.00,119.43 198.50,119.76 199.00,119.53 199.50,119.44 200.00,119.48 200.50,119.40 201.00,119.53 201.50,119.63 202.00,119.63 202.50,120.00 203.00,119.63 203.50,119.80 204.00,119.55 204.50,119.70 205.00,119.44 205.50,119.63 206.00,119.45 206.50,120.03 207.00,119.89 207.50,119.61 208.00,119.85 208.50,120.22 209.00,119.57 209.50,120.14 210.00,119.84 210.50,119.90 211.00,120.18 211.50,119.83 212.00,119.93 212.50,120.08 213.00,120.32 213.50,119.82 214.00,120.21 214.50,120.12 215.00,120.07 215.50,119.89 216.00,119.85 216.50,119.63 217.00,119.69 217.50,119.65" fill="none" stroke="#3f54a6" stroke-width="1.05" stroke-linejoin="round"/>
<polyline points="17.50,106.52 18.00,107.11 18.50,106.45 19.00,106.91 19.50,106.41 20.00,106.54 20.50,107.15 21.00,106.51 21.50,106.86 22.00,106.71 22.50,106.70 23.00,106.73 23.50,106.49 24.00,106.99 24.50,106.39 25.00,106.50 25.50,106.32 26.00,106.51 26.50,106.61 27.00,107.00 27.50,106.57 28.00,106.34 28.50,106.45 29.00,107.02 29.50,106.26 30.00,106.68 30.50,106.47 31.00,106.68 31.50,106.40 32.00,106.66 32.50,106.48 33.00,106.57 33.50,106.74 34.00,106.46 34.50,106.08 35.00,105.98 35.50,106.65 36.00,106.25 36.50,105.98 37.00,106.55 37.50,106.21 38.00,106.30 38.50,106.38 39.00,105.86 39.50,105.87 40.00,106.24 40.50,105.61 41.00,106.06 41.50,105.48 42.00,105.91 42.50,105.87 43.00,106.02 43.50,105.88 44.00,105.56 44.50,105.26 45.00,105.17 45.50,105.42 46.00,105.35 46.50,104.94 47.00,105.55 47.50,105.17 48.00,105.26 48.50,104.81 49.00,104.76 49.50,104.49 50.00,104.67 50.50,104.51 51.00,104.52 51.50,104.35 52.00,104.56 52.50,104.41 53.00,103.60 53.50,103.47 54.00,102.89 54.50,102.77 55.00,102.35 55.50,100.85 56.00,100.21 56.50,98.65 57.00,97.40 57.50,97.60 58.00,97.71 58.50,98.62 59.00,100.07 59.50,101.04 60.00,102.10 60.50,102.85 61.00,103.38 61.50,103.95 62.00,104.05 62.50,104.17 63.00,104.39 63.50,104.60 64.00,105.10 64.50,105.12 65.00,105.61 65.50,105.48 66.00,105.75 66.50,106.07 67.00,105.43 67.50,105.48 68.00,105.66 68.50,105.94 69.00,106.16 69.50,106.37 70.00,106.13 70.50,106.69 71.00,105.98 71.50,106.71 72.00,106.27 72.50,106.86 73.00,106.25 73.50,107.05 74.00,106.93 74.50,107.17 75.00,106.89 75.50,106.61 76.00,107.29 76.50,106.91 77.00,106.66 77.50,107.10 78.00,107.03 78.50,107.01 79.00,106.70 79.50,106.46 80.00,106.12 80.50,106.05 81.00,106.56 81.50,107.09 82.00,107.44 82.50,107.51 83.00,107.36 83.50,107.33 84.00,107.34 84.50,107.26 85.00,107.26 85.50,107.48 86.00,107.24 86.50,107.75 87.00,107.75 87.50,107.69 88.00,107.24 88.50,107.52 89.00,107.59 89.50,107.33 90.00,108.04 90.50,107.87 91.00,107.67 91.50,107.83 92.00,107.42 92.50,107.41 93.00,107.58 93.50,107.58 94.00,106.97 94.50,105.56 95.00,106.95 95.50,107.73 96.00,107.77 96.50,107.99 97.00,108.06 97.50,107.46 98.00,107.51 98.50,107.69 99.00,107.99 99.50,107.44 100.00,107.80 100.50,107.56 101.00,107.00 101.50,106.53 102.00,105.55 102.50,102.03 103.00,91.80 103.50,92.25 104.00,101.58 104.50,105.12 105.00,106.85 105.50,107.34 106.00,107.22 106.50,107.39 107.00,107.76 107.50,108.03 108.00,107.97 108.50,108.21 109.00,108.08 109.50,108.19 110.00,108.04 110.50,107.86 111.00,107.93 111.50,108.00 112.00,108.04 112.50,108.30 113.00,107.86 113.50,107.70 114.00,108.24 114.50,107.88 115.00,108.00 115.50,107.76 116.00,108.33 116.50,107.88 117.00,107.88 117.50,108.28 118.00,108.01 118.50,107.77 119.00,108.18 119.50,107.64 120.00,107.28 120.50,107.04 121.00,105.10 121.50,102.93 122.00,104.68 122.50,106.95 123.00,107.52 123.50,108.04 124.00,107.84 124.50,108.27 125.00,108.35 125.50,108.07 126.00,108.32 126.50,108.45 127.00,108.64 127.50,108.60 128.00,108.51 128.50,108.00 129.00,108.39 129.50,108.46 130.00,108.00 130.50,108.31 131.00,108.64 131.50,108.68 132.00,108.70 132.50,108.05 133.00,108.47 133.50,108.68 134.00,108.52 134.50,108.26 135.00,108.04 135.50,108.75 136.00,108.70 136.50,108.54 137.00,108.30 137.50,108.65 138.00,108.60 138.50,108.42 139.00,107.96 139.50,107.15 140.00,107.74 140.50,108.15 141.00,108.25 141.50,108.47 142.00,108.17 142.50,108.68 143.00,108.40 143.50,108.26 144.00,108.35 144.50,108.46 145.00,108.51 145.50,108.80 146.00,108.26 146.50,108.37 147.00,108.43 147.50,108.35 148.00,108.81 148.50,108.31 149.00,108.27 149.50,108.68 150.00,108.83 150.50,108.91 151.00,108.70 151.50,108.53 152.00,108.98 152.50,108.87 153.00,108.67 153.50,108.74 154.00,109.05 154.50,109.10 155.00,109.06 155.50,108.43 156.00,108.59 156.50,108.66 157.00,108.48 157.50,108.96 158.00,108.41 158.50,109.07 159.00,108.84 159.50,108.87 160.00,108.72 160.50,109.14 161.00,108.86 161.50,109.12 162.00,109.15 162.50,108.97 163.00,109.21 163.50,108.83 164.00,108.73 164.50,109.12 165.00,108.88 165.50,108.71 166.00,109.01 166.50,108.86 167.00,108.58 167.50,109.16 168.00,108.89 168.50,109.28 169.00,108.94 169.50,109.26 170.00,108.75 170.50,108.70 171.00,108.95 171.50,109.15 172.00,109.21 172.50,109.07 173.00,108.66 173.50,108.88 174.00,108.60 174.50,108.87 175.00,109.33 175.50,108.86 176.00,109.14 176.50,109.08 177.00,108.70 177.50,109.14 178.00,108.65 178.50,108.72 179.00,109.02 179.50,108.64 180.00,109.27 180.50,108.77 181.00,108.80 181.50,108.80 182.00,107.54 182.50,107.26 183.00,106.49 183.50,107.95 184.00,108.59 184.50,109.13 185.00,108.78 185.50,109.33 186.00,109.15 186.50,109.05 187.00,108.83 187.50,108.90 188.00,109.03 188.50,109.03 189.00,109.06 189.50,109.42 190.00,109.09 190.50,109.30 191.00,108.84 191.50,108.93 192.00,109.39 192.50,109.54 193.00,109.09 193.50,108.87 194.00,109.04 194.50,109.15 195.00,109.17 195.50,109.33 196.00,109.13 196.50,109.41 197.00,109.53 197.50,109.54 198.00,109.51 198.50,109.39 199.00,109.14 199.50,109.61 200.00,109.18 200.50,109.64 201.00,109.32 201.50,109.47 202.00,109.38 202.50,109.51 203.00,109.26 203.50,109.46 204.00,109.59 204.50,109.30 205.00,109.50 205.50,109.39 206.00,109.41 206.50,109.35 207.00,109.49 207.50,109.62 208.00,109.20 208.50,109.19 209.00,109.74 209.50,109.15 210.00,109.73 210.50,109.71 211.00,109.28 211.50,109.62 212.00,109.32 212.50,109.83 213.00,109.29 213.50,109.23 214.00,109.18 214.50,109.73 215.00,109.33 215.50,109.42 216.00,109.96 216.50,109.77 217.00,109.78 217.50,109.66" fill="none" stroke="#3a3a3a" stroke-width="1.05" stroke-linejoin="round"/>
<line x1="17.5" y1="84" x2="217" y2="84" stroke="#b4b4b4" stroke-width="0.75" stroke-dasharray="3,2.6"/>
<polygon points="57.50,27.30 58.27,29.14 60.26,29.30 58.74,30.60 59.20,32.55 57.50,31.50 55.80,32.55 56.26,30.60 54.74,29.30 56.73,29.14" fill="none" stroke="#3f54a6" stroke-width="0.8" stroke-linejoin="miter"/>
<polygon points="103.25,24.50 104.02,26.34 106.01,26.50 104.49,27.80 104.95,29.75 103.25,28.70 101.55,29.75 102.01,27.80 100.49,26.50 102.48,26.34" fill="none" stroke="#d23a45" stroke-width="0.8" stroke-linejoin="miter"/>
<polygon points="121.50,37.80 122.27,39.64 124.26,39.80 122.74,41.10 123.20,43.05 121.50,42.01 119.80,43.05 120.26,41.10 118.74,39.80 120.73,39.64" fill="none" stroke="#d23a45" stroke-width="0.8" stroke-linejoin="miter"/>
<polygon points="182.75,40.30 183.52,42.14 185.51,42.30 183.99,43.60 184.45,45.55 182.75,44.51 181.05,45.55 181.51,43.60 179.99,42.30 181.98,42.14" fill="none" stroke="#d23a45" stroke-width="0.8" stroke-linejoin="miter"/>
<polygon points="80.25,96.50 81.02,98.34 83.01,98.50 81.49,99.80 81.95,101.75 80.25,100.71 78.55,101.75 79.01,99.80 77.49,98.50 79.48,98.34" fill="none" stroke="#a58a7a" stroke-width="0.8" stroke-linejoin="miter"/>
<polygon points="94.50,96.50 95.27,98.34 97.26,98.50 95.74,99.80 96.20,101.75 94.50,100.71 92.80,101.75 93.26,99.80 91.74,98.50 93.73,98.34" fill="none" stroke="#a58a7a" stroke-width="0.8" stroke-linejoin="miter"/>
<polygon points="139.50,96.50 140.27,98.34 142.26,98.50 140.74,99.80 141.20,101.75 139.50,100.71 137.80,101.75 138.26,99.80 136.74,98.50 138.73,98.34" fill="none" stroke="#a58a7a" stroke-width="0.8" stroke-linejoin="miter"/>
<polygon points="24.60,8.20 25.34,9.98 27.26,10.13 25.80,11.39 26.25,13.27 24.60,12.26 22.95,13.27 23.40,11.39 21.94,10.13 23.86,9.98" fill="none" stroke="#d23a45" stroke-width="0.8" stroke-linejoin="miter"/>
<polygon points="24.60,19.00 25.34,20.78 27.26,20.93 25.80,22.19 26.25,24.07 24.60,23.06 22.95,24.07 23.40,22.19 21.94,20.93 23.86,20.78" fill="none" stroke="#3f54a6" stroke-width="0.8" stroke-linejoin="miter"/>
<polygon points="25.00,89.00 25.74,90.78 27.66,90.93 26.20,92.19 26.65,94.07 25.00,93.06 23.35,94.07 23.80,92.19 22.34,90.93 24.26,90.78" fill="none" stroke="#a58a7a" stroke-width="0.8" stroke-linejoin="miter"/>
<text x="31.9" y="13.2" font-size="8.75" fill="#222" font-family="Liberation Sans, sans-serif">NiCo alloy</text>
<text x="31.9" y="24.4" font-size="8.75" fill="#222" font-family="Liberation Sans, sans-serif">C</text>
<text x="31.6" y="94.9" font-size="8.75" fill="#222" font-family="Liberation Sans, sans-serif">MnO</text>
<line x1="89.9" y1="9.3" x2="101.8" y2="9.3" stroke="#f0946a" stroke-width="1"/>
<text x="103.7" y="12.8" font-size="8.7" fill="#222" font-family="Liberation Sans, sans-serif">LDPE</text>
<line x1="130.7" y1="9.3" x2="142.2" y2="9.3" stroke="#d23a45" stroke-width="1"/>
<text x="143.7" y="12.8" font-size="8.7" fill="#222" font-family="Liberation Sans, sans-serif">PP</text>
<line x1="157.9" y1="9.3" x2="172.7" y2="9.3" stroke="#3f54a6" stroke-width="1"/>
<text x="174.0" y="12.8" font-size="8.7" fill="#222" font-family="Liberation Sans, sans-serif">PC</text>
<line x1="191.4" y1="9.3" x2="204.2" y2="9.3" stroke="#555" stroke-width="1"/>
<text x="205.2" y="12.8" font-size="8.7" fill="#222" font-family="Liberation Sans, sans-serif">PS</text>
<text x="213.5" y="24.6" font-size="9.5" fill="#222" text-anchor="end" font-family="Liberation Sans, sans-serif">NCM811/Plastics/PET</text>
<text x="212.8" y="95.4" font-size="9.4" fill="#222" text-anchor="end" font-family="Liberation Sans, sans-serif">NCM622/Plastics/PET</text>
<rect x="17.5" y="5.5" width="199.5" height="133" fill="none" stroke="#555" stroke-width="1"/>
<line x1="17.50" y1="138.5" x2="17.50" y2="142" stroke="#333" stroke-width="0.9"/>
<line x1="42.50" y1="138.5" x2="42.50" y2="142" stroke="#333" stroke-width="0.9"/>
<line x1="67.50" y1="138.5" x2="67.50" y2="142" stroke="#333" stroke-width="0.9"/>
<line x1="92.50" y1="138.5" x2="92.50" y2="142" stroke="#333" stroke-width="0.9"/>
<line x1="117.50" y1="138.5" x2="117.50" y2="142" stroke="#333" stroke-width="0.9"/>
<line x1="142.50" y1="138.5" x2="142.50" y2="142" stroke="#333" stroke-width="0.9"/>
<line x1="167.50" y1="138.5" x2="167.50" y2="142" stroke="#333" stroke-width="0.9"/>
<line x1="192.50" y1="138.5" x2="192.50" y2="142" stroke="#333" stroke-width="0.9"/>
<line x1="217.50" y1="138.5" x2="217.50" y2="142" stroke="#333" stroke-width="0.9"/>
<text x="17.50" y="153.6" font-size="10" fill="#222" text-anchor="middle" font-family="Liberation Sans, sans-serif">10</text>
<text x="67.50" y="153.6" font-size="10" fill="#222" text-anchor="middle" font-family="Liberation Sans, sans-serif">30</text>
<text x="117.50" y="153.6" font-size="10" fill="#222" text-anchor="middle" font-family="Liberation Sans, sans-serif">50</text>
<text x="167.50" y="153.6" font-size="10" fill="#222" text-anchor="middle" font-family="Liberation Sans, sans-serif">70</text>
<text x="217.50" y="153.6" font-size="10" fill="#222" text-anchor="middle" font-family="Liberation Sans, sans-serif">90</text>
<text x="116.5" y="168" font-size="10.9" fill="#222" text-anchor="middle" font-family="Liberation Sans, sans-serif">2-theta (degree)</text>
<text transform="translate(9.6,72.9) rotate(-90)" x="0" y="0" font-size="10.9" fill="#222" text-anchor="middle" font-family="Liberation Sans, sans-serif">Intensity (arb.units)</text>
<text x="1.5" y="10.6" font-size="12" font-weight="bold" fill="#111" font-family="Liberation Sans, sans-serif">a</text>
<rect x="296.80" y="23.4" width="7.75" height="45.40" fill="#d7def0"/>
<rect x="296.80" y="72.8" width="7.75" height="65.70" fill="#d7def0"/>
<rect x="304.55" y="135.00" width="7.75" height="3.5" fill="#7f93cb"/>
<rect x="312.30" y="135.20" width="7.75" height="3.3" fill="#ebcfd4"/>
<rect x="320.05" y="135.20" width="7.75" height="3.3" fill="#f8dca2"/>
<line x1="300.68" y1="23.0" x2="300.68" y2="24.0" stroke="#1a2040" stroke-width="0.9"/>
<line x1="298.88" y1="23.0" x2="302.48" y2="23.0" stroke="#1a2040" stroke-width="0.9"/>
<line x1="298.88" y1="24.0" x2="302.48" y2="24.0" stroke="#1a2040" stroke-width="0.9"/>
<ellipse cx="300.68" cy="23.40" rx="1.6" ry="0.9" fill="#1a2040"/>
<rect x="345.70" y="39.0" width="7.75" height="29.80" fill="#d7def0"/>
<rect x="345.70" y="72.8" width="7.75" height="65.70" fill="#d7def0"/>
<rect x="353.45" y="135.10" width="7.75" height="3.4" fill="#7f93cb"/>
<rect x="361.20" y="135.20" width="7.75" height="3.3" fill="#ebcfd4"/>
<rect x="368.95" y="135.20" width="7.75" height="3.3" fill="#f8dca2"/>
<line x1="349.57" y1="35.9" x2="349.57" y2="41.5" stroke="#1a2040" stroke-width="0.9"/>
<line x1="347.77" y1="35.9" x2="351.38" y2="35.9" stroke="#1a2040" stroke-width="0.9"/>
<line x1="347.77" y1="41.5" x2="351.38" y2="41.5" stroke="#1a2040" stroke-width="0.9"/>
<ellipse cx="349.57" cy="39.00" rx="1.6" ry="0.9" fill="#1a2040"/>
<rect x="394.70" y="16.1" width="7.75" height="52.70" fill="#d7def0"/>
<rect x="394.70" y="72.8" width="7.75" height="65.70" fill="#d7def0"/>
<rect x="402.45" y="135.20" width="7.75" height="3.3" fill="#7f93cb"/>
<rect x="410.20" y="135.50" width="7.75" height="3.0" fill="#ebcfd4"/>
<rect x="417.95" y="135.50" width="7.75" height="3.0" fill="#f8dca2"/>
<line x1="398.57" y1="14.6" x2="398.57" y2="17.3" stroke="#1a2040" stroke-width="0.9"/>
<line x1="396.77" y1="14.6" x2="400.38" y2="14.6" stroke="#1a2040" stroke-width="0.9"/>
<line x1="396.77" y1="17.3" x2="400.38" y2="17.3" stroke="#1a2040" stroke-width="0.9"/>
<ellipse cx="398.57" cy="16.10" rx="1.6" ry="0.9" fill="#1a2040"/>
<rect x="443.70" y="31.6" width="7.75" height="37.20" fill="#d7def0"/>
<rect x="443.70" y="72.8" width="7.75" height="65.70" fill="#d7def0"/>
<rect x="451.45" y="135.10" width="7.75" height="3.4" fill="#7f93cb"/>
<rect x="459.20" y="135.50" width="7.75" height="3.0" fill="#ebcfd4"/>
<rect x="466.95" y="135.50" width="7.75" height="3.0" fill="#f8dca2"/>
<line x1="447.57" y1="29.3" x2="447.57" y2="33.0" stroke="#1a2040" stroke-width="0.9"/>
<line x1="445.77" y1="29.3" x2="449.38" y2="29.3" stroke="#1a2040" stroke-width="0.9"/>
<line x1="445.77" y1="33.0" x2="449.38" y2="33.0" stroke="#1a2040" stroke-width="0.9"/>
<ellipse cx="447.57" cy="31.60" rx="1.6" ry="0.9" fill="#1a2040"/>
<rect x="492.70" y="12.9" width="7.75" height="55.90" fill="#d7def0"/>
<rect x="492.70" y="72.8" width="7.75" height="65.70" fill="#d7def0"/>
<rect x="500.45" y="135.10" width="7.75" height="3.4" fill="#7f93cb"/>
<rect x="508.20" y="135.50" width="7.75" height="3.0" fill="#ebcfd4"/>
<rect x="515.95" y="135.50" width="7.75" height="3.0" fill="#f8dca2"/>
<line x1="496.57" y1="9.9" x2="496.57" y2="15.4" stroke="#1a2040" stroke-width="0.9"/>
<line x1="494.77" y1="9.9" x2="498.38" y2="9.9" stroke="#1a2040" stroke-width="0.9"/>
<line x1="494.77" y1="15.4" x2="498.38" y2="15.4" stroke="#1a2040" stroke-width="0.9"/>
<ellipse cx="496.57" cy="12.90" rx="1.6" ry="0.9" fill="#1a2040"/>
<rect x="541.70" y="10.7" width="7.75" height="58.10" fill="#d7def0"/>
<rect x="541.70" y="72.8" width="7.75" height="65.70" fill="#d7def0"/>
<rect x="549.45" y="135.10" width="7.75" height="3.4" fill="#7f93cb"/>
<rect x="557.20" y="135.10" width="7.75" height="3.4" fill="#ebcfd4"/>
<rect x="564.95" y="128.80" width="7.75" height="9.7" fill="#f8dca2"/>
<line x1="545.58" y1="8.8" x2="545.58" y2="12.9" stroke="#1a2040" stroke-width="0.9"/>
<line x1="543.78" y1="8.8" x2="547.38" y2="8.8" stroke="#1a2040" stroke-width="0.9"/>
<line x1="543.78" y1="12.9" x2="547.38" y2="12.9" stroke="#1a2040" stroke-width="0.9"/>
<ellipse cx="545.58" cy="10.70" rx="1.6" ry="0.9" fill="#1a2040"/>
<rect x="590.70" y="11.1" width="7.75" height="57.70" fill="#d7def0"/>
<rect x="590.70" y="72.8" width="7.75" height="65.70" fill="#d7def0"/>
<rect x="598.45" y="136.00" width="7.75" height="2.5" fill="#7f93cb"/>
<rect x="606.20" y="136.00" width="7.75" height="2.5" fill="#ebcfd4"/>
<rect x="613.95" y="136.00" width="7.75" height="2.5" fill="#f8dca2"/>
<line x1="594.58" y1="7.2" x2="594.58" y2="13.4" stroke="#1a2040" stroke-width="0.9"/>
<line x1="592.78" y1="7.2" x2="596.38" y2="7.2" stroke="#1a2040" stroke-width="0.9"/>
<line x1="592.78" y1="13.4" x2="596.38" y2="13.4" stroke="#1a2040" stroke-width="0.9"/>
<ellipse cx="594.58" cy="11.10" rx="1.6" ry="0.9" fill="#1a2040"/>
<rect x="639.70" y="10.7" width="7.75" height="58.10" fill="#d7def0"/>
<rect x="639.70" y="72.8" width="7.75" height="65.70" fill="#d7def0"/>
<rect x="647.45" y="136.00" width="7.75" height="2.5" fill="#7f93cb"/>
<rect x="655.20" y="136.20" width="7.75" height="2.3" fill="#ebcfd4"/>
<rect x="662.95" y="136.20" width="7.75" height="2.3" fill="#f8dca2"/>
<line x1="643.58" y1="9.3" x2="643.58" y2="11.7" stroke="#1a2040" stroke-width="0.9"/>
<line x1="641.78" y1="9.3" x2="645.38" y2="9.3" stroke="#1a2040" stroke-width="0.9"/>
<line x1="641.78" y1="11.7" x2="645.38" y2="11.7" stroke="#1a2040" stroke-width="0.9"/>
<ellipse cx="643.58" cy="10.70" rx="1.6" ry="0.9" fill="#1a2040"/>
<line x1="485.3" y1="5.5" x2="485.3" y2="138.5" stroke="#999" stroke-width="0.8" stroke-dasharray="2,2"/>
<line x1="278.5" y1="5.5" x2="681" y2="5.5" stroke="#777" stroke-width="1"/>
<line x1="681" y1="5.5" x2="681" y2="138.5" stroke="#777" stroke-width="1"/>
<line x1="278" y1="138.6" x2="681" y2="138.6" stroke="#8a8a8a" stroke-width="1.1"/>
<line x1="278.5" y1="5.5" x2="278.5" y2="69.8" stroke="#333" stroke-width="0.9"/>
<line x1="278.5" y1="72.6" x2="278.5" y2="139" stroke="#333" stroke-width="0.9"/>
<line x1="275.2" y1="72.6" x2="281.6" y2="69.2" stroke="#333" stroke-width="0.8"/>
<line x1="275.2" y1="74.6" x2="281.6" y2="71.2" stroke="#333" stroke-width="0.8"/>
<line x1="275.2" y1="11.80" x2="278.5" y2="11.80" stroke="#333" stroke-width="0.9"/>
<text x="274" y="15.40" font-size="10" fill="#222" text-anchor="end" font-family="Liberation Sans, sans-serif">100</text>
<line x1="275.2" y1="38.10" x2="278.5" y2="38.10" stroke="#333" stroke-width="0.9"/>
<text x="274" y="41.70" font-size="10" fill="#222" text-anchor="end" font-family="Liberation Sans, sans-serif">90</text>
<line x1="275.2" y1="64.40" x2="278.5" y2="64.40" stroke="#333" stroke-width="0.9"/>
<text x="274" y="68.00" font-size="10" fill="#222" text-anchor="end" font-family="Liberation Sans, sans-serif">80</text>
<line x1="275.2" y1="86.00" x2="278.5" y2="86.00" stroke="#333" stroke-width="0.9"/>
<text x="274" y="89.60" font-size="10" fill="#222" text-anchor="end" font-family="Liberation Sans, sans-serif">0.04</text>
<line x1="275.2" y1="112.25" x2="278.5" y2="112.25" stroke="#333" stroke-width="0.9"/>
<text x="274" y="115.85" font-size="10" fill="#222" text-anchor="end" font-family="Liberation Sans, sans-serif">0.02</text>
<line x1="275.2" y1="138.50" x2="278.5" y2="138.50" stroke="#333" stroke-width="0.9"/>
<text x="274" y="142.10" font-size="10" fill="#222" text-anchor="end" font-family="Liberation Sans, sans-serif">0.00</text>
<line x1="312.3" y1="138.5" x2="312.3" y2="142.6" stroke="#333" stroke-width="0.9"/>
<line x1="361.2" y1="138.5" x2="361.2" y2="142.6" stroke="#333" stroke-width="0.9"/>
<line x1="410.2" y1="138.5" x2="410.2" y2="142.6" stroke="#333" stroke-width="0.9"/>
<line x1="459.2" y1="138.5" x2="459.2" y2="142.6" stroke="#333" stroke-width="0.9"/>
<line x1="508.2" y1="138.5" x2="508.2" y2="142.6" stroke="#333" stroke-width="0.9"/>
<line x1="557.2" y1="138.5" x2="557.2" y2="142.6" stroke="#333" stroke-width="0.9"/>
<line x1="606.2" y1="138.5" x2="606.2" y2="142.6" stroke="#333" stroke-width="0.9"/>
<line x1="655.2" y1="138.5" x2="655.2" y2="142.6" stroke="#333" stroke-width="0.9"/>
<text x="314.3" y="154.2" font-size="10.4" fill="#222" text-anchor="middle" font-family="Liberation Sans, sans-serif">LDPE</text>
<text x="363.2" y="154.2" font-size="10.4" fill="#222" text-anchor="middle" font-family="Liberation Sans, sans-serif">PP</text>
<text x="412.2" y="154.2" font-size="10.4" fill="#222" text-anchor="middle" font-family="Liberation Sans, sans-serif">PC</text>
<text x="461.2" y="154.2" font-size="10.4" fill="#222" text-anchor="middle" font-family="Liberation Sans, sans-serif">PS</text>
<text x="510.2" y="154.2" font-size="10.4" fill="#222" text-anchor="middle" font-family="Liberation Sans, sans-serif">LDPE</text>
<text x="559.2" y="154.2" font-size="10.4" fill="#222" text-anchor="middle" font-family="Liberation Sans, sans-serif">PP</text>
<text x="608.2" y="154.2" font-size="10.4" fill="#222" text-anchor="middle" font-family="Liberation Sans, sans-serif">PC</text>
<text x="657.2" y="154.2" font-size="10.4" fill="#222" text-anchor="middle" font-family="Liberation Sans, sans-serif">PS</text>
<text x="389.3" y="168.2" font-size="10.9" fill="#222" text-anchor="middle" font-family="Liberation Sans, sans-serif">NCM811/Plastics/PET</text>
<text x="585" y="168.2" font-size="10.9" fill="#222" text-anchor="middle" font-family="Liberation Sans, sans-serif">NCM622/Plastics/PET</text>
<text transform="translate(246.2,73.3) rotate(-90)" font-size="10.9" fill="#222" text-anchor="middle" font-family="Liberation Sans, sans-serif">Leaching efficiency (%)</text>
<text x="238.5" y="11" font-size="12" font-weight="bold" fill="#111" font-family="Liberation Sans, sans-serif">b</text>
<rect x="656.1" y="10.2" width="7.9" height="5.2" fill="#d7def0"/>
<text x="666.8" y="15.5" font-size="9" fill="#222" font-family="Liberation Sans, sans-serif">Li</text>
<rect x="656.1" y="20.2" width="7.9" height="5.2" fill="#7f93cb"/>
<text x="666.8" y="25.5" font-size="9" fill="#222" font-family="Liberation Sans, sans-serif">Ni</text>
<rect x="656.1" y="30.2" width="7.9" height="5.2" fill="#ebcfd4"/>
<text x="666.8" y="35.5" font-size="9" fill="#222" font-family="Liberation Sans, sans-serif">Co</text>
<rect x="656.1" y="40.2" width="7.9" height="5.2" fill="#f8dca2"/>
<text x="666.8" y="45.5" font-size="9" fill="#222" font-family="Liberation Sans, sans-serif">Mn</text>
<g clip-path="url(#cpc)">
<g filter="url(#bf)">
<rect x="-15.0" y="174.7" width="41.3" height="44.4" fill="#5c5c5c"/>
<rect x="25.8" y="174.7" width="26.3" height="44.4" fill="#616161"/>
<rect x="51.6" y="174.7" width="26.3" height="44.4" fill="#4e4e4e"/>
<rect x="77.4" y="174.7" width="26.3" height="44.4" fill="#565656"/>
<rect x="103.2" y="174.7" width="26.3" height="44.4" fill="#707070"/>
<rect x="129.0" y="174.7" width="41.3" height="44.4" fill="#3e3e3e"/>
<rect x="-15.0" y="218.6" width="41.3" height="29.4" fill="#616161"/>
<rect x="25.8" y="218.6" width="26.3" height="29.4" fill="#676767"/>
<rect x="51.6" y="218.6" width="26.3" height="29.4" fill="#737373"/>
<rect x="77.4" y="218.6" width="26.3" height="29.4" fill="#575757"/>
<rect x="103.2" y="218.6" width="26.3" height="29.4" fill="#6e6e6e"/>
<rect x="129.0" y="218.6" width="41.3" height="29.4" fill="#3f3f3f"/>
<rect x="-15.0" y="247.5" width="41.3" height="29.4" fill="#626262"/>
<rect x="25.8" y="247.5" width="26.3" height="29.4" fill="#5a5a5a"/>
<rect x="51.6" y="247.5" width="26.3" height="29.4" fill="#6c6c6c"/>
<rect x="77.4" y="247.5" width="26.3" height="29.4" fill="#555555"/>
<rect x="103.2" y="247.5" width="26.3" height="29.4" fill="#4b4b4b"/>
<rect x="129.0" y="247.5" width="41.3" height="29.4" fill="#282828"/>
<rect x="-15.0" y="276.4" width="41.3" height="44.4" fill="#797979"/>
<rect x="25.8" y="276.4" width="26.3" height="44.4" fill="#636363"/>
<rect x="51.6" y="276.4" width="26.3" height="44.4" fill="#505050"/>
<rect x="77.4" y="276.4" width="26.3" height="44.4" fill="#666666"/>
<rect x="103.2" y="276.4" width="26.3" height="44.4" fill="#474747"/>
<rect x="129.0" y="276.4" width="41.3" height="44.4" fill="#2d2d2d"/>
</g>
<polygon points="143,228 156,228 156,250 143,250" fill="#464646" filter="url(#fb3)"/>
<polygon points="139,262 156,262 156,288 139,288" fill="#4b4b4b" filter="url(#fb3)"/>
<rect x="0" y="189.7" width="154.80" height="115.60" filter="url(#txc)" style="mix-blend-mode:overlay" opacity="0.35"/>
<g filter="url(#bw)" fill="none" stroke-linecap="round" style="mix-blend-mode:overlay" opacity="0.72">
<use href="#wc0" stroke="#000" stroke-width="3.8" opacity="0.38" transform="translate(0.9,1)"/>
<use href="#wc1" stroke="#000" stroke-width="4.5" opacity="0.38" transform="translate(0.9,1)"/>
<use href="#wc2" stroke="#000" stroke-width="5.3" opacity="0.38" transform="translate(0.9,1)"/>
<use href="#pc0" stroke="#000" stroke-width="3.3" opacity="0.38" transform="translate(0.9,1)"/>
<use href="#pc1" stroke="#000" stroke-width="4.3" opacity="0.38" transform="translate(0.9,1)"/>
<use href="#wc0" stroke="#d8d8d8" stroke-width="2.5"/>
<use href="#wc1" stroke="#d8d8d8" stroke-width="3.2"/>
<use href="#wc2" stroke="#d8d8d8" stroke-width="4.0"/>
<use href="#pc0" stroke="#d8d8d8" stroke-width="2.0"/>
<use href="#pc1" stroke="#d8d8d8" stroke-width="3.0"/>
<use href="#wc0" stroke="#fff" stroke-width="0.9" opacity="0.7" transform="translate(-0.4,-0.5)"/>
<use href="#wc1" stroke="#fff" stroke-width="1.1" opacity="0.7" transform="translate(-0.4,-0.5)"/>
<use href="#wc2" stroke="#fff" stroke-width="1.4" opacity="0.7" transform="translate(-0.4,-0.5)"/>
<use href="#pc0" stroke="#fff" stroke-width="0.7" opacity="0.7" transform="translate(-0.4,-0.5)"/>
<use href="#pc1" stroke="#fff" stroke-width="1.0" opacity="0.7" transform="translate(-0.4,-0.5)"/>
</g>
<g filter="url(#bw)" fill="none" stroke-linecap="round">
<path d="M90,188 C91,210 92,235 94,246 C100,252 110,257 118,261 S126,270 128,280 S127,298 125,306" stroke="#222" stroke-width="6.6" opacity="0.45" transform="translate(0.9,1)"/>
<path d="M90,188 C91,210 92,235 94,246 C100,252 110,257 118,261 S126,270 128,280 S127,298 125,306" stroke="#b4b4b4" stroke-width="5"/>
<path d="M90,188 C91,210 92,235 94,246 C100,252 110,257 118,261 S126,270 128,280 S127,298 125,306" stroke="#d4d4d4" stroke-width="2.0" transform="translate(-0.5,-0.5)"/>
<path d="M77,252 C85,250 95,248 105,249 S115,252 120,254 S135,252 145,253 S152,254 156,254" stroke="#222" stroke-width="6.6" opacity="0.45" transform="translate(0.9,1)"/>
<path d="M77,252 C85,250 95,248 105,249 S115,252 120,254 S135,252 145,253 S152,254 156,254" stroke="#b4b4b4" stroke-width="5"/>
<path d="M77,252 C85,250 95,248 105,249 S115,252 120,254 S135,252 145,253 S152,254 156,254" stroke="#d4d4d4" stroke-width="2.0" transform="translate(-0.5,-0.5)"/>
<path d="M18,290 C22,282 28,272 36,264 S40,258 42,256" stroke="#222" stroke-width="8.6" opacity="0.45" transform="translate(0.9,1)"/>
<path d="M18,290 C22,282 28,272 36,264 S40,258 42,256" stroke="#b4b4b4" stroke-width="7"/>
<path d="M18,290 C22,282 28,272 36,264 S40,258 42,256" stroke="#d4d4d4" stroke-width="2.8" transform="translate(-0.5,-0.5)"/>
<path d="M28,290 C32,282 36,274 37,264" stroke="#222" stroke-width="6.6" opacity="0.45" transform="translate(0.9,1)"/>
<path d="M28,290 C32,282 36,274 37,264" stroke="#b4b4b4" stroke-width="5"/>
<path d="M28,290 C32,282 36,274 37,264" stroke="#d4d4d4" stroke-width="2.0" transform="translate(-0.5,-0.5)"/>
<path d="M46,283 C48,288 50,295 53,306" stroke="#222" stroke-width="7.6" opacity="0.45" transform="translate(0.9,1)"/>
<path d="M46,283 C48,288 50,295 53,306" stroke="#b4b4b4" stroke-width="6"/>
<path d="M46,283 C48,288 50,295 53,306" stroke="#d4d4d4" stroke-width="2.4" transform="translate(-0.5,-0.5)"/>
<path d="M50,286 C54,290 58,295 67,306" stroke="#222" stroke-width="7.6" opacity="0.45" transform="translate(0.9,1)"/>
<path d="M50,286 C54,290 58,295 67,306" stroke="#b4b4b4" stroke-width="6"/>
<path d="M50,286 C54,290 58,295 67,306" stroke="#d4d4d4" stroke-width="2.4" transform="translate(-0.5,-0.5)"/>
<path d="M62,256 C67,254 72,253 78,252" stroke="#222" stroke-width="6.6" opacity="0.45" transform="translate(0.9,1)"/>
<path d="M62,256 C67,254 72,253 78,252" stroke="#b4b4b4" stroke-width="5"/>
<path d="M62,256 C67,254 72,253 78,252" stroke="#d4d4d4" stroke-width="2.0" transform="translate(-0.5,-0.5)"/>
<path d="M130,260 C131,257 134,254 142,252" stroke="#222" stroke-width="5.6" opacity="0.45" transform="translate(0.9,1)"/>
<path d="M130,260 C131,257 134,254 142,252" stroke="#b4b4b4" stroke-width="4"/>
<path d="M130,260 C131,257 134,254 142,252" stroke="#d4d4d4" stroke-width="1.6" transform="translate(-0.5,-0.5)"/>
<path d="M128,288 C133,290 140,294 156,299" stroke="#222" stroke-width="6.6" opacity="0.45" transform="translate(0.9,1)"/>
<path d="M128,288 C133,290 140,294 156,299" stroke="#b4b4b4" stroke-width="5"/>
<path d="M128,288 C133,290 140,294 156,299" stroke="#d4d4d4" stroke-width="2.0" transform="translate(-0.5,-0.5)"/>
<path d="M83,271 C86,265 91,261 99,258" stroke="#222" stroke-width="6.6" opacity="0.45" transform="translate(0.9,1)"/>
<path d="M83,271 C86,265 91,261 99,258" stroke="#b4b4b4" stroke-width="5"/>
<path d="M83,271 C86,265 91,261 99,258" stroke="#d4d4d4" stroke-width="2.0" transform="translate(-0.5,-0.5)"/>
<path d="M130,206 C134,212 138,218 142,223 S148,226 153,227" stroke="#222" stroke-width="6.1" opacity="0.45" transform="translate(0.9,1)"/>
<path d="M130,206 C134,212 138,218 142,223 S148,226 153,227" stroke="#b4b4b4" stroke-width="4.5"/>
<path d="M130,206 C134,212 138,218 142,223 S148,226 153,227" stroke="#d4d4d4" stroke-width="1.8" transform="translate(-0.5,-0.5)"/>
<path d="M133,206 C140,205 146,210 150,218 S150,226 146,229" stroke="#222" stroke-width="5.6" opacity="0.45" transform="translate(0.9,1)"/>
<path d="M133,206 C140,205 146,210 150,218 S150,226 146,229" stroke="#b4b4b4" stroke-width="4"/>
<path d="M133,206 C140,205 146,210 150,218 S150,226 146,229" stroke="#d4d4d4" stroke-width="1.6" transform="translate(-0.5,-0.5)"/>
<path d="M48,243 C55,238 65,232 76,227" stroke="#222" stroke-width="5.6" opacity="0.45" transform="translate(0.9,1)"/>
<path d="M48,243 C55,238 65,232 76,227" stroke="#b4b4b4" stroke-width="4"/>
<path d="M48,243 C55,238 65,232 76,227" stroke="#d4d4d4" stroke-width="1.6" transform="translate(-0.5,-0.5)"/>
</g>
<circle cx="69.7" cy="239.4" r="2.5" fill="#eeeeee" stroke="#c04545" stroke-width="0.85" stroke-opacity="0.9"/>
<circle cx="116.1" cy="229" r="2.5" fill="#a8a8a8" stroke="#c04545" stroke-width="0.85" stroke-opacity="0.9"/>
<circle cx="121.6" cy="248.1" r="2.5" fill="#a8a8a8" stroke="#c04545" stroke-width="0.85" stroke-opacity="0.9"/>
<circle cx="133.3" cy="261.2" r="2.5" fill="#eeeeee" stroke="#c04545" stroke-width="0.85" stroke-opacity="0.9"/>
<circle cx="79.8" cy="263.1" r="2.5" fill="#a8a8a8" stroke="#c04545" stroke-width="0.85" stroke-opacity="0.9"/>
<circle cx="110.1" cy="274.3" r="2.5" fill="#a8a8a8" stroke="#c04545" stroke-width="0.85" stroke-opacity="0.9"/>
<circle cx="132" cy="284.2" r="2.5" fill="#eeeeee" stroke="#c04545" stroke-width="0.85" stroke-opacity="0.9"/>
<circle cx="52.7" cy="302.2" r="2.5" fill="#eeeeee" stroke="#c04545" stroke-width="0.85" stroke-opacity="0.9"/>
</g>
<text x="1.4" y="200.7" font-size="14.3" font-weight="bold" fill="#fff" font-family="Liberation Sans, sans-serif">c</text>
<text x="19.7" y="201.8" font-size="10.9" fill="#f4f4f4" stroke="#000" stroke-opacity="0.22" stroke-width="1.5" paint-order="stroke" font-family="Liberation Sans, sans-serif">NCM811/LDPE/PET</text>
<text x="19.7" y="217.2" font-size="10.85" fill="#f4f4f4" stroke="#000" stroke-opacity="0.22" stroke-width="1.5" paint-order="stroke" font-family="Liberation Sans, sans-serif">d=44.04±17.74 nm</text>
<rect x="7.0" y="297.2" width="34.2" height="1.9" fill="#fff"/>
<g clip-path="url(#cpd)">
<g filter="url(#bf)">
<rect x="161.1" y="173.3" width="41.3" height="44.5" fill="#4e4e4e"/>
<rect x="201.9" y="173.3" width="26.3" height="44.5" fill="#4d4d4d"/>
<rect x="227.7" y="173.3" width="26.3" height="44.5" fill="#484848"/>
<rect x="253.4" y="173.3" width="26.3" height="44.5" fill="#4a4a4a"/>
<rect x="279.2" y="173.3" width="26.3" height="44.5" fill="#323232"/>
<rect x="305.0" y="173.3" width="41.3" height="44.5" fill="#282828"/>
<rect x="161.1" y="217.3" width="41.3" height="29.5" fill="#696969"/>
<rect x="201.9" y="217.3" width="26.3" height="29.5" fill="#696969"/>
<rect x="227.7" y="217.3" width="26.3" height="29.5" fill="#494949"/>
<rect x="253.4" y="217.3" width="26.3" height="29.5" fill="#686868"/>
<rect x="279.2" y="217.3" width="26.3" height="29.5" fill="#555555"/>
<rect x="305.0" y="217.3" width="41.3" height="29.5" fill="#5f5f5f"/>
<rect x="161.1" y="246.2" width="41.3" height="29.5" fill="#5f5f5f"/>
<rect x="201.9" y="246.2" width="26.3" height="29.5" fill="#767676"/>
<rect x="227.7" y="246.2" width="26.3" height="29.5" fill="#535353"/>
<rect x="253.4" y="246.2" width="26.3" height="29.5" fill="#626262"/>
<rect x="279.2" y="246.2" width="26.3" height="29.5" fill="#555555"/>
<rect x="305.0" y="246.2" width="41.3" height="29.5" fill="#646464"/>
<rect x="161.1" y="275.2" width="41.3" height="44.5" fill="#626262"/>
<rect x="201.9" y="275.2" width="26.3" height="44.5" fill="#565656"/>
<rect x="227.7" y="275.2" width="26.3" height="44.5" fill="#525252"/>
<rect x="253.4" y="275.2" width="26.3" height="44.5" fill="#545454"/>
<rect x="279.2" y="275.2" width="26.3" height="44.5" fill="#595959"/>
<rect x="305.0" y="275.2" width="41.3" height="44.5" fill="#5f5f5f"/>
</g>
<polygon points="180,218 200,212 222,218 226,240 218,262 205,272 186,266 178,250" fill="#919191" filter="url(#fb3)"/>
<polygon points="286,236 305,226 330,230 331,290 318,292 300,276 288,258" fill="#919191" filter="url(#fb3)"/>
<polygon points="240,190 300,190 330,196 330,212 300,220 262,214 240,205" fill="#585858" filter="url(#fb4)"/>
<rect x="176.1" y="188.3" width="154.70" height="115.90" filter="url(#txd)" style="mix-blend-mode:overlay" opacity="0.35"/>
<g filter="url(#bw)" fill="none" stroke-linecap="round" style="mix-blend-mode:overlay" opacity="0.72">
<use href="#wd0" stroke="#000" stroke-width="4.3" opacity="0.38" transform="translate(0.9,1)"/>
<use href="#wd1" stroke="#000" stroke-width="5.0" opacity="0.38" transform="translate(0.9,1)"/>
<use href="#wd2" stroke="#000" stroke-width="5.8" opacity="0.38" transform="translate(0.9,1)"/>
<use href="#pd0" stroke="#000" stroke-width="3.3" opacity="0.38" transform="translate(0.9,1)"/>
<use href="#pd1" stroke="#000" stroke-width="4.5" opacity="0.38" transform="translate(0.9,1)"/>
<use href="#wd0" stroke="#d8d8d8" stroke-width="3.0"/>
<use href="#wd1" stroke="#d8d8d8" stroke-width="3.8"/>
<use href="#wd2" stroke="#d8d8d8" stroke-width="4.5"/>
<use href="#pd0" stroke="#d8d8d8" stroke-width="2.0"/>
<use href="#pd1" stroke="#d8d8d8" stroke-width="3.2"/>
<use href="#wd0" stroke="#fff" stroke-width="1.0" opacity="0.7" transform="translate(-0.4,-0.5)"/>
<use href="#wd1" stroke="#fff" stroke-width="1.3" opacity="0.7" transform="translate(-0.4,-0.5)"/>
<use href="#wd2" stroke="#fff" stroke-width="1.6" opacity="0.7" transform="translate(-0.4,-0.5)"/>
<use href="#pd0" stroke="#fff" stroke-width="0.7" opacity="0.7" transform="translate(-0.4,-0.5)"/>
<use href="#pd1" stroke="#fff" stroke-width="1.1" opacity="0.7" transform="translate(-0.4,-0.5)"/>
</g>
<circle cx="183.7" cy="206.6" r="2.5" fill="#a8a8a8" stroke="#c04545" stroke-width="0.85" stroke-opacity="0.9"/>
<circle cx="314.8" cy="203.6" r="2.5" fill="#a8a8a8" stroke="#c04545" stroke-width="0.85" stroke-opacity="0.9"/>
<circle cx="321.1" cy="222.1" r="2.5" fill="#a8a8a8" stroke="#c04545" stroke-width="0.85" stroke-opacity="0.9"/>
<circle cx="227.4" cy="229" r="2.5" fill="#a8a8a8" stroke="#c04545" stroke-width="0.85" stroke-opacity="0.9"/>
<circle cx="237.3" cy="229.5" r="2.5" fill="#a8a8a8" stroke="#c04545" stroke-width="0.85" stroke-opacity="0.9"/>
<circle cx="182.4" cy="242.1" r="2.5" fill="#a8a8a8" stroke="#c04545" stroke-width="0.85" stroke-opacity="0.9"/>
<circle cx="193.6" cy="243.4" r="2.5" fill="#a8a8a8" stroke="#c04545" stroke-width="0.85" stroke-opacity="0.9"/>
<circle cx="231" cy="251.4" r="2.5" fill="#a8a8a8" stroke="#c04545" stroke-width="0.85" stroke-opacity="0.9"/>
<circle cx="281.5" cy="253" r="2.5" fill="#a8a8a8" stroke="#c04545" stroke-width="0.85" stroke-opacity="0.9"/>
<circle cx="289.1" cy="260.4" r="2.5" fill="#a8a8a8" stroke="#c04545" stroke-width="0.85" stroke-opacity="0.9"/>
<circle cx="311.5" cy="262.3" r="2.5" fill="#a8a8a8" stroke="#c04545" stroke-width="0.85" stroke-opacity="0.9"/>
<circle cx="328.5" cy="280.8" r="2.5" fill="#a8a8a8" stroke="#c04545" stroke-width="0.85" stroke-opacity="0.9"/>
<circle cx="231.8" cy="283" r="2.5" fill="#eeeeee" stroke="#c04545" stroke-width="0.85" stroke-opacity="0.9"/>
</g>
<text x="179.4" y="200.7" font-size="14.3" font-weight="bold" fill="#fff" font-family="Liberation Sans, sans-serif">d</text>
<text x="200.3" y="201.8" font-size="10.9" fill="#f4f4f4" stroke="#000" stroke-opacity="0.22" stroke-width="1.5" paint-order="stroke" font-family="Liberation Sans, sans-serif">NCM811/PP/PET</text>
<text x="200.3" y="217.2" font-size="10.85" fill="#f4f4f4" stroke="#000" stroke-opacity="0.22" stroke-width="1.5" paint-order="stroke" font-family="Liberation Sans, sans-serif">d=36.91±17.43 nm</text>
<rect x="185.5" y="297.2" width="34.2" height="1.9" fill="#fff"/>
<g clip-path="url(#cpe)">
<g filter="url(#bf)">
<rect x="337.8" y="173.5" width="41.2" height="44.3" fill="#373737"/>
<rect x="378.5" y="173.5" width="26.2" height="44.3" fill="#2b2b2b"/>
<rect x="404.2" y="173.5" width="26.2" height="44.3" fill="#2d2d2d"/>
<rect x="429.9" y="173.5" width="26.2" height="44.3" fill="#565656"/>
<rect x="455.6" y="173.5" width="26.2" height="44.3" fill="#373737"/>
<rect x="481.3" y="173.5" width="41.2" height="44.3" fill="#545454"/>
<rect x="337.8" y="217.3" width="41.2" height="29.3" fill="#414141"/>
<rect x="378.5" y="217.3" width="26.2" height="29.3" fill="#323232"/>
<rect x="404.2" y="217.3" width="26.2" height="29.3" fill="#3c3c3c"/>
<rect x="429.9" y="217.3" width="26.2" height="29.3" fill="#444444"/>
<rect x="455.6" y="217.3" width="26.2" height="29.3" fill="#515151"/>
<rect x="481.3" y="217.3" width="41.2" height="29.3" fill="#454545"/>
<rect x="337.8" y="246.2" width="41.2" height="29.3" fill="#4f4f4f"/>
<rect x="378.5" y="246.2" width="26.2" height="29.3" fill="#525252"/>
<rect x="404.2" y="246.2" width="26.2" height="29.3" fill="#6d6d6d"/>
<rect x="429.9" y="246.2" width="26.2" height="29.3" fill="#555555"/>
<rect x="455.6" y="246.2" width="26.2" height="29.3" fill="#5a5a5a"/>
<rect x="481.3" y="246.2" width="41.2" height="29.3" fill="#464646"/>
<rect x="337.8" y="275.0" width="41.2" height="44.3" fill="#666666"/>
<rect x="378.5" y="275.0" width="26.2" height="44.3" fill="#414141"/>
<rect x="404.2" y="275.0" width="26.2" height="44.3" fill="#5c5c5c"/>
<rect x="429.9" y="275.0" width="26.2" height="44.3" fill="#535353"/>
<rect x="455.6" y="275.0" width="26.2" height="44.3" fill="#4d4d4d"/>
<rect x="481.3" y="275.0" width="41.2" height="44.3" fill="#464646"/>
</g>
<polygon points="353,190 420,190 420,215 380,222 353,220" fill="#505050" filter="url(#fb4)"/>
<polygon points="352,222 371,222 371,241 352,241" fill="#969696" filter="url(#fb2)"/>
<polygon points="384,272 405,272 405,301 384,301" fill="#919191" filter="url(#fb2)"/>
<polygon points="468,251 491,251 491,274 468,274" fill="#969696" filter="url(#fb2)"/>
<polygon points="451,205 465,205 465,216 451,216" fill="#919191" filter="url(#fb2)"/>
<polygon points="480,293 494,293 494,301 480,301" fill="#a0a0a0" filter="url(#fb2)"/>
<rect x="352.8" y="188.5" width="154.20" height="115.30" filter="url(#txe)" style="mix-blend-mode:overlay" opacity="0.35"/>
<g filter="url(#bw)" fill="none" stroke-linecap="round" style="mix-blend-mode:overlay" opacity="0.72">
<use href="#we0" stroke="#000" stroke-width="4.3" opacity="0.38" transform="translate(0.9,1)"/>
<use href="#we1" stroke="#000" stroke-width="5.3" opacity="0.38" transform="translate(0.9,1)"/>
<use href="#we2" stroke="#000" stroke-width="6.3" opacity="0.38" transform="translate(0.9,1)"/>
<use href="#pe0" stroke="#000" stroke-width="3.3" opacity="0.38" transform="translate(0.9,1)"/>
<use href="#pe1" stroke="#000" stroke-width="4.3" opacity="0.38" transform="translate(0.9,1)"/>
<use href="#we0" stroke="#d8d8d8" stroke-width="3.0"/>
<use href="#we1" stroke="#d8d8d8" stroke-width="4.0"/>
<use href="#we2" stroke="#d8d8d8" stroke-width="5.0"/>
<use href="#pe0" stroke="#d8d8d8" stroke-width="2.0"/>
<use href="#pe1" stroke="#d8d8d8" stroke-width="3.0"/>
<use href="#we0" stroke="#fff" stroke-width="1.0" opacity="0.7" transform="translate(-0.4,-0.5)"/>
<use href="#we1" stroke="#fff" stroke-width="1.4" opacity="0.7" transform="translate(-0.4,-0.5)"/>
<use href="#we2" stroke="#fff" stroke-width="1.8" opacity="0.7" transform="translate(-0.4,-0.5)"/>
<use href="#pe0" stroke="#fff" stroke-width="0.7" opacity="0.7" transform="translate(-0.4,-0.5)"/>
<use href="#pe1" stroke="#fff" stroke-width="1.0" opacity="0.7" transform="translate(-0.4,-0.5)"/>
</g>
<g filter="url(#bw)" fill="none" stroke-linecap="round">
<path d="M373,188 C378,205 386,220 396,234 S420,255 435,262 S455,270 462,272" stroke="#222" stroke-width="6.1" opacity="0.45" transform="translate(0.9,1)"/>
<path d="M373,188 C378,205 386,220 396,234 S420,255 435,262 S455,270 462,272" stroke="#b4b4b4" stroke-width="4.5"/>
<path d="M373,188 C378,205 386,220 396,234 S420,255 435,262 S455,270 462,272" stroke="#d4d4d4" stroke-width="1.8" transform="translate(-0.5,-0.5)"/>
<path d="M421,188 C422,200 424,215 430,227" stroke="#222" stroke-width="6.1" opacity="0.45" transform="translate(0.9,1)"/>
<path d="M421,188 C422,200 424,215 430,227" stroke="#b4b4b4" stroke-width="4.5"/>
<path d="M421,188 C422,200 424,215 430,227" stroke="#d4d4d4" stroke-width="1.8" transform="translate(-0.5,-0.5)"/>
<path d="M394,230 C405,229 418,228 430,228" stroke="#222" stroke-width="6.6" opacity="0.45" transform="translate(0.9,1)"/>
<path d="M394,230 C405,229 418,228 430,228" stroke="#b4b4b4" stroke-width="5"/>
<path d="M394,230 C405,229 418,228 430,228" stroke="#d4d4d4" stroke-width="2.0" transform="translate(-0.5,-0.5)"/>
<path d="M468,188 C467,210 465,230 460,248 S449,270 448,285 S446,300 446,306" stroke="#222" stroke-width="7.1" opacity="0.45" transform="translate(0.9,1)"/>
<path d="M468,188 C467,210 465,230 460,248 S449,270 448,285 S446,300 446,306" stroke="#b4b4b4" stroke-width="5.5"/>
<path d="M468,188 C467,210 465,230 460,248 S449,270 448,285 S446,300 446,306" stroke="#d4d4d4" stroke-width="2.2" transform="translate(-0.5,-0.5)"/>
<path d="M429,224 C440,230 455,234 470,235 S490,238 501,244" stroke="#222" stroke-width="6.6" opacity="0.45" transform="translate(0.9,1)"/>
<path d="M429,224 C440,230 455,234 470,235 S490,238 501,244" stroke="#b4b4b4" stroke-width="5"/>
<path d="M429,224 C440,230 455,234 470,235 S490,238 501,244" stroke="#d4d4d4" stroke-width="2.0" transform="translate(-0.5,-0.5)"/>
<path d="M507,220 C500,230 496,240 495,250 S494,275 493,306" stroke="#222" stroke-width="7.1" opacity="0.45" transform="translate(0.9,1)"/>
<path d="M507,220 C500,230 496,240 495,250 S494,275 493,306" stroke="#b4b4b4" stroke-width="5.5"/>
<path d="M507,220 C500,230 496,240 495,250 S494,275 493,306" stroke="#d4d4d4" stroke-width="2.2" transform="translate(-0.5,-0.5)"/>
<path d="M475,270 C475,282 475,295 475,306" stroke="#222" stroke-width="9.6" opacity="0.45" transform="translate(0.9,1)"/>
<path d="M475,270 C475,282 475,295 475,306" stroke="#b4b4b4" stroke-width="8"/>
<path d="M475,270 C475,282 475,295 475,306" stroke="#d4d4d4" stroke-width="3.2" transform="translate(-0.5,-0.5)"/>
<path d="M353,188 L355,222" stroke="#222" stroke-width="6.6" opacity="0.45" transform="translate(0.9,1)"/>
<path d="M353,188 L355,222" stroke="#b4b4b4" stroke-width="5"/>
<path d="M353,188 L355,222" stroke="#d4d4d4" stroke-width="2.0" transform="translate(-0.5,-0.5)"/>
<path d="M387,254 C395,255 402,256 408,257" stroke="#222" stroke-width="5.6" opacity="0.45" transform="translate(0.9,1)"/>
<path d="M387,254 C395,255 402,256 408,257" stroke="#b4b4b4" stroke-width="4"/>
<path d="M387,254 C395,255 402,256 408,257" stroke="#d4d4d4" stroke-width="1.6" transform="translate(-0.5,-0.5)"/>
<path d="M443,250 C450,252 457,254 464,257" stroke="#222" stroke-width="5.6" opacity="0.45" transform="translate(0.9,1)"/>
<path d="M443,250 C450,252 457,254 464,257" stroke="#b4b4b4" stroke-width="4"/>
<path d="M443,250 C450,252 457,254 464,257" stroke="#d4d4d4" stroke-width="1.6" transform="translate(-0.5,-0.5)"/>
</g>
<circle cx="491.8" cy="216.1" r="2.5" fill="#eeeeee" stroke="#c04545" stroke-width="0.85" stroke-opacity="0.9"/>
<circle cx="421.1" cy="233.9" r="2.5" fill="#a8a8a8" stroke="#c04545" stroke-width="0.85" stroke-opacity="0.9"/>
<circle cx="433.1" cy="235" r="2.5" fill="#eeeeee" stroke="#c04545" stroke-width="0.85" stroke-opacity="0.9"/>
<circle cx="412.6" cy="255.2" r="2.5" fill="#eeeeee" stroke="#c04545" stroke-width="0.85" stroke-opacity="0.9"/>
<circle cx="417.5" cy="263.4" r="2.5" fill="#eeeeee" stroke="#c04545" stroke-width="0.85" stroke-opacity="0.9"/>
<circle cx="397.1" cy="274.3" r="2.5" fill="#eeeeee" stroke="#c04545" stroke-width="0.85" stroke-opacity="0.9"/>
<circle cx="494.5" cy="278.7" r="2.5" fill="#a8a8a8" stroke="#c04545" stroke-width="0.85" stroke-opacity="0.9"/>
<circle cx="462" cy="288.5" r="2.5" fill="#eeeeee" stroke="#c04545" stroke-width="0.85" stroke-opacity="0.9"/>
</g>
<text x="355.4" y="200.7" font-size="14.3" font-weight="bold" fill="#fff" font-family="Liberation Sans, sans-serif">e</text>
<text x="370.6" y="201.8" font-size="10.9" fill="#f4f4f4" stroke="#000" stroke-opacity="0.22" stroke-width="1.5" paint-order="stroke" font-family="Liberation Sans, sans-serif">NCM811/PC/PET</text>
<text x="370.6" y="217.2" font-size="10.85" fill="#f4f4f4" stroke="#000" stroke-opacity="0.22" stroke-width="1.5" paint-order="stroke" font-family="Liberation Sans, sans-serif">d=65.46±26.95 nm</text>
<rect x="362.0" y="297.2" width="34.2" height="1.9" fill="#fff"/>
<g clip-path="url(#cpf)">
<g filter="url(#bf)">
<rect x="515.0" y="173.7" width="41.3" height="44.3" fill="#434343"/>
<rect x="555.8" y="173.7" width="26.3" height="44.3" fill="#3c3c3c"/>
<rect x="581.7" y="173.7" width="26.3" height="44.3" fill="#4c4c4c"/>
<rect x="607.5" y="173.7" width="26.3" height="44.3" fill="#474747"/>
<rect x="633.3" y="173.7" width="26.3" height="44.3" fill="#565656"/>
<rect x="659.2" y="173.7" width="41.3" height="44.3" fill="#585858"/>
<rect x="515.0" y="217.5" width="41.3" height="29.3" fill="#525252"/>
<rect x="555.8" y="217.5" width="26.3" height="29.3" fill="#464646"/>
<rect x="581.7" y="217.5" width="26.3" height="29.3" fill="#5c5c5c"/>
<rect x="607.5" y="217.5" width="26.3" height="29.3" fill="#6e6e6e"/>
<rect x="633.3" y="217.5" width="26.3" height="29.3" fill="#696969"/>
<rect x="659.2" y="217.5" width="41.3" height="29.3" fill="#686868"/>
<rect x="515.0" y="246.3" width="41.3" height="29.3" fill="#606060"/>
<rect x="555.8" y="246.3" width="26.3" height="29.3" fill="#4b4b4b"/>
<rect x="581.7" y="246.3" width="26.3" height="29.3" fill="#4b4b4b"/>
<rect x="607.5" y="246.3" width="26.3" height="29.3" fill="#868686"/>
<rect x="633.3" y="246.3" width="26.3" height="29.3" fill="#6e6e6e"/>
<rect x="659.2" y="246.3" width="41.3" height="29.3" fill="#838383"/>
<rect x="515.0" y="275.2" width="41.3" height="44.3" fill="#575757"/>
<rect x="555.8" y="275.2" width="26.3" height="44.3" fill="#6f6f6f"/>
<rect x="581.7" y="275.2" width="26.3" height="44.3" fill="#5e5e5e"/>
<rect x="607.5" y="275.2" width="26.3" height="44.3" fill="#5b5b5b"/>
<rect x="633.3" y="275.2" width="26.3" height="44.3" fill="#5f5f5f"/>
<rect x="659.2" y="275.2" width="41.3" height="44.3" fill="#676767"/>
</g>
<polygon points="628,213 650,208 670,214 672,248 650,250 628,246" fill="#969696" filter="url(#fb3)"/>
<polygon points="621,253 640,250 658,256 656,288 635,290 621,282" fill="#969696" filter="url(#fb3)"/>
<polygon points="660,281 672,278 684,282 684,301 662,301" fill="#969696" filter="url(#fb3)"/>
<polygon points="607,258 624,258 626,290 607,290" fill="#555555" filter="url(#fb3)"/>
<polygon points="530,189 600,189 590,205 555,212 530,214" fill="#5f5f5f" filter="url(#fb4)"/>
<rect x="530" y="188.7" width="155.00" height="115.30" filter="url(#txf)" style="mix-blend-mode:overlay" opacity="0.35"/>
<g filter="url(#bw)" fill="none" stroke-linecap="round" style="mix-blend-mode:overlay" opacity="0.72">
<use href="#wf0" stroke="#000" stroke-width="4.3" opacity="0.38" transform="translate(0.9,1)"/>
<use href="#wf1" stroke="#000" stroke-width="5.0" opacity="0.38" transform="translate(0.9,1)"/>
<use href="#wf2" stroke="#000" stroke-width="5.8" opacity="0.38" transform="translate(0.9,1)"/>
<use href="#pf0" stroke="#000" stroke-width="3.8" opacity="0.38" transform="translate(0.9,1)"/>
<use href="#pf1" stroke="#000" stroke-width="4.8" opacity="0.38" transform="translate(0.9,1)"/>
<use href="#wf0" stroke="#d8d8d8" stroke-width="3.0"/>
<use href="#wf1" stroke="#d8d8d8" stroke-width="3.8"/>
<use href="#wf2" stroke="#d8d8d8" stroke-width="4.5"/>
<use href="#pf0" stroke="#d8d8d8" stroke-width="2.5"/>
<use href="#pf1" stroke="#d8d8d8" stroke-width="3.5"/>
<use href="#wf0" stroke="#fff" stroke-width="1.0" opacity="0.7" transform="translate(-0.4,-0.5)"/>
<use href="#wf1" stroke="#fff" stroke-width="1.3" opacity="0.7" transform="translate(-0.4,-0.5)"/>
<use href="#wf2" stroke="#fff" stroke-width="1.6" opacity="0.7" transform="translate(-0.4,-0.5)"/>
<use href="#pf0" stroke="#fff" stroke-width="0.9" opacity="0.7" transform="translate(-0.4,-0.5)"/>
<use href="#pf1" stroke="#fff" stroke-width="1.2" opacity="0.7" transform="translate(-0.4,-0.5)"/>
</g>
<g filter="url(#bw)" fill="none" stroke-linecap="round">
<path d="M529,216 C550,211 575,204 600,201 S630,196 642,196 C652,197 660,201 666,206 S678,220 685,232" stroke="#222" stroke-width="6.1" opacity="0.45" transform="translate(0.9,1)"/>
<path d="M529,216 C550,211 575,204 600,201 S630,196 642,196 C652,197 660,201 666,206 S678,220 685,232" stroke="#b4b4b4" stroke-width="4.5"/>
<path d="M529,216 C550,211 575,204 600,201 S630,196 642,196 C652,197 660,201 666,206 S678,220 685,232" stroke="#d4d4d4" stroke-width="1.8" transform="translate(-0.5,-0.5)"/>
<path d="M535,248 C538,238 545,228 550,224 S560,220 578,219" stroke="#222" stroke-width="6.1" opacity="0.45" transform="translate(0.9,1)"/>
<path d="M535,248 C538,238 545,228 550,224 S560,220 578,219" stroke="#b4b4b4" stroke-width="4.5"/>
<path d="M535,248 C538,238 545,228 550,224 S560,220 578,219" stroke="#d4d4d4" stroke-width="1.8" transform="translate(-0.5,-0.5)"/>
<path d="M546,248 C549,238 555,230 561,227 S568,223 571,223" stroke="#222" stroke-width="5.6" opacity="0.45" transform="translate(0.9,1)"/>
<path d="M546,248 C549,238 555,230 561,227 S568,223 571,223" stroke="#b4b4b4" stroke-width="4"/>
<path d="M546,248 C549,238 555,230 561,227 S568,223 571,223" stroke="#d4d4d4" stroke-width="1.6" transform="translate(-0.5,-0.5)"/>
<path d="M604,223 C600,232 598,240 597,248" stroke="#222" stroke-width="6.1" opacity="0.45" transform="translate(0.9,1)"/>
<path d="M604,223 C600,232 598,240 597,248" stroke="#b4b4b4" stroke-width="4.5"/>
<path d="M604,223 C600,232 598,240 597,248" stroke="#d4d4d4" stroke-width="1.8" transform="translate(-0.5,-0.5)"/>
<path d="M533,246 C535,255 540,265 541,274 S540,288 536,306" stroke="#222" stroke-width="7.1" opacity="0.45" transform="translate(0.9,1)"/>
<path d="M533,246 C535,255 540,265 541,274 S540,288 536,306" stroke="#b4b4b4" stroke-width="5.5"/>
<path d="M533,246 C535,255 540,265 541,274 S540,288 536,306" stroke="#d4d4d4" stroke-width="2.2" transform="translate(-0.5,-0.5)"/>
<path d="M537,281 C540,285 544,292 547,306" stroke="#222" stroke-width="5.6" opacity="0.45" transform="translate(0.9,1)"/>
<path d="M537,281 C540,285 544,292 547,306" stroke="#b4b4b4" stroke-width="4"/>
<path d="M537,281 C540,285 544,292 547,306" stroke="#d4d4d4" stroke-width="1.6" transform="translate(-0.5,-0.5)"/>
<path d="M557,229 C560,236 565,246 573,257 S586,273 590,278 S600,288 607,292 S625,299 635,305" stroke="#222" stroke-width="7.1" opacity="0.45" transform="translate(0.9,1)"/>
<path d="M557,229 C560,236 565,246 573,257 S586,273 590,278 S600,288 607,292 S625,299 635,305" stroke="#b4b4b4" stroke-width="5.5"/>
<path d="M557,229 C560,236 565,246 573,257 S586,273 590,278 S600,288 607,292 S625,299 635,305" stroke="#d4d4d4" stroke-width="2.2" transform="translate(-0.5,-0.5)"/>
<path d="M544,267 C550,262 556,259 561,257" stroke="#222" stroke-width="5.6" opacity="0.45" transform="translate(0.9,1)"/>
<path d="M544,267 C550,262 556,259 561,257" stroke="#b4b4b4" stroke-width="4"/>
<path d="M544,267 C550,262 556,259 561,257" stroke="#d4d4d4" stroke-width="1.6" transform="translate(-0.5,-0.5)"/>
<path d="M559,274 C568,273 580,274 590,276" stroke="#222" stroke-width="7.6" opacity="0.45" transform="translate(0.9,1)"/>
<path d="M559,274 C568,273 580,274 590,276" stroke="#b4b4b4" stroke-width="6"/>
<path d="M559,274 C568,273 580,274 590,276" stroke="#d4d4d4" stroke-width="2.4" transform="translate(-0.5,-0.5)"/>
<path d="M587,246 C589,256 592,265 597,270 S602,273 604,274" stroke="#222" stroke-width="5.6" opacity="0.45" transform="translate(0.9,1)"/>
<path d="M587,246 C589,256 592,265 597,270 S602,273 604,274" stroke="#b4b4b4" stroke-width="4"/>
<path d="M587,246 C589,256 592,265 597,270 S602,273 604,274" stroke="#d4d4d4" stroke-width="1.6" transform="translate(-0.5,-0.5)"/>
<path d="M596,246 C599,252 602,257 607,260" stroke="#222" stroke-width="5.6" opacity="0.45" transform="translate(0.9,1)"/>
<path d="M596,246 C599,252 602,257 607,260" stroke="#b4b4b4" stroke-width="4"/>
<path d="M596,246 C599,252 602,257 607,260" stroke="#d4d4d4" stroke-width="1.6" transform="translate(-0.5,-0.5)"/>
<path d="M668,188 C671,200 675,212 678,222 S682,232 685,236" stroke="#222" stroke-width="5.6" opacity="0.45" transform="translate(0.9,1)"/>
<path d="M668,188 C671,200 675,212 678,222 S682,232 685,236" stroke="#b4b4b4" stroke-width="4"/>
<path d="M668,188 C671,200 675,212 678,222 S682,232 685,236" stroke="#d4d4d4" stroke-width="1.6" transform="translate(-0.5,-0.5)"/>
<path d="M635,306 C636,298 640,290 648,281 S662,276 676,275 S682,276 685,277" stroke="#222" stroke-width="7.1" opacity="0.45" transform="translate(0.9,1)"/>
<path d="M635,306 C636,298 640,290 648,281 S662,276 676,275 S682,276 685,277" stroke="#b4b4b4" stroke-width="5.5"/>
<path d="M635,306 C636,298 640,290 648,281 S662,276 676,275 S682,276 685,277" stroke="#d4d4d4" stroke-width="2.2" transform="translate(-0.5,-0.5)"/>
<path d="M665,260 C667,270 669,280 671,288" stroke="#222" stroke-width="5.6" opacity="0.45" transform="translate(0.9,1)"/>
<path d="M665,260 C667,270 669,280 671,288" stroke="#b4b4b4" stroke-width="4"/>
<path d="M665,260 C667,270 669,280 671,288" stroke="#d4d4d4" stroke-width="1.6" transform="translate(-0.5,-0.5)"/>
</g>
<circle cx="571.3" cy="221.6" r="2.5" fill="#a8a8a8" stroke="#c04545" stroke-width="0.85" stroke-opacity="0.9"/>
<circle cx="587.2" cy="229.8" r="2.5" fill="#a8a8a8" stroke="#c04545" stroke-width="0.85" stroke-opacity="0.9"/>
<circle cx="652" cy="208.5" r="2.5" fill="#eeeeee" stroke="#c04545" stroke-width="0.85" stroke-opacity="0.9"/>
<circle cx="641.8" cy="226.5" r="2.5" fill="#eeeeee" stroke="#c04545" stroke-width="0.85" stroke-opacity="0.9"/>
<circle cx="653.3" cy="225.2" r="2.5" fill="#eeeeee" stroke="#c04545" stroke-width="0.85" stroke-opacity="0.9"/>
<circle cx="659.6" cy="226.3" r="2.5" fill="#eeeeee" stroke="#c04545" stroke-width="0.85" stroke-opacity="0.9"/>
<circle cx="633.6" cy="240.7" r="2.5" fill="#eeeeee" stroke="#c04545" stroke-width="0.85" stroke-opacity="0.9"/>
<circle cx="647" cy="243.2" r="2.5" fill="#eeeeee" stroke="#c04545" stroke-width="0.85" stroke-opacity="0.9"/>
<circle cx="600.6" cy="247.8" r="2.5" fill="#a8a8a8" stroke="#c04545" stroke-width="0.85" stroke-opacity="0.9"/>
<circle cx="614.5" cy="253.6" r="2.5" fill="#eeeeee" stroke="#c04545" stroke-width="0.85" stroke-opacity="0.9"/>
<circle cx="662.3" cy="259.9" r="2.5" fill="#eeeeee" stroke="#c04545" stroke-width="0.85" stroke-opacity="0.9"/>
<circle cx="660.7" cy="264.5" r="2.5" fill="#a8a8a8" stroke="#c04545" stroke-width="0.85" stroke-opacity="0.9"/>
<circle cx="555.8" cy="293.2" r="2.5" fill="#a8a8a8" stroke="#c04545" stroke-width="0.85" stroke-opacity="0.9"/>
<circle cx="592.4" cy="291.3" r="2.5" fill="#eeeeee" stroke="#c04545" stroke-width="0.85" stroke-opacity="0.9"/>
</g>
<text x="532.4" y="200.7" font-size="14.3" font-weight="bold" fill="#fff" font-family="Liberation Sans, sans-serif">f</text>
<text x="549.3" y="201.8" font-size="10.9" fill="#f4f4f4" stroke="#000" stroke-opacity="0.22" stroke-width="1.5" paint-order="stroke" font-family="Liberation Sans, sans-serif">NCM811/PS/PET</text>
<text x="549.3" y="217.2" font-size="10.85" fill="#f4f4f4" stroke="#000" stroke-opacity="0.22" stroke-width="1.5" paint-order="stroke" font-family="Liberation Sans, sans-serif">d=54.49±26.13 nm</text>
<rect x="540.0" y="297.2" width="34.2" height="1.9" fill="#fff"/>
<g clip-path="url(#cpg)">
<g filter="url(#bf)">
<rect x="-15.0" y="301.0" width="41.3" height="44.5" fill="#717171"/>
<rect x="25.8" y="301.0" width="26.3" height="44.5" fill="#686868"/>
<rect x="51.6" y="301.0" width="26.3" height="44.5" fill="#606060"/>
<rect x="77.4" y="301.0" width="26.3" height="44.5" fill="#727272"/>
<rect x="103.2" y="301.0" width="26.3" height="44.5" fill="#737373"/>
<rect x="129.0" y="301.0" width="41.3" height="44.5" fill="#979797"/>
<rect x="-15.0" y="345.0" width="41.3" height="29.5" fill="#969696"/>
<rect x="25.8" y="345.0" width="26.3" height="29.5" fill="#616161"/>
<rect x="51.6" y="345.0" width="26.3" height="29.5" fill="#717171"/>
<rect x="77.4" y="345.0" width="26.3" height="29.5" fill="#717171"/>
<rect x="103.2" y="345.0" width="26.3" height="29.5" fill="#8a8a8a"/>
<rect x="129.0" y="345.0" width="41.3" height="29.5" fill="#8e8e8e"/>
<rect x="-15.0" y="374.0" width="41.3" height="29.5" fill="#777777"/>
<rect x="25.8" y="374.0" width="26.3" height="29.5" fill="#575757"/>
<rect x="51.6" y="374.0" width="26.3" height="29.5" fill="#6a6a6a"/>
<rect x="77.4" y="374.0" width="26.3" height="29.5" fill="#7c7c7c"/>
<rect x="103.2" y="374.0" width="26.3" height="29.5" fill="#8a8a8a"/>
<rect x="129.0" y="374.0" width="41.3" height="29.5" fill="#808080"/>
<rect x="-15.0" y="403.0" width="41.3" height="44.5" fill="#737373"/>
<rect x="25.8" y="403.0" width="26.3" height="44.5" fill="#666666"/>
<rect x="51.6" y="403.0" width="26.3" height="44.5" fill="#828282"/>
<rect x="77.4" y="403.0" width="26.3" height="44.5" fill="#686868"/>
<rect x="103.2" y="403.0" width="26.3" height="44.5" fill="#5f5f5f"/>
<rect x="129.0" y="403.0" width="41.3" height="44.5" fill="#808080"/>
</g>
<polygon points="8,346 28,340 44,372 48,398 36,402 22,380 10,366" fill="#464646" filter="url(#fb3)"/>
<polygon points="100,328 130,322 155,324 155,378 128,380 106,366" fill="#a0a0a0" filter="url(#fb4)"/>
<polygon points="100,400 155,392 155,432 100,432" fill="#919191" filter="url(#fb4)"/>
<rect x="0" y="316" width="154.80" height="116.00" filter="url(#txg)" style="mix-blend-mode:overlay" opacity="0.35"/>
<g filter="url(#bw)" fill="none" stroke-linecap="round" style="mix-blend-mode:overlay" opacity="0.72">
<use href="#wg0" stroke="#000" stroke-width="4.3" opacity="0.38" transform="translate(0.9,1)"/>
<use href="#wg1" stroke="#000" stroke-width="5.3" opacity="0.38" transform="translate(0.9,1)"/>
<use href="#wg2" stroke="#000" stroke-width="6.3" opacity="0.38" transform="translate(0.9,1)"/>
<use href="#pg0" stroke="#000" stroke-width="3.1" opacity="0.38" transform="translate(0.9,1)"/>
<use href="#pg1" stroke="#000" stroke-width="4.3" opacity="0.38" transform="translate(0.9,1)"/>
<use href="#wg0" stroke="#d8d8d8" stroke-width="3.0"/>
<use href="#wg1" stroke="#d8d8d8" stroke-width="4.0"/>
<use href="#wg2" stroke="#d8d8d8" stroke-width="5.0"/>
<use href="#pg0" stroke="#d8d8d8" stroke-width="1.8"/>
<use href="#pg1" stroke="#d8d8d8" stroke-width="3.0"/>
<use href="#wg0" stroke="#fff" stroke-width="1.0" opacity="0.7" transform="translate(-0.4,-0.5)"/>
<use href="#wg1" stroke="#fff" stroke-width="1.4" opacity="0.7" transform="translate(-0.4,-0.5)"/>
<use href="#wg2" stroke="#fff" stroke-width="1.8" opacity="0.7" transform="translate(-0.4,-0.5)"/>
<use href="#pg0" stroke="#fff" stroke-width="0.6" opacity="0.7" transform="translate(-0.4,-0.5)"/>
<use href="#pg1" stroke="#fff" stroke-width="1.0" opacity="0.7" transform="translate(-0.4,-0.5)"/>
</g>
<path d="M152 369h0M111 401h0M33 325h0M93 330h0M59 419h0M135 330h0M13 342h0M128 319h0M35 328h0M20 377h0M28 363h0M113 400h0M64 407h0M89 412h0M39 359h0M90 426h0M96 371h0M39 349h0M33 430h0M137 420h0M82 398h0M46 372h0M23 365h0M39 328h0M142 327h0M126 397h0M14 372h0M154 430h0M87 406h0M110 350h0M85 385h0M61 411h0M69 403h0M10 368h0M7 391h0M135 379h0M88 388h0M35 361h0M90 391h0M59 371h0M51 380h0M105 354h0M106 414h0M83 430h0M48 423h0M28 358h0M126 320h0M95 417h0M146 395h0M53 355h0M98 324h0M4 418h0M97 335h0M66 350h0M135 349h0M112 402h0M49 345h0M81 362h0M92 354h0M123 365h0M21 406h0M139 395h0M85 417h0M145 317h0M75 318h0M52 344h0M71 395h0M133 346h0M2 432h0M121 380h0M17 322h0M145 377h0M133 407h0M116 409h0M39 345h0M67 405h0M123 404h0M90 371h0M30 393h0M101 376h0M113 430h0M146 328h0M44 387h0M107 349h0M144 369h0M118 322h0M43 319h0M122 377h0M147 386h0M50 357h0M58 339h0M17 391h0M49 369h0M110 348h0M68 354h0M50 393h0M15 362h0M17 394h0M46 428h0M75 393h0M81 411h0M108 390h0M5 332h0M116 364h0M151 390h0M127 402h0M149 392h0M145 365h0M41 329h0M39 420h0M102 321h0M4 369h0M84 358h0M3 346h0M136 400h0M127 347h0M103 339h0M47 427h0M33 350h0M34 417h0M106 385h0M132 370h0M142 406h0M46 343h0M83 368h0M122 392h0M115 386h0M41 402h0M152 390h0M110 343h0M18 368h0M92 400h0M73 379h0M14 322h0M19 353h0M38 333h0M52 355h0M128 424h0M154 402h0M2 344h0M155 397h0M133 339h0M37 327h0M81 358h0M73 332h0M4 361h0M143 392h0M88 323h0M67 359h0M98 363h0M124 348h0M113 317h0M23 408h0M132 351h0M31 427h0M92 326h0M153 382h0M46 375h0M57 383h0M64 360h0M113 351h0M129 403h0M146 334h0M133 399h0M28 422h0M78 337h0M32 432h0M124 343h0M138 320h0M108 389h0M135 421h0M113 414h0M72 424h0M67 400h0M116 363h0M127 399h0M25 384h0M75 385h0M5 397h0M61 402h0M37 318h0M72 390h0M121 379h0M136 335h0M19 363h0M102 405h0M10 385h0M54 377h0M15 335h0M99 356h0M151 375h0M54 338h0M81 375h0M40 428h0M79 406h0M106 413h0M16 428h0M93 335h0M92 323h0M65 327h0M8 368h0M130 404h0M145 406h0M96 386h0M148 331h0M81 379h0M2 418h0M105 355h0M123 371h0M112 380h0M133 375h0M14 405h0M36 382h0M144 400h0M11 413h0M150 370h0M39 370h0M82 321h0M131 391h0M62 411h0" stroke="#f0f0f0" stroke-width="1.8" stroke-linecap="round" opacity="0.75"/>
<circle cx="71" cy="347.3" r="2.5" fill="#a8a8a8" stroke="#c04545" stroke-width="0.85" stroke-opacity="0.9"/>
<circle cx="101.6" cy="347.3" r="2.5" fill="#a8a8a8" stroke="#c04545" stroke-width="0.85" stroke-opacity="0.9"/>
<circle cx="54.6" cy="357.7" r="2.5" fill="#eeeeee" stroke="#c04545" stroke-width="0.85" stroke-opacity="0.9"/>
<circle cx="47.8" cy="364" r="2.5" fill="#eeeeee" stroke="#c04545" stroke-width="0.85" stroke-opacity="0.9"/>
<circle cx="86.8" cy="364.5" r="2.5" fill="#a8a8a8" stroke="#c04545" stroke-width="0.85" stroke-opacity="0.9"/>
<circle cx="47.2" cy="387.7" r="2.5" fill="#a8a8a8" stroke="#c04545" stroke-width="0.85" stroke-opacity="0.9"/>
<circle cx="76.5" cy="387.2" r="2.5" fill="#a8a8a8" stroke="#c04545" stroke-width="0.85" stroke-opacity="0.9"/>
<circle cx="86.8" cy="385.8" r="2.5" fill="#eeeeee" stroke="#c04545" stroke-width="0.85" stroke-opacity="0.9"/>
<circle cx="110.6" cy="391" r="2.5" fill="#eeeeee" stroke="#c04545" stroke-width="0.85" stroke-opacity="0.9"/>
<circle cx="57.3" cy="398.7" r="2.5" fill="#eeeeee" stroke="#c04545" stroke-width="0.85" stroke-opacity="0.9"/>
<circle cx="96.1" cy="402.7" r="2.5" fill="#eeeeee" stroke="#c04545" stroke-width="0.85" stroke-opacity="0.9"/>
<circle cx="63.4" cy="412.3" r="2.5" fill="#a8a8a8" stroke="#c04545" stroke-width="0.85" stroke-opacity="0.9"/>
<circle cx="125" cy="419.1" r="2.5" fill="#eeeeee" stroke="#c04545" stroke-width="0.85" stroke-opacity="0.9"/>
</g>
<text x="1.7" y="326.7" font-size="14.3" font-weight="bold" fill="#fff" font-family="Liberation Sans, sans-serif">g</text>
<text x="20.3" y="326.7" font-size="10.9" fill="#f4f4f4" stroke="#000" stroke-opacity="0.22" stroke-width="1.5" paint-order="stroke" font-family="Liberation Sans, sans-serif">NCM622/LDPE/PET</text>
<text x="20.3" y="342.5" font-size="10.85" fill="#f4f4f4" stroke="#000" stroke-opacity="0.22" stroke-width="1.5" paint-order="stroke" font-family="Liberation Sans, sans-serif">d=33.61±9.12 nm</text>
<rect x="8.0" y="422.0" width="34.2" height="1.9" fill="#fff"/>
<g clip-path="url(#cph)">
<g filter="url(#bf)">
<rect x="161.1" y="301.4" width="41.3" height="44.4" fill="#686868"/>
<rect x="201.9" y="301.4" width="26.3" height="44.4" fill="#757575"/>
<rect x="227.7" y="301.4" width="26.3" height="44.4" fill="#818181"/>
<rect x="253.4" y="301.4" width="26.3" height="44.4" fill="#7b7b7b"/>
<rect x="279.2" y="301.4" width="26.3" height="44.4" fill="#7d7d7d"/>
<rect x="305.0" y="301.4" width="41.3" height="44.4" fill="#5f5f5f"/>
<rect x="161.1" y="345.3" width="41.3" height="29.4" fill="#878787"/>
<rect x="201.9" y="345.3" width="26.3" height="29.4" fill="#7a7a7a"/>
<rect x="227.7" y="345.3" width="26.3" height="29.4" fill="#878787"/>
<rect x="253.4" y="345.3" width="26.3" height="29.4" fill="#858585"/>
<rect x="279.2" y="345.3" width="26.3" height="29.4" fill="#787878"/>
<rect x="305.0" y="345.3" width="41.3" height="29.4" fill="#656565"/>
<rect x="161.1" y="374.2" width="41.3" height="29.4" fill="#797979"/>
<rect x="201.9" y="374.2" width="26.3" height="29.4" fill="#888888"/>
<rect x="227.7" y="374.2" width="26.3" height="29.4" fill="#646464"/>
<rect x="253.4" y="374.2" width="26.3" height="29.4" fill="#a0a0a0"/>
<rect x="279.2" y="374.2" width="26.3" height="29.4" fill="#a2a2a2"/>
<rect x="305.0" y="374.2" width="41.3" height="29.4" fill="#696969"/>
<rect x="161.1" y="403.1" width="41.3" height="44.4" fill="#606060"/>
<rect x="201.9" y="403.1" width="26.3" height="44.4" fill="#686868"/>
<rect x="227.7" y="403.1" width="26.3" height="44.4" fill="#828282"/>
<rect x="253.4" y="403.1" width="26.3" height="44.4" fill="#a0a0a0"/>
<rect x="279.2" y="403.1" width="26.3" height="44.4" fill="#8f8f8f"/>
<rect x="305.0" y="403.1" width="41.3" height="44.4" fill="#555555"/>
</g>
<polygon points="258,368 280,356 306,360 320,380 322,410 312,432 262,432 252,410 250,386" fill="#b4b4b4" filter="url(#fb3)"/>
<polygon points="200,402 222,396 248,400 252,432 198,432" fill="#3a3a3a" filter="url(#fb3)"/>
<polygon points="306,316 331,316 331,342 318,338" fill="#5a5a5a" filter="url(#fb3)"/>
<rect x="176.1" y="316.4" width="154.70" height="115.60" filter="url(#txh)" style="mix-blend-mode:overlay" opacity="0.35"/>
<g filter="url(#bw)" fill="none" stroke-linecap="round" style="mix-blend-mode:overlay" opacity="0.72">
<use href="#wh0" stroke="#000" stroke-width="4.5" opacity="0.38" transform="translate(0.9,1)"/>
<use href="#wh1" stroke="#000" stroke-width="5.3" opacity="0.38" transform="translate(0.9,1)"/>
<use href="#wh2" stroke="#000" stroke-width="6.1" opacity="0.38" transform="translate(0.9,1)"/>
<use href="#ph0" stroke="#000" stroke-width="3.8" opacity="0.38" transform="translate(0.9,1)"/>
<use href="#ph1" stroke="#000" stroke-width="4.8" opacity="0.38" transform="translate(0.9,1)"/>
<use href="#wh0" stroke="#d8d8d8" stroke-width="3.2"/>
<use href="#wh1" stroke="#d8d8d8" stroke-width="4.0"/>
<use href="#wh2" stroke="#d8d8d8" stroke-width="4.8"/>
<use href="#ph0" stroke="#d8d8d8" stroke-width="2.5"/>
<use href="#ph1" stroke="#d8d8d8" stroke-width="3.5"/>
<use href="#wh0" stroke="#fff" stroke-width="1.1" opacity="0.7" transform="translate(-0.4,-0.5)"/>
<use href="#wh1" stroke="#fff" stroke-width="1.4" opacity="0.7" transform="translate(-0.4,-0.5)"/>
<use href="#wh2" stroke="#fff" stroke-width="1.7" opacity="0.7" transform="translate(-0.4,-0.5)"/>
<use href="#ph0" stroke="#fff" stroke-width="0.9" opacity="0.7" transform="translate(-0.4,-0.5)"/>
<use href="#ph1" stroke="#fff" stroke-width="1.2" opacity="0.7" transform="translate(-0.4,-0.5)"/>
</g>
<circle cx="298.4" cy="330.4" r="2.5" fill="#eeeeee" stroke="#c04545" stroke-width="0.85" stroke-opacity="0.9"/>
<circle cx="203.7" cy="355.5" r="2.5" fill="#eeeeee" stroke="#c04545" stroke-width="0.85" stroke-opacity="0.9"/>
<circle cx="227.7" cy="360.4" r="2.5" fill="#eeeeee" stroke="#c04545" stroke-width="0.85" stroke-opacity="0.9"/>
<circle cx="262.4" cy="348.7" r="2.5" fill="#eeeeee" stroke="#c04545" stroke-width="0.85" stroke-opacity="0.9"/>
<circle cx="285" cy="349.5" r="2.5" fill="#a8a8a8" stroke="#c04545" stroke-width="0.85" stroke-opacity="0.9"/>
<circle cx="266.5" cy="364" r="2.5" fill="#a8a8a8" stroke="#c04545" stroke-width="0.85" stroke-opacity="0.9"/>
<circle cx="196.8" cy="389.9" r="2.5" fill="#eeeeee" stroke="#c04545" stroke-width="0.85" stroke-opacity="0.9"/>
<circle cx="324.6" cy="389.1" r="2.5" fill="#a8a8a8" stroke="#c04545" stroke-width="0.85" stroke-opacity="0.9"/>
<circle cx="226.1" cy="411.8" r="2.5" fill="#a8a8a8" stroke="#c04545" stroke-width="0.85" stroke-opacity="0.9"/>
<circle cx="241.9" cy="411.5" r="2.5" fill="#a8a8a8" stroke="#c04545" stroke-width="0.85" stroke-opacity="0.9"/>
</g>
<text x="179.4" y="326.7" font-size="14.3" font-weight="bold" fill="#fff" font-family="Liberation Sans, sans-serif">h</text>
<text x="200.3" y="326.7" font-size="10.9" fill="#f4f4f4" stroke="#000" stroke-opacity="0.22" stroke-width="1.5" paint-order="stroke" font-family="Liberation Sans, sans-serif">NCM622/PP/PET</text>
<text x="200.3" y="342.5" font-size="10.85" fill="#f4f4f4" stroke="#000" stroke-opacity="0.22" stroke-width="1.5" paint-order="stroke" font-family="Liberation Sans, sans-serif">d=52.99±15.61 nm</text>
<rect x="187.0" y="422.0" width="34.2" height="1.9" fill="#fff"/>
<g clip-path="url(#cpi)">
<g filter="url(#bf)">
<rect x="338.0" y="300.6" width="41.2" height="44.6" fill="#494949"/>
<rect x="378.7" y="300.6" width="26.2" height="44.6" fill="#575757"/>
<rect x="404.3" y="300.6" width="26.2" height="44.6" fill="#575757"/>
<rect x="430.0" y="300.6" width="26.2" height="44.6" fill="#6b6b6b"/>
<rect x="455.7" y="300.6" width="26.2" height="44.6" fill="#787878"/>
<rect x="481.3" y="300.6" width="41.2" height="44.6" fill="#6d6d6d"/>
<rect x="338.0" y="344.7" width="41.2" height="29.6" fill="#595959"/>
<rect x="378.7" y="344.7" width="26.2" height="29.6" fill="#6d6d6d"/>
<rect x="404.3" y="344.7" width="26.2" height="29.6" fill="#696969"/>
<rect x="430.0" y="344.7" width="26.2" height="29.6" fill="#8b8b8b"/>
<rect x="455.7" y="344.7" width="26.2" height="29.6" fill="#5f5f5f"/>
<rect x="481.3" y="344.7" width="41.2" height="29.6" fill="#696969"/>
<rect x="338.0" y="373.8" width="41.2" height="29.6" fill="#666666"/>
<rect x="378.7" y="373.8" width="26.2" height="29.6" fill="#7b7b7b"/>
<rect x="404.3" y="373.8" width="26.2" height="29.6" fill="#5f5f5f"/>
<rect x="430.0" y="373.8" width="26.2" height="29.6" fill="#646464"/>
<rect x="455.7" y="373.8" width="26.2" height="29.6" fill="#5f5f5f"/>
<rect x="481.3" y="373.8" width="41.2" height="29.6" fill="#666666"/>
<rect x="338.0" y="402.9" width="41.2" height="44.6" fill="#7c7c7c"/>
<rect x="378.7" y="402.9" width="26.2" height="44.6" fill="#676767"/>
<rect x="404.3" y="402.9" width="26.2" height="44.6" fill="#595959"/>
<rect x="430.0" y="402.9" width="26.2" height="44.6" fill="#6b6b6b"/>
<rect x="455.7" y="402.9" width="26.2" height="44.6" fill="#6a6a6a"/>
<rect x="481.3" y="402.9" width="41.2" height="44.6" fill="#636363"/>
</g>
<polygon points="353,316 388,316 388,340 374,360 362,376 353,378" fill="#3e3e3e" filter="url(#fb3)"/>
<polygon points="404,345 440,340 475,352 478,380 450,392 412,388 402,365" fill="#8c8c8c" filter="url(#fb4)"/>
<rect x="353" y="315.6" width="154.00" height="116.40" filter="url(#txi)" style="mix-blend-mode:overlay" opacity="0.35"/>
<g filter="url(#bw)" fill="none" stroke-linecap="round" style="mix-blend-mode:overlay" opacity="0.72">
<use href="#wi0" stroke="#000" stroke-width="4.3" opacity="0.38" transform="translate(0.9,1)"/>
<use href="#wi1" stroke="#000" stroke-width="5.0" opacity="0.38" transform="translate(0.9,1)"/>
<use href="#wi2" stroke="#000" stroke-width="5.8" opacity="0.38" transform="translate(0.9,1)"/>
<use href="#pi0" stroke="#000" stroke-width="3.3" opacity="0.38" transform="translate(0.9,1)"/>
<use href="#pi1" stroke="#000" stroke-width="4.5" opacity="0.38" transform="translate(0.9,1)"/>
<use href="#wi0" stroke="#d8d8d8" stroke-width="3.0"/>
<use href="#wi1" stroke="#d8d8d8" stroke-width="3.8"/>
<use href="#wi2" stroke="#d8d8d8" stroke-width="4.5"/>
<use href="#pi0" stroke="#d8d8d8" stroke-width="2.0"/>
<use href="#pi1" stroke="#d8d8d8" stroke-width="3.2"/>
<use href="#wi0" stroke="#fff" stroke-width="1.0" opacity="0.7" transform="translate(-0.4,-0.5)"/>
<use href="#wi1" stroke="#fff" stroke-width="1.3" opacity="0.7" transform="translate(-0.4,-0.5)"/>
<use href="#wi2" stroke="#fff" stroke-width="1.6" opacity="0.7" transform="translate(-0.4,-0.5)"/>
<use href="#pi0" stroke="#fff" stroke-width="0.7" opacity="0.7" transform="translate(-0.4,-0.5)"/>
<use href="#pi1" stroke="#fff" stroke-width="1.1" opacity="0.7" transform="translate(-0.4,-0.5)"/>
</g>
<circle cx="356.9" cy="363.2" r="2.5" fill="#a8a8a8" stroke="#c04545" stroke-width="0.85" stroke-opacity="0.9"/>
<circle cx="470.2" cy="352.2" r="2.5" fill="#a8a8a8" stroke="#c04545" stroke-width="0.85" stroke-opacity="0.9"/>
<circle cx="483.6" cy="355.5" r="2.5" fill="#a8a8a8" stroke="#c04545" stroke-width="0.85" stroke-opacity="0.9"/>
<circle cx="449" cy="373.3" r="2.5" fill="#eeeeee" stroke="#c04545" stroke-width="0.85" stroke-opacity="0.9"/>
<circle cx="389.4" cy="377.4" r="2.5" fill="#eeeeee" stroke="#c04545" stroke-width="0.85" stroke-opacity="0.9"/>
<circle cx="383.4" cy="381.4" r="2.5" fill="#a8a8a8" stroke="#c04545" stroke-width="0.85" stroke-opacity="0.9"/>
<circle cx="423" cy="384.5" r="2.5" fill="#eeeeee" stroke="#c04545" stroke-width="0.85" stroke-opacity="0.9"/>
<circle cx="423" cy="391.3" r="2.5" fill="#eeeeee" stroke="#c04545" stroke-width="0.85" stroke-opacity="0.9"/>
<circle cx="455" cy="387.7" r="2.5" fill="#a8a8a8" stroke="#c04545" stroke-width="0.85" stroke-opacity="0.9"/>
<circle cx="467.2" cy="382.8" r="2.5" fill="#a8a8a8" stroke="#c04545" stroke-width="0.85" stroke-opacity="0.9"/>
<circle cx="481.7" cy="389.1" r="2.5" fill="#eeeeee" stroke="#c04545" stroke-width="0.85" stroke-opacity="0.9"/>
<circle cx="414.3" cy="409.6" r="2.5" fill="#eeeeee" stroke="#c04545" stroke-width="0.85" stroke-opacity="0.9"/>
<circle cx="434.7" cy="408.8" r="2.5" fill="#a8a8a8" stroke="#c04545" stroke-width="0.85" stroke-opacity="0.9"/>
<circle cx="421.6" cy="415.9" r="2.5" fill="#eeeeee" stroke="#c04545" stroke-width="0.85" stroke-opacity="0.9"/>
</g>
<text x="355.4" y="326.7" font-size="14.3" font-weight="bold" fill="#fff" font-family="Liberation Sans, sans-serif">i</text>
<text x="371.0" y="326.7" font-size="10.9" fill="#f4f4f4" stroke="#000" stroke-opacity="0.22" stroke-width="1.5" paint-order="stroke" font-family="Liberation Sans, sans-serif">NCM622/PC/PET</text>
<text x="371.0" y="342.5" font-size="10.85" fill="#f4f4f4" stroke="#000" stroke-opacity="0.22" stroke-width="1.5" paint-order="stroke" font-family="Liberation Sans, sans-serif">d=32.05±7.39 nm</text>
<rect x="363.2" y="422.0" width="34.2" height="1.9" fill="#fff"/>
<g clip-path="url(#cpj)">
<g filter="url(#bf)">
<rect x="515.0" y="301.0" width="41.3" height="44.5" fill="#696969"/>
<rect x="555.8" y="301.0" width="26.3" height="44.5" fill="#696969"/>
<rect x="581.7" y="301.0" width="26.3" height="44.5" fill="#737373"/>
<rect x="607.5" y="301.0" width="26.3" height="44.5" fill="#787878"/>
<rect x="633.3" y="301.0" width="26.3" height="44.5" fill="#787878"/>
<rect x="659.2" y="301.0" width="41.3" height="44.5" fill="#737373"/>
<rect x="515.0" y="345.0" width="41.3" height="29.5" fill="#707070"/>
<rect x="555.8" y="345.0" width="26.3" height="29.5" fill="#636363"/>
<rect x="581.7" y="345.0" width="26.3" height="29.5" fill="#686868"/>
<rect x="607.5" y="345.0" width="26.3" height="29.5" fill="#737373"/>
<rect x="633.3" y="345.0" width="26.3" height="29.5" fill="#888888"/>
<rect x="659.2" y="345.0" width="41.3" height="29.5" fill="#7b7b7b"/>
<rect x="515.0" y="374.0" width="41.3" height="29.5" fill="#727272"/>
<rect x="555.8" y="374.0" width="26.3" height="29.5" fill="#666666"/>
<rect x="581.7" y="374.0" width="26.3" height="29.5" fill="#3c3c3c"/>
<rect x="607.5" y="374.0" width="26.3" height="29.5" fill="#6e6e6e"/>
<rect x="633.3" y="374.0" width="26.3" height="29.5" fill="#636363"/>
<rect x="659.2" y="374.0" width="41.3" height="29.5" fill="#656565"/>
<rect x="515.0" y="403.0" width="41.3" height="44.5" fill="#6a6a6a"/>
<rect x="555.8" y="403.0" width="26.3" height="44.5" fill="#6a6a6a"/>
<rect x="581.7" y="403.0" width="26.3" height="44.5" fill="#696969"/>
<rect x="607.5" y="403.0" width="26.3" height="44.5" fill="#919191"/>
<rect x="633.3" y="403.0" width="26.3" height="44.5" fill="#8c8c8c"/>
<rect x="659.2" y="403.0" width="41.3" height="44.5" fill="#838383"/>
</g>
<polygon points="592,400 610,392 640,394 660,402 665,432 590,432" fill="#b6b6b6" filter="url(#fb3)"/>
<polygon points="590,352 612,342 640,346 652,366 640,390 612,392 592,380" fill="#373737" filter="url(#fb3)"/>
<polygon points="530,316 685,316 685,344 640,346 600,342 560,340 530,338" fill="#919191" filter="url(#fb4)"/>
<rect x="530" y="316" width="155.00" height="116.00" filter="url(#txj)" style="mix-blend-mode:overlay" opacity="0.35"/>
<g filter="url(#bw)" fill="none" stroke-linecap="round" style="mix-blend-mode:overlay" opacity="0.72">
<use href="#wj0" stroke="#000" stroke-width="4.3" opacity="0.38" transform="translate(0.9,1)"/>
<use href="#wj1" stroke="#000" stroke-width="5.2" opacity="0.38" transform="translate(0.9,1)"/>
<use href="#wj2" stroke="#000" stroke-width="6.1" opacity="0.38" transform="translate(0.9,1)"/>
<use href="#pj0" stroke="#000" stroke-width="3.3" opacity="0.38" transform="translate(0.9,1)"/>
<use href="#pj1" stroke="#000" stroke-width="4.5" opacity="0.38" transform="translate(0.9,1)"/>
<use href="#wj0" stroke="#d8d8d8" stroke-width="3.0"/>
<use href="#wj1" stroke="#d8d8d8" stroke-width="3.9"/>
<use href="#wj2" stroke="#d8d8d8" stroke-width="4.8"/>
<use href="#pj0" stroke="#d8d8d8" stroke-width="2.0"/>
<use href="#pj1" stroke="#d8d8d8" stroke-width="3.2"/>
<use href="#wj0" stroke="#fff" stroke-width="1.0" opacity="0.7" transform="translate(-0.4,-0.5)"/>
<use href="#wj1" stroke="#fff" stroke-width="1.4" opacity="0.7" transform="translate(-0.4,-0.5)"/>
<use href="#wj2" stroke="#fff" stroke-width="1.7" opacity="0.7" transform="translate(-0.4,-0.5)"/>
<use href="#pj0" stroke="#fff" stroke-width="0.7" opacity="0.7" transform="translate(-0.4,-0.5)"/>
<use href="#pj1" stroke="#fff" stroke-width="1.1" opacity="0.7" transform="translate(-0.4,-0.5)"/>
</g>
<circle cx="667" cy="343.5" r="2.5" fill="#a8a8a8" stroke="#c04545" stroke-width="0.85" stroke-opacity="0.9"/>
<circle cx="603.6" cy="354.4" r="2.5" fill="#a8a8a8" stroke="#c04545" stroke-width="0.85" stroke-opacity="0.9"/>
<circle cx="624.6" cy="359.1" r="2.5" fill="#a8a8a8" stroke="#c04545" stroke-width="0.85" stroke-opacity="0.9"/>
<circle cx="563.2" cy="362.4" r="2.5" fill="#eeeeee" stroke="#c04545" stroke-width="0.85" stroke-opacity="0.9"/>
<circle cx="596" cy="365.9" r="2.5" fill="#eeeeee" stroke="#c04545" stroke-width="0.85" stroke-opacity="0.9"/>
<circle cx="601.4" cy="376.8" r="2.5" fill="#a8a8a8" stroke="#c04545" stroke-width="0.85" stroke-opacity="0.9"/>
<circle cx="632.3" cy="375.5" r="2.5" fill="#a8a8a8" stroke="#c04545" stroke-width="0.85" stroke-opacity="0.9"/>
<circle cx="546" cy="377.7" r="2.5" fill="#eeeeee" stroke="#c04545" stroke-width="0.85" stroke-opacity="0.9"/>
<circle cx="559.9" cy="377.4" r="2.5" fill="#eeeeee" stroke="#c04545" stroke-width="0.85" stroke-opacity="0.9"/>
<circle cx="570" cy="389.7" r="2.5" fill="#a8a8a8" stroke="#c04545" stroke-width="0.85" stroke-opacity="0.9"/>
<circle cx="585" cy="385.9" r="2.5" fill="#a8a8a8" stroke="#c04545" stroke-width="0.85" stroke-opacity="0.9"/>
<circle cx="542.7" cy="387.8" r="2.5" fill="#eeeeee" stroke="#c04545" stroke-width="0.85" stroke-opacity="0.9"/>
<circle cx="637.7" cy="387.8" r="2.5" fill="#eeeeee" stroke="#c04545" stroke-width="0.85" stroke-opacity="0.9"/>
<circle cx="668.3" cy="387.8" r="2.5" fill="#a8a8a8" stroke="#c04545" stroke-width="0.85" stroke-opacity="0.9"/>
<circle cx="619.2" cy="396.5" r="2.5" fill="#a8a8a8" stroke="#c04545" stroke-width="0.85" stroke-opacity="0.9"/>
<circle cx="559.6" cy="406.1" r="2.5" fill="#eeeeee" stroke="#c04545" stroke-width="0.85" stroke-opacity="0.9"/>
<circle cx="586.4" cy="409.1" r="2.5" fill="#a8a8a8" stroke="#c04545" stroke-width="0.85" stroke-opacity="0.9"/>
</g>
<text x="532.0" y="326.7" font-size="14.3" font-weight="bold" fill="#fff" font-family="Liberation Sans, sans-serif">j</text>
<text x="550.2" y="326.7" font-size="10.9" fill="#f4f4f4" stroke="#000" stroke-opacity="0.22" stroke-width="1.5" paint-order="stroke" font-family="Liberation Sans, sans-serif">NCM622/PS/PET</text>
<text x="550.2" y="342.5" font-size="10.85" fill="#f4f4f4" stroke="#000" stroke-opacity="0.22" stroke-width="1.5" paint-order="stroke" font-family="Liberation Sans, sans-serif">d=47.13±15.74 nm</text>
<rect x="541.2" y="422.0" width="34.2" height="1.9" fill="#fff"/>
</svg>
</body></html>
